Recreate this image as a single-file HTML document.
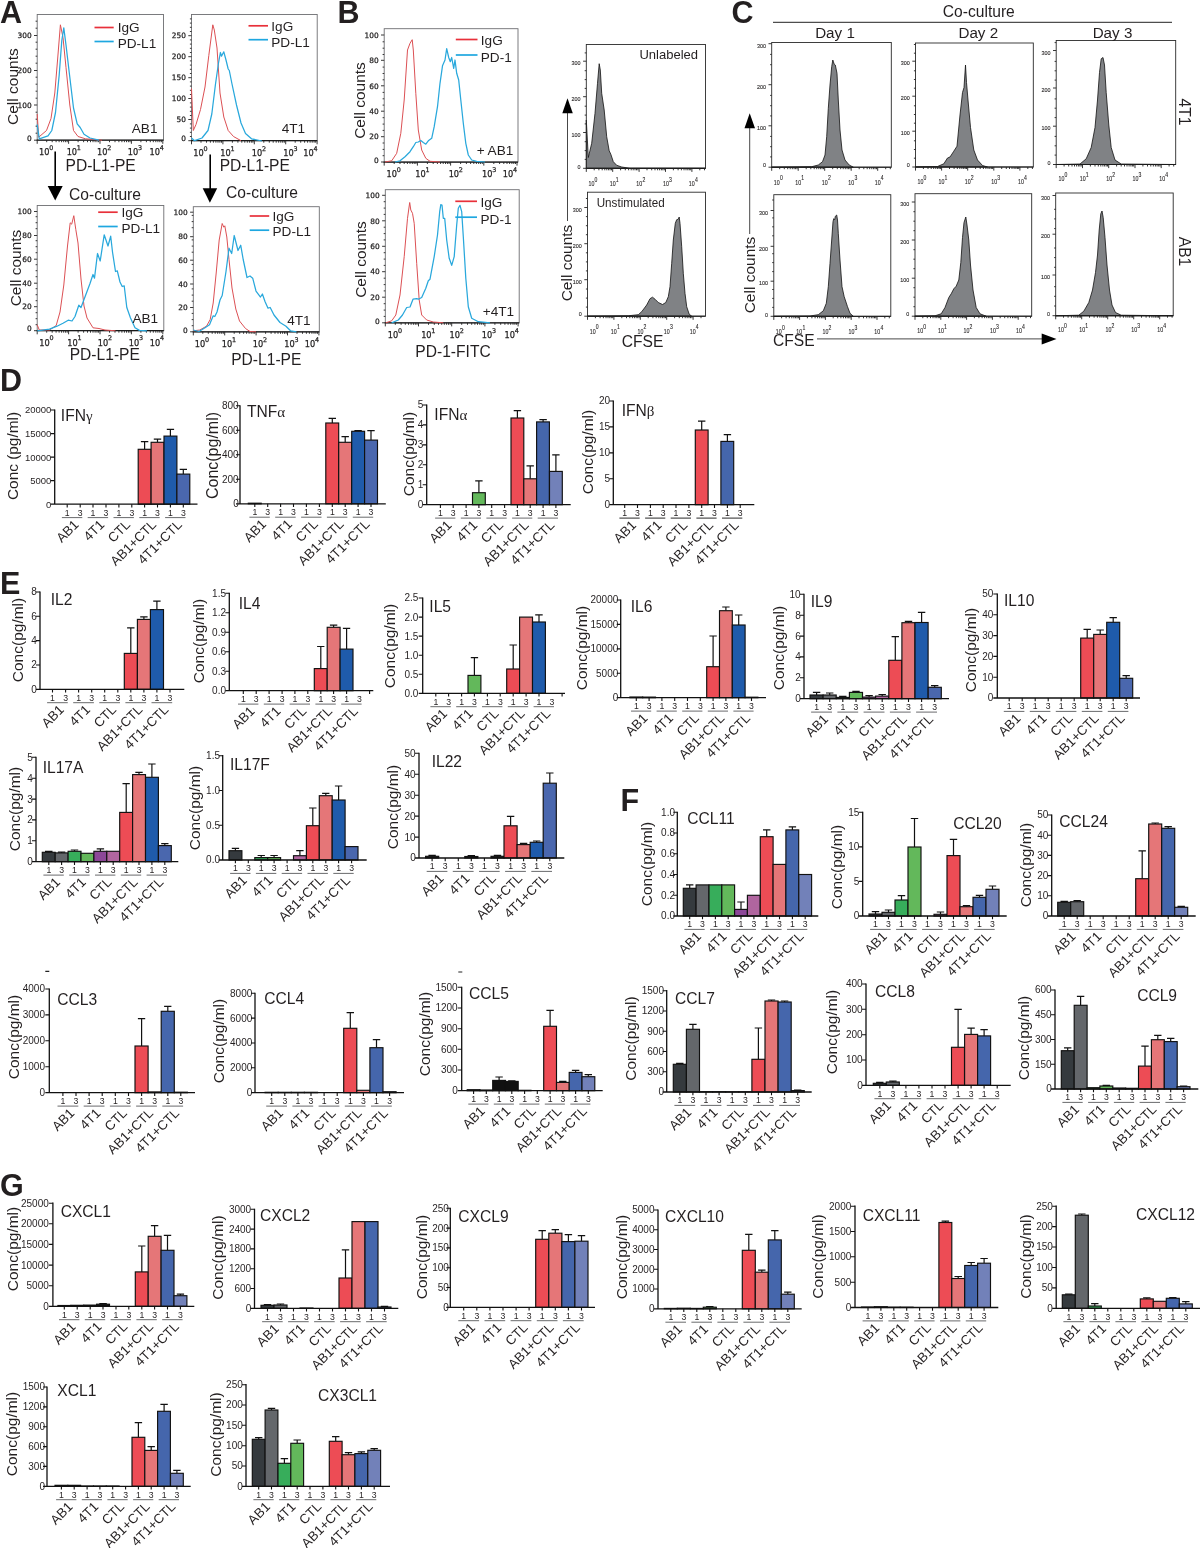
<!DOCTYPE html>
<html><head><meta charset="utf-8"><title>Figure</title>
<style>
html,body{margin:0;padding:0;background:#fff}
svg{display:block}
text{font-family:"Liberation Sans",sans-serif;fill:#231f20}
.pl{font-family:"Liberation Sans",sans-serif;font-weight:bold;font-size:30.5px}
.dj{font-family:"DejaVu Sans",sans-serif}
</style></head><body>
<svg width="1200" height="1548" viewBox="0 0 1200 1548">
<rect width="1200" height="1548" fill="#fff"/>
<g id="A1"><rect x="37.2" y="14.5" width="126.3" height="125.7" fill="none" stroke="#6d6e71" stroke-width="0.9"/><path d="M36.7 140.2H163.5" fill="none" stroke="#1a1a1a" stroke-width="1.25"/><path d="M34.0 35.5H37.2M34.0 70.5H37.2M34.0 105.0H37.2M34.0 140.2H37.2M35.6 133.2H37.2M35.6 126.2H37.2M35.6 119.2H37.2M35.6 112.2H37.2M35.6 98.2H37.2M35.6 91.2H37.2M35.6 84.2H37.2M35.6 77.2H37.2M35.6 63.2H37.2M35.6 56.2H37.2M35.6 49.2H37.2M35.6 42.2H37.2M35.6 28.2H37.2M35.6 21.2H37.2M37.2 140.2v3.6M46.7 140.2v2M52.2 140.2v2M56.1 140.2v2M59.1 140.2v2M61.6 140.2v2M63.7 140.2v2M65.6 140.2v2M67.2 140.2v2M68.6 140.2v3.6M78.1 140.2v2M83.6 140.2v2M87.5 140.2v2M90.5 140.2v2M93.0 140.2v2M95.1 140.2v2M97.0 140.2v2M98.6 140.2v2M100.0 140.2v3.6M109.5 140.2v2M115.0 140.2v2M118.9 140.2v2M121.9 140.2v2M124.4 140.2v2M126.5 140.2v2M128.4 140.2v2M130.0 140.2v2M131.4 140.2v3.6M140.9 140.2v2M146.4 140.2v2M150.3 140.2v2M153.3 140.2v2M155.8 140.2v2M157.9 140.2v2M159.8 140.2v2M161.4 140.2v2M162.8 140.2v3.6" stroke="#222" stroke-width="0.9" fill="none"/><text class="dj" x="31.6" y="38.2" font-size="7.4" text-anchor="end" fill="#222" stroke="#222" stroke-width="0.25">300</text><text class="dj" x="31.6" y="73.2" font-size="7.4" text-anchor="end" fill="#222" stroke="#222" stroke-width="0.25">200</text><text class="dj" x="31.6" y="107.7" font-size="7.4" text-anchor="end" fill="#222" stroke="#222" stroke-width="0.25">100</text><text class="dj" x="31.6" y="140.9" font-size="7.4" text-anchor="end" fill="#222" stroke="#222" stroke-width="0.25">0</text><text class="dj" x="46.1" y="155.3" font-size="8.2" text-anchor="middle" fill="#222" stroke="#222" stroke-width="0.25">10<tspan dy="-5.3" dx="-0.2" font-size="6.4">0</tspan></text><text class="dj" x="73.8" y="155.3" font-size="8.2" text-anchor="middle" fill="#222" stroke="#222" stroke-width="0.25">10<tspan dy="-5.3" dx="-0.2" font-size="6.4">1</tspan></text><text class="dj" x="104.2" y="155.3" font-size="8.2" text-anchor="middle" fill="#222" stroke="#222" stroke-width="0.25">10<tspan dy="-5.3" dx="-0.2" font-size="6.4">2</tspan></text><text class="dj" x="135.0" y="155.3" font-size="8.2" text-anchor="middle" fill="#222" stroke="#222" stroke-width="0.25">10<tspan dy="-5.3" dx="-0.2" font-size="6.4">3</tspan></text><text class="dj" x="156.7" y="155.3" font-size="8.2" text-anchor="middle" fill="#222" stroke="#222" stroke-width="0.25">10<tspan dy="-5.3" dx="-0.2" font-size="6.4">4</tspan></text><path d="M37.2 114.0 L38.7 137.2 L46.5 130.5 L51.0 118.5 L54.8 93.0 L57.8 57.0 L60.4 24.8 L63.0 37.5 L66.0 67.5 L69.8 105.0 L73.5 130.5 L78.0 136.5 L85.5 138.8 L102.0 140.2" fill="none" stroke="#dc5054" stroke-width="1.0" stroke-linejoin="round"/><path d="M37.2 124.5 L39.3 138.8 L48.0 135.8 L51.8 130.5 L55.5 112.5 L59.2 75.0 L61.8 40.5 L63.8 27.8 L66.0 45.0 L69.0 70.5 L73.5 108.0 L77.2 123.8 L80.2 127.5 L84.0 134.2 L90.0 138.0 L99.0 140.2" fill="none" stroke="#29a8dc" stroke-width="1.25" stroke-linejoin="round"/><path d="M94.5 27.5H113.7" stroke="#e8303a" stroke-width="1.7"/><path d="M94.5 41.5H113.7" stroke="#1ea7e0" stroke-width="1.7"/><text x="117.7" y="32.2" font-size="13.6">IgG</text><text x="117.7" y="48.0" font-size="13.6">PD-L1</text><text x="157.5" y="132.7" font-size="13.6" text-anchor="end">AB1</text><text transform="translate(18.2 86.6) rotate(-90)" font-size="15.5" text-anchor="middle">Cell counts</text><text x="65.5" y="170.7" font-size="15.6">PD-L1-PE</text></g>
<g id="A2"><rect x="191.5" y="14.5" width="125.7" height="126.2" fill="none" stroke="#6d6e71" stroke-width="0.9"/><path d="M191.0 140.7H317.2" fill="none" stroke="#1a1a1a" stroke-width="1.25"/><path d="M188.3 35.7H191.5M188.3 56.7H191.5M188.3 77.7H191.5M188.3 98.5H191.5M188.3 119.5H191.5M188.3 140.7H191.5M189.9 136.5H191.5M189.9 132.3H191.5M189.9 128.1H191.5M189.9 123.9H191.5M189.9 115.5H191.5M189.9 111.3H191.5M189.9 107.1H191.5M189.9 102.9H191.5M189.9 94.5H191.5M189.9 90.3H191.5M189.9 86.1H191.5M189.9 81.9H191.5M189.9 73.5H191.5M189.9 69.3H191.5M189.9 65.1H191.5M189.9 60.9H191.5M189.9 52.5H191.5M189.9 48.3H191.5M189.9 44.1H191.5M189.9 39.9H191.5M189.9 31.5H191.5M189.9 27.3H191.5M189.9 23.1H191.5M189.9 18.9H191.5M191.5 140.7v3.6M201.0 140.7v2M206.5 140.7v2M210.4 140.7v2M213.4 140.7v2M215.9 140.7v2M218.0 140.7v2M219.9 140.7v2M221.5 140.7v2M222.9 140.7v3.6M232.4 140.7v2M237.9 140.7v2M241.8 140.7v2M244.8 140.7v2M247.3 140.7v2M249.4 140.7v2M251.3 140.7v2M252.9 140.7v2M254.3 140.7v3.6M263.8 140.7v2M269.3 140.7v2M273.2 140.7v2M276.2 140.7v2M278.7 140.7v2M280.8 140.7v2M282.7 140.7v2M284.3 140.7v2M285.7 140.7v3.6M295.2 140.7v2M300.7 140.7v2M304.6 140.7v2M307.6 140.7v2M310.1 140.7v2M312.2 140.7v2M314.1 140.7v2M315.7 140.7v2M317.1 140.7v3.6" stroke="#222" stroke-width="0.9" fill="none"/><text class="dj" x="185.9" y="38.4" font-size="7.4" text-anchor="end" fill="#222" stroke="#222" stroke-width="0.25">250</text><text class="dj" x="185.9" y="59.4" font-size="7.4" text-anchor="end" fill="#222" stroke="#222" stroke-width="0.25">200</text><text class="dj" x="185.9" y="80.4" font-size="7.4" text-anchor="end" fill="#222" stroke="#222" stroke-width="0.25">150</text><text class="dj" x="185.9" y="101.2" font-size="7.4" text-anchor="end" fill="#222" stroke="#222" stroke-width="0.25">100</text><text class="dj" x="185.9" y="122.2" font-size="7.4" text-anchor="end" fill="#222" stroke="#222" stroke-width="0.25">50</text><text class="dj" x="185.9" y="141.4" font-size="7.4" text-anchor="end" fill="#222" stroke="#222" stroke-width="0.25">0</text><text class="dj" x="200.5" y="156.0" font-size="8.2" text-anchor="middle" fill="#222" stroke="#222" stroke-width="0.25">10<tspan dy="-5.3" dx="-0.2" font-size="6.4">0</tspan></text><text class="dj" x="227.5" y="156.0" font-size="8.2" text-anchor="middle" fill="#222" stroke="#222" stroke-width="0.25">10<tspan dy="-5.3" dx="-0.2" font-size="6.4">1</tspan></text><text class="dj" x="259.0" y="156.0" font-size="8.2" text-anchor="middle" fill="#222" stroke="#222" stroke-width="0.25">10<tspan dy="-5.3" dx="-0.2" font-size="6.4">2</tspan></text><text class="dj" x="290.5" y="156.0" font-size="8.2" text-anchor="middle" fill="#222" stroke="#222" stroke-width="0.25">10<tspan dy="-5.3" dx="-0.2" font-size="6.4">3</tspan></text><text class="dj" x="310.5" y="156.0" font-size="8.2" text-anchor="middle" fill="#222" stroke="#222" stroke-width="0.25">10<tspan dy="-5.3" dx="-0.2" font-size="6.4">4</tspan></text><path d="M191.5 88.5 L193.3 130.5 L196.0 124.5 L200.5 109.5 L205.0 87.0 L208.8 55.5 L212.8 24.8 L214.3 30.0 L217.0 48.0 L220.0 93.0 L223.8 117.0 L228.2 130.5 L233.5 136.5 L241.0 140.7" fill="none" stroke="#dc5054" stroke-width="1.0" stroke-linejoin="round"/><path d="M191.5 138.0 L194.5 140.7 L202.0 138.0 L208.0 130.5 L211.8 114.0 L215.5 84.0 L218.5 63.0 L220.4 52.5 L221.5 56.2 L223.8 51.8 L226.0 60.0 L228.2 69.0 L229.3 70.5 L232.0 84.0 L236.5 105.0 L241.0 123.0 L245.5 133.5 L251.5 138.8 L262.0 141.0" fill="none" stroke="#29a8dc" stroke-width="1.25" stroke-linejoin="round"/><path d="M248.5 25.8H268.0" stroke="#e8303a" stroke-width="1.7"/><path d="M248.5 39.7H268.0" stroke="#1ea7e0" stroke-width="1.7"/><text x="271.3" y="30.7" font-size="13.6">IgG</text><text x="271.3" y="46.5" font-size="13.6">PD-L1</text><text x="305.2" y="133.2" font-size="13.6" text-anchor="end">4T1</text><text x="219.7" y="171" font-size="15.6">PD-L1-PE</text></g>
<g id="A3"><rect x="37.2" y="205.5" width="126.6" height="125.2" fill="none" stroke="#6d6e71" stroke-width="0.9"/><path d="M36.7 330.7H163.8" fill="none" stroke="#1a1a1a" stroke-width="1.25"/><path d="M34.0 211.5H37.2M34.0 235.5H37.2M34.0 259.2H37.2M34.0 283.2H37.2M34.0 306.7H37.2M34.0 330.7H37.2M35.6 324.7H37.2M35.6 318.7H37.2M35.6 312.7H37.2M35.6 300.7H37.2M35.6 294.7H37.2M35.6 288.7H37.2M35.6 276.7H37.2M35.6 270.7H37.2M35.6 264.7H37.2M35.6 252.7H37.2M35.6 246.7H37.2M35.6 240.7H37.2M35.6 228.7H37.2M35.6 222.7H37.2M35.6 216.7H37.2M37.2 330.7v3.6M46.7 330.7v2M52.2 330.7v2M56.1 330.7v2M59.1 330.7v2M61.6 330.7v2M63.7 330.7v2M65.6 330.7v2M67.2 330.7v2M68.6 330.7v3.6M78.1 330.7v2M83.6 330.7v2M87.5 330.7v2M90.5 330.7v2M93.0 330.7v2M95.1 330.7v2M97.0 330.7v2M98.6 330.7v2M100.0 330.7v3.6M109.5 330.7v2M115.0 330.7v2M118.9 330.7v2M121.9 330.7v2M124.4 330.7v2M126.5 330.7v2M128.4 330.7v2M130.0 330.7v2M131.4 330.7v3.6M140.9 330.7v2M146.4 330.7v2M150.3 330.7v2M153.3 330.7v2M155.8 330.7v2M157.9 330.7v2M159.8 330.7v2M161.4 330.7v2M162.8 330.7v3.6" stroke="#222" stroke-width="0.9" fill="none"/><text class="dj" x="31.6" y="214.2" font-size="7.4" text-anchor="end" fill="#222" stroke="#222" stroke-width="0.25">100</text><text class="dj" x="31.6" y="238.2" font-size="7.4" text-anchor="end" fill="#222" stroke="#222" stroke-width="0.25">80</text><text class="dj" x="31.6" y="261.9" font-size="7.4" text-anchor="end" fill="#222" stroke="#222" stroke-width="0.25">60</text><text class="dj" x="31.6" y="285.9" font-size="7.4" text-anchor="end" fill="#222" stroke="#222" stroke-width="0.25">40</text><text class="dj" x="31.6" y="309.4" font-size="7.4" text-anchor="end" fill="#222" stroke="#222" stroke-width="0.25">20</text><text class="dj" x="31.6" y="331.4" font-size="7.4" text-anchor="end" fill="#222" stroke="#222" stroke-width="0.25">0</text><text class="dj" x="46.5" y="345.5" font-size="8.2" text-anchor="middle" fill="#222" stroke="#222" stroke-width="0.25">10<tspan dy="-5.3" dx="-0.2" font-size="6.4">0</tspan></text><text class="dj" x="74.5" y="345.5" font-size="8.2" text-anchor="middle" fill="#222" stroke="#222" stroke-width="0.25">10<tspan dy="-5.3" dx="-0.2" font-size="6.4">1</tspan></text><text class="dj" x="105.0" y="345.5" font-size="8.2" text-anchor="middle" fill="#222" stroke="#222" stroke-width="0.25">10<tspan dy="-5.3" dx="-0.2" font-size="6.4">2</tspan></text><text class="dj" x="136.0" y="345.5" font-size="8.2" text-anchor="middle" fill="#222" stroke="#222" stroke-width="0.25">10<tspan dy="-5.3" dx="-0.2" font-size="6.4">3</tspan></text><text class="dj" x="157.0" y="345.5" font-size="8.2" text-anchor="middle" fill="#222" stroke="#222" stroke-width="0.25">10<tspan dy="-5.3" dx="-0.2" font-size="6.4">4</tspan></text><path d="M37.2 324.8 L39.3 330.0 L49.5 330.0 L56.2 325.5 L60.0 312.0 L63.8 285.0 L67.5 246.0 L70.2 222.8 L71.7 224.2 L73.8 215.7 L75.8 229.5 L78.0 243.0 L81.0 279.0 L84.0 306.0 L87.0 318.0 L93.0 327.8 L99.0 328.5 L105.0 330.0 L115.5 330.8" fill="none" stroke="#dc5054" stroke-width="1.0" stroke-linejoin="round"/><path d="M37.2 330.8 L49.5 329.2 L57.0 326.2 L63.0 323.2 L68.2 320.2 L72.0 321.0 L75.0 316.5 L78.8 305.2 L81.0 307.5 L85.5 295.5 L90.0 283.5 L93.0 274.5 L94.5 278.2 L97.5 253.5 L100.2 261.0 L104.2 234.8 L108.0 246.0 L110.7 236.2 L112.5 252.0 L115.5 271.5 L117.3 270.8 L120.0 282.0 L122.2 286.5 L124.2 285.8 L126.8 307.5 L130.5 318.0 L135.0 327.8 L139.5 330.4 L147.0 330.8" fill="none" stroke="#29a8dc" stroke-width="1.25" stroke-linejoin="round"/><path d="M98.2 212.2H117.7" stroke="#e8303a" stroke-width="1.7"/><path d="M98.2 226.5H117.7" stroke="#1ea7e0" stroke-width="1.7"/><text x="121.5" y="216.7" font-size="13.6">IgG</text><text x="121.5" y="232.5" font-size="13.6">PD-L1</text><text x="158.2" y="323.2" font-size="13.6" text-anchor="end">AB1</text><text transform="translate(21.2 268.0) rotate(-90)" font-size="15.5" text-anchor="middle">Cell counts</text><text x="69.7" y="360" font-size="15.6">PD-L1-PE</text><text x="69" y="199.5" font-size="15.6">Co-culture</text><path d="M55.2 151.5V188" stroke="#000" stroke-width="1.6"/><path d="M47.7 186H62.7L55.2 200.5Z" fill="#000"/></g>
<g id="A4"><rect x="193.3" y="206.7" width="126.0" height="125.1" fill="none" stroke="#6d6e71" stroke-width="0.9"/><path d="M192.8 331.8H319.3" fill="none" stroke="#1a1a1a" stroke-width="1.25"/><path d="M190.1 212.2H193.3M190.1 236.7H193.3M190.1 260.2H193.3M190.1 284.0H193.3M190.1 307.5H193.3M190.1 331.8H193.3M191.7 325.7H193.3M191.7 319.6H193.3M191.7 313.4H193.3M191.7 301.2H193.3M191.7 295.1H193.3M191.7 288.9H193.3M191.7 276.7H193.3M191.7 270.6H193.3M191.7 264.4H193.3M191.7 252.2H193.3M191.7 246.1H193.3M191.7 239.9H193.3M191.7 227.7H193.3M191.7 221.6H193.3M191.7 215.4H193.3M193.3 331.8v3.6M202.8 331.8v2M208.3 331.8v2M212.2 331.8v2M215.2 331.8v2M217.7 331.8v2M219.8 331.8v2M221.7 331.8v2M223.3 331.8v2M224.7 331.8v3.6M234.2 331.8v2M239.7 331.8v2M243.6 331.8v2M246.6 331.8v2M249.1 331.8v2M251.2 331.8v2M253.1 331.8v2M254.7 331.8v2M256.1 331.8v3.6M265.6 331.8v2M271.1 331.8v2M275.0 331.8v2M278.0 331.8v2M280.5 331.8v2M282.6 331.8v2M284.5 331.8v2M286.1 331.8v2M287.5 331.8v3.6M297.0 331.8v2M302.5 331.8v2M306.4 331.8v2M309.4 331.8v2M311.9 331.8v2M314.0 331.8v2M315.9 331.8v2M317.5 331.8v2M318.9 331.8v3.6" stroke="#222" stroke-width="0.9" fill="none"/><text class="dj" x="187.7" y="214.9" font-size="7.4" text-anchor="end" fill="#222" stroke="#222" stroke-width="0.25">100</text><text class="dj" x="187.7" y="239.4" font-size="7.4" text-anchor="end" fill="#222" stroke="#222" stroke-width="0.25">80</text><text class="dj" x="187.7" y="262.9" font-size="7.4" text-anchor="end" fill="#222" stroke="#222" stroke-width="0.25">60</text><text class="dj" x="187.7" y="286.7" font-size="7.4" text-anchor="end" fill="#222" stroke="#222" stroke-width="0.25">40</text><text class="dj" x="187.7" y="310.2" font-size="7.4" text-anchor="end" fill="#222" stroke="#222" stroke-width="0.25">20</text><text class="dj" x="187.7" y="332.5" font-size="7.4" text-anchor="end" fill="#222" stroke="#222" stroke-width="0.25">0</text><text class="dj" x="202.0" y="347.0" font-size="8.2" text-anchor="middle" fill="#222" stroke="#222" stroke-width="0.25">10<tspan dy="-5.3" dx="-0.2" font-size="6.4">0</tspan></text><text class="dj" x="229.0" y="347.0" font-size="8.2" text-anchor="middle" fill="#222" stroke="#222" stroke-width="0.25">10<tspan dy="-5.3" dx="-0.2" font-size="6.4">1</tspan></text><text class="dj" x="260.0" y="347.0" font-size="8.2" text-anchor="middle" fill="#222" stroke="#222" stroke-width="0.25">10<tspan dy="-5.3" dx="-0.2" font-size="6.4">2</tspan></text><text class="dj" x="291.5" y="347.0" font-size="8.2" text-anchor="middle" fill="#222" stroke="#222" stroke-width="0.25">10<tspan dy="-5.3" dx="-0.2" font-size="6.4">3</tspan></text><text class="dj" x="312.0" y="347.0" font-size="8.2" text-anchor="middle" fill="#222" stroke="#222" stroke-width="0.25">10<tspan dy="-5.3" dx="-0.2" font-size="6.4">4</tspan></text><path d="M193.3 330.8 L199.8 330.0 L206.5 326.2 L210.2 319.5 L213.2 303.0 L216.2 273.0 L219.2 240.0 L222.2 223.5 L223.8 227.2 L224.8 225.8 L226.8 237.0 L229.0 259.5 L232.0 288.0 L235.8 309.0 L239.5 321.0 L245.5 328.5 L250.0 331.5 L256.0 331.8" fill="none" stroke="#dc5054" stroke-width="1.0" stroke-linejoin="round"/><path d="M193.3 330.0 L199.0 331.5 L205.0 327.8 L209.5 324.8 L213.2 315.8 L214.8 316.5 L217.0 312.0 L220.0 300.0 L222.2 295.5 L226.0 271.5 L229.0 248.2 L231.7 253.5 L234.2 235.5 L238.0 250.5 L240.7 245.2 L243.2 259.5 L247.0 277.5 L250.0 276.0 L252.7 278.2 L256.0 291.0 L260.5 297.0 L262.4 294.0 L265.0 301.5 L268.0 308.2 L270.2 307.5 L274.0 315.0 L280.0 322.5 L286.0 326.2 L290.5 330.8 L296.5 331.8" fill="none" stroke="#29a8dc" stroke-width="1.25" stroke-linejoin="round"/><path d="M249.7 216.0H269.2" stroke="#e8303a" stroke-width="1.7"/><path d="M249.7 230.2H269.2" stroke="#1ea7e0" stroke-width="1.7"/><text x="272.5" y="220.5" font-size="13.6">IgG</text><text x="272.5" y="236.2" font-size="13.6">PD-L1</text><text x="310.7" y="324.7" font-size="13.6" text-anchor="end">4T1</text><text x="231.2" y="365" font-size="15.6">PD-L1-PE</text><text x="226" y="198" font-size="15.6">Co-culture</text><path d="M210.2 154.5V190" stroke="#000" stroke-width="1.6"/><path d="M202.7 188.2H217.2L209.9 202.7Z" fill="#000"/></g>
<g id="B1"><rect x="384.2" y="28.7" width="133.8" height="133.3" fill="none" stroke="#6d6e71" stroke-width="0.9"/><path d="M383.7 162.0H518.0" fill="none" stroke="#1a1a1a" stroke-width="1.25"/><path d="M381.0 35.0H384.2M381.0 60.3H384.2M381.0 85.8H384.2M381.0 111.2H384.2M381.0 136.7H384.2M381.0 162.0H384.2M382.6 155.7H384.2M382.6 149.4H384.2M382.6 143.0H384.2M382.6 130.4H384.2M382.6 124.1H384.2M382.6 117.7H384.2M382.6 105.1H384.2M382.6 98.8H384.2M382.6 92.4H384.2M382.6 79.8H384.2M382.6 73.5H384.2M382.6 67.1H384.2M382.6 54.5H384.2M382.6 48.2H384.2M382.6 41.8H384.2M384.2 162.0v3.6M394.2 162.0v2M400.0 162.0v2M404.2 162.0v2M407.4 162.0v2M410.0 162.0v2M412.3 162.0v2M414.2 162.0v2M415.9 162.0v2M417.4 162.0v3.6M427.4 162.0v2M433.2 162.0v2M437.4 162.0v2M440.6 162.0v2M443.2 162.0v2M445.5 162.0v2M447.4 162.0v2M449.1 162.0v2M450.6 162.0v3.6M460.6 162.0v2M466.4 162.0v2M470.6 162.0v2M473.8 162.0v2M476.4 162.0v2M478.7 162.0v2M480.6 162.0v2M482.3 162.0v2M483.8 162.0v3.6M493.8 162.0v2M499.6 162.0v2M503.8 162.0v2M507.0 162.0v2M509.6 162.0v2M511.9 162.0v2M513.8 162.0v2M515.5 162.0v2M517.0 162.0v3.6" stroke="#222" stroke-width="0.9" fill="none"/><text class="dj" x="378.6" y="37.7" font-size="7.4" text-anchor="end" fill="#222" stroke="#222" stroke-width="0.25">100</text><text class="dj" x="378.6" y="63.0" font-size="7.4" text-anchor="end" fill="#222" stroke="#222" stroke-width="0.25">80</text><text class="dj" x="378.6" y="88.5" font-size="7.4" text-anchor="end" fill="#222" stroke="#222" stroke-width="0.25">60</text><text class="dj" x="378.6" y="113.9" font-size="7.4" text-anchor="end" fill="#222" stroke="#222" stroke-width="0.25">40</text><text class="dj" x="378.6" y="139.4" font-size="7.4" text-anchor="end" fill="#222" stroke="#222" stroke-width="0.25">20</text><text class="dj" x="378.6" y="162.7" font-size="7.4" text-anchor="end" fill="#222" stroke="#222" stroke-width="0.25">0</text><text class="dj" x="393.6" y="177.3" font-size="8.2" text-anchor="middle" fill="#222" stroke="#222" stroke-width="0.25">10<tspan dy="-5.3" dx="-0.2" font-size="6.4">0</tspan></text><text class="dj" x="422.5" y="177.3" font-size="8.2" text-anchor="middle" fill="#222" stroke="#222" stroke-width="0.25">10<tspan dy="-5.3" dx="-0.2" font-size="6.4">1</tspan></text><text class="dj" x="455.8" y="177.3" font-size="8.2" text-anchor="middle" fill="#222" stroke="#222" stroke-width="0.25">10<tspan dy="-5.3" dx="-0.2" font-size="6.4">2</tspan></text><text class="dj" x="489.2" y="177.3" font-size="8.2" text-anchor="middle" fill="#222" stroke="#222" stroke-width="0.25">10<tspan dy="-5.3" dx="-0.2" font-size="6.4">3</tspan></text><text class="dj" x="510.0" y="177.3" font-size="8.2" text-anchor="middle" fill="#222" stroke="#222" stroke-width="0.25">10<tspan dy="-5.3" dx="-0.2" font-size="6.4">4</tspan></text><path d="M385.0 162.0 L391.7 160.8 L396.7 153.3 L400.8 133.3 L404.2 100.0 L407.5 50.0 L410.0 43.3 L412.2 39.7 L413.3 50.0 L415.8 93.3 L418.3 130.0 L421.7 150.0 L425.8 158.3 L430.0 161.3 L440.0 162.0" fill="none" stroke="#dc5054" stroke-width="1.0" stroke-linejoin="round"/><path d="M395.0 162.0 L400.0 160.8 L405.0 156.7 L410.0 151.7 L413.3 146.7 L415.8 142.5 L418.3 142.0 L420.8 140.5 L423.3 142.5 L425.8 144.2 L428.3 140.8 L431.7 138.3 L434.2 126.7 L437.5 106.7 L440.0 83.3 L442.5 65.8 L445.0 60.0 L446.7 48.7 L448.7 57.5 L450.3 61.7 L451.7 57.5 L453.7 68.3 L455.0 60.0 L456.7 73.3 L458.7 80.0 L460.8 100.0 L463.3 123.3 L465.8 143.3 L468.3 155.0 L471.7 160.0 L476.7 161.3 L485.0 162.0" fill="none" stroke="#29a8dc" stroke-width="1.25" stroke-linejoin="round"/><path d="M455.8 39.5H477.5" stroke="#e8303a" stroke-width="1.7"/><path d="M455.8 55.0H477.5" stroke="#1ea7e0" stroke-width="1.7"/><text x="480.8" y="45.0" font-size="13.6">IgG</text><text x="480.8" y="61.7" font-size="13.6">PD-1</text><text x="513.3" y="155" font-size="13.6" text-anchor="end">+ AB1</text><text transform="translate(364.7 100.5) rotate(-90)" font-size="15.5" text-anchor="middle">Cell counts</text></g>
<g id="B2"><rect x="385.3" y="189.7" width="133.9" height="133.1" fill="none" stroke="#6d6e71" stroke-width="0.9"/><path d="M384.8 322.8H519.2" fill="none" stroke="#1a1a1a" stroke-width="1.25"/><path d="M382.1 195.3H385.3M382.1 220.8H385.3M382.1 246.3H385.3M382.1 271.7H385.3M382.1 297.2H385.3M382.1 322.8H385.3M383.7 316.4H385.3M383.7 310.1H385.3M383.7 303.7H385.3M383.7 290.9H385.3M383.7 284.6H385.3M383.7 278.2H385.3M383.7 265.4H385.3M383.7 259.1H385.3M383.7 252.7H385.3M383.7 239.9H385.3M383.7 233.6H385.3M383.7 227.2H385.3M383.7 214.4H385.3M383.7 208.1H385.3M383.7 201.7H385.3M385.3 322.8v3.6M395.3 322.8v2M401.1 322.8v2M405.3 322.8v2M408.5 322.8v2M411.1 322.8v2M413.4 322.8v2M415.3 322.8v2M417.0 322.8v2M418.5 322.8v3.6M428.5 322.8v2M434.3 322.8v2M438.5 322.8v2M441.7 322.8v2M444.3 322.8v2M446.6 322.8v2M448.5 322.8v2M450.2 322.8v2M451.7 322.8v3.6M461.7 322.8v2M467.5 322.8v2M471.7 322.8v2M474.9 322.8v2M477.5 322.8v2M479.8 322.8v2M481.7 322.8v2M483.4 322.8v2M484.9 322.8v3.6M494.9 322.8v2M500.7 322.8v2M504.9 322.8v2M508.1 322.8v2M510.7 322.8v2M513.0 322.8v2M514.9 322.8v2M516.6 322.8v2M518.1 322.8v3.6" stroke="#222" stroke-width="0.9" fill="none"/><text class="dj" x="379.7" y="198.0" font-size="7.4" text-anchor="end" fill="#222" stroke="#222" stroke-width="0.25">100</text><text class="dj" x="379.7" y="223.5" font-size="7.4" text-anchor="end" fill="#222" stroke="#222" stroke-width="0.25">80</text><text class="dj" x="379.7" y="249.0" font-size="7.4" text-anchor="end" fill="#222" stroke="#222" stroke-width="0.25">60</text><text class="dj" x="379.7" y="274.4" font-size="7.4" text-anchor="end" fill="#222" stroke="#222" stroke-width="0.25">40</text><text class="dj" x="379.7" y="299.9" font-size="7.4" text-anchor="end" fill="#222" stroke="#222" stroke-width="0.25">20</text><text class="dj" x="379.7" y="323.5" font-size="7.4" text-anchor="end" fill="#222" stroke="#222" stroke-width="0.25">0</text><text class="dj" x="395.0" y="338.3" font-size="8.2" text-anchor="middle" fill="#222" stroke="#222" stroke-width="0.25">10<tspan dy="-5.3" dx="-0.2" font-size="6.4">0</tspan></text><text class="dj" x="428.3" y="338.3" font-size="8.2" text-anchor="middle" fill="#222" stroke="#222" stroke-width="0.25">10<tspan dy="-5.3" dx="-0.2" font-size="6.4">1</tspan></text><text class="dj" x="456.7" y="338.3" font-size="8.2" text-anchor="middle" fill="#222" stroke="#222" stroke-width="0.25">10<tspan dy="-5.3" dx="-0.2" font-size="6.4">2</tspan></text><text class="dj" x="489.0" y="338.3" font-size="8.2" text-anchor="middle" fill="#222" stroke="#222" stroke-width="0.25">10<tspan dy="-5.3" dx="-0.2" font-size="6.4">3</tspan></text><text class="dj" x="511.7" y="338.3" font-size="8.2" text-anchor="middle" fill="#222" stroke="#222" stroke-width="0.25">10<tspan dy="-5.3" dx="-0.2" font-size="6.4">4</tspan></text><path d="M385.8 322.8 L391.7 320.8 L395.8 315.0 L400.0 295.0 L404.2 256.7 L407.5 218.3 L409.7 202.5 L410.8 210.0 L412.5 213.3 L414.2 223.3 L416.7 263.3 L419.2 300.0 L421.7 315.0 L426.7 320.0 L433.3 322.0 L443.3 322.8" fill="none" stroke="#dc5054" stroke-width="1.0" stroke-linejoin="round"/><path d="M391.7 322.8 L398.3 320.0 L402.5 315.0 L406.7 307.5 L410.0 307.0 L413.0 299.2 L416.7 298.7 L418.3 299.2 L421.7 297.5 L425.8 288.3 L428.3 280.8 L430.0 279.2 L434.2 256.7 L437.5 235.0 L439.7 211.7 L440.8 204.7 L442.0 205.0 L443.3 218.3 L444.7 218.3 L446.7 240.0 L449.2 258.3 L451.7 265.3 L454.2 256.7 L456.7 225.0 L458.3 208.3 L460.0 205.3 L461.7 211.7 L463.3 236.7 L465.8 278.3 L468.3 306.7 L471.7 318.3 L478.3 321.7 L490.0 322.8" fill="none" stroke="#29a8dc" stroke-width="1.25" stroke-linejoin="round"/><path d="M455.3 201.3H477.0" stroke="#e8303a" stroke-width="1.7"/><path d="M455.3 217.2H477.0" stroke="#1ea7e0" stroke-width="1.7"/><text x="480.5" y="206.7" font-size="13.6">IgG</text><text x="480.5" y="224.2" font-size="13.6">PD-1</text><text x="514.2" y="315.8" font-size="13.6" text-anchor="end">+4T1</text><text transform="translate(365.5 259.5) rotate(-90)" font-size="15.5" text-anchor="middle">Cell counts</text><text x="415.3" y="356.7" font-size="15.6">PD-1-FITC</text></g>
<g id="B3"><path d="M586.3 168.3 L586.3 120.0 L588.3 157.5 L591.7 143.3 L595.0 113.3 L597.5 83.3 L599.2 63.7 L600.3 70.0 L601.7 93.3 L604.2 110.0 L606.7 136.7 L609.2 150.8 L610.8 154.2 L613.3 161.7 L616.7 165.3 L621.7 167.0 L630.0 168.3 L705.5 168.3Z" fill="#808285" stroke="#111" stroke-width="0.8" stroke-linejoin="round"/><rect x="586.3" y="44.5" width="119.2" height="123.8" fill="none" stroke="#2a2a2a" stroke-width="0.9"/><path d="M585.8 168.3H705.5" fill="none" stroke="#1a1a1a" stroke-width="1.0"/><path d="M583.1 61.2H586.3M583.1 96.7H586.3M583.1 132.5H586.3M583.1 168.3H586.3M584.7 159.4H586.3M584.7 150.6H586.3M584.7 141.7H586.3M584.7 123.9H586.3M584.7 115.1H586.3M584.7 106.2H586.3M584.7 88.4H586.3M584.7 79.6H586.3M584.7 70.7H586.3M584.7 52.9H586.3M586.3 168.3v3.6M594.2 168.3v2M598.9 168.3v2M602.2 168.3v2M604.8 168.3v2M606.8 168.3v2M608.6 168.3v2M610.1 168.3v2M611.5 168.3v2M612.7 168.3v3.6M620.6 168.3v2M625.3 168.3v2M628.6 168.3v2M631.2 168.3v2M633.2 168.3v2M635.0 168.3v2M636.5 168.3v2M637.9 168.3v2M639.1 168.3v3.6M647.0 168.3v2M651.7 168.3v2M655.0 168.3v2M657.6 168.3v2M659.6 168.3v2M661.4 168.3v2M662.9 168.3v2M664.3 168.3v2M665.5 168.3v3.6M673.4 168.3v2M678.1 168.3v2M681.4 168.3v2M684.0 168.3v2M686.0 168.3v2M687.8 168.3v2M689.3 168.3v2M690.7 168.3v2M691.9 168.3v3.6M699.8 168.3v2M704.5 168.3v2" stroke="#222" stroke-width="0.9" fill="none"/><text class="" x="580.5" y="65.4" font-size="5.4" text-anchor="end" fill="#222" stroke="#222" stroke-width="0.1">300</text><text class="" x="580.5" y="100.9" font-size="5.4" text-anchor="end" fill="#222" stroke="#222" stroke-width="0.1">200</text><text class="" x="580.5" y="136.7" font-size="5.4" text-anchor="end" fill="#222" stroke="#222" stroke-width="0.1">100</text><text class="" x="580.5" y="168.5" font-size="5.4" text-anchor="end" fill="#222" stroke="#222" stroke-width="0.1">0</text><text transform="translate(593.0 186.0) scale(0.8 1)" font-size="6.6" text-anchor="middle" fill="#222" stroke="#222" stroke-width="0.1">10<tspan dy="-4.1" dx="0.2" font-size="6.4">0</tspan></text><text transform="translate(614.2 186.0) scale(0.8 1)" font-size="6.6" text-anchor="middle" fill="#222" stroke="#222" stroke-width="0.1">10<tspan dy="-4.1" dx="0.2" font-size="6.4">1</tspan></text><text transform="translate(640.8 186.0) scale(0.8 1)" font-size="6.6" text-anchor="middle" fill="#222" stroke="#222" stroke-width="0.1">10<tspan dy="-4.1" dx="0.2" font-size="6.4">2</tspan></text><text transform="translate(667.5 186.0) scale(0.8 1)" font-size="6.6" text-anchor="middle" fill="#222" stroke="#222" stroke-width="0.1">10<tspan dy="-4.1" dx="0.2" font-size="6.4">3</tspan></text><text transform="translate(693.3 186.0) scale(0.8 1)" font-size="6.6" text-anchor="middle" fill="#222" stroke="#222" stroke-width="0.1">10<tspan dy="-4.1" dx="0.2" font-size="6.4">4</tspan></text><text x="698" y="58.8" font-size="13" text-anchor="end">Unlabeled</text><path d="M567.5 112V221" stroke="#333" stroke-width="0.9"/><path d="M562.3 113.3H572.8L567.5 98.3Z" fill="#000"/></g>
<g id="B4"><path d="M587.5 316.2 L628.3 315.8 L638.3 314.7 L641.7 311.7 L646.7 305.0 L650.0 298.7 L652.5 297.2 L655.0 299.2 L658.3 302.5 L662.5 304.5 L665.8 302.5 L668.3 296.7 L670.0 286.7 L671.7 263.3 L673.3 240.0 L675.3 223.3 L676.7 219.7 L678.3 219.2 L679.2 217.0 L680.0 223.3 L681.7 246.7 L683.3 273.3 L685.0 293.3 L686.7 306.7 L689.2 314.2 L691.7 316.2Z" fill="#808285" stroke="#111" stroke-width="0.8" stroke-linejoin="round"/><rect x="587.5" y="192.2" width="118.0" height="124.0" fill="none" stroke="#2a2a2a" stroke-width="0.9"/><path d="M587.0 316.2H705.5" fill="none" stroke="#1a1a1a" stroke-width="1.0"/><path d="M584.3 207.5H587.5M584.3 243.7H587.5M584.3 279.7H587.5M584.3 316.2H587.5M585.9 307.1H587.5M585.9 298.1H587.5M585.9 289.0H587.5M585.9 270.9H587.5M585.9 261.9H587.5M585.9 252.8H587.5M585.9 234.7H587.5M585.9 225.7H587.5M585.9 216.6H587.5M585.9 198.5H587.5M587.5 316.2v3.6M595.4 316.2v2M600.1 316.2v2M603.4 316.2v2M606.0 316.2v2M608.0 316.2v2M609.8 316.2v2M611.3 316.2v2M612.7 316.2v2M613.9 316.2v3.6M621.8 316.2v2M626.5 316.2v2M629.8 316.2v2M632.4 316.2v2M634.4 316.2v2M636.2 316.2v2M637.7 316.2v2M639.1 316.2v2M640.3 316.2v3.6M648.2 316.2v2M652.9 316.2v2M656.2 316.2v2M658.8 316.2v2M660.8 316.2v2M662.6 316.2v2M664.1 316.2v2M665.5 316.2v2M666.7 316.2v3.6M674.6 316.2v2M679.3 316.2v2M682.6 316.2v2M685.2 316.2v2M687.2 316.2v2M689.0 316.2v2M690.5 316.2v2M691.9 316.2v2M693.1 316.2v3.6M701.0 316.2v2" stroke="#222" stroke-width="0.9" fill="none"/><text class="" x="581.7" y="211.7" font-size="5.4" text-anchor="end" fill="#222" stroke="#222" stroke-width="0.1">300</text><text class="" x="581.7" y="247.9" font-size="5.4" text-anchor="end" fill="#222" stroke="#222" stroke-width="0.1">200</text><text class="" x="581.7" y="283.9" font-size="5.4" text-anchor="end" fill="#222" stroke="#222" stroke-width="0.1">100</text><text class="" x="581.7" y="316.4" font-size="5.4" text-anchor="end" fill="#222" stroke="#222" stroke-width="0.1">0</text><text transform="translate(594.2 333.5) scale(0.8 1)" font-size="6.6" text-anchor="middle" fill="#222" stroke="#222" stroke-width="0.1">10<tspan dy="-4.1" dx="0.2" font-size="6.4">0</tspan></text><text transform="translate(615.3 333.5) scale(0.8 1)" font-size="6.6" text-anchor="middle" fill="#222" stroke="#222" stroke-width="0.1">10<tspan dy="-4.1" dx="0.2" font-size="6.4">1</tspan></text><text transform="translate(642.0 333.5) scale(0.8 1)" font-size="6.6" text-anchor="middle" fill="#222" stroke="#222" stroke-width="0.1">10<tspan dy="-4.1" dx="0.2" font-size="6.4">2</tspan></text><text transform="translate(668.3 333.5) scale(0.8 1)" font-size="6.6" text-anchor="middle" fill="#222" stroke="#222" stroke-width="0.1">10<tspan dy="-4.1" dx="0.2" font-size="6.4">3</tspan></text><text transform="translate(694.2 333.5) scale(0.8 1)" font-size="6.6" text-anchor="middle" fill="#222" stroke="#222" stroke-width="0.1">10<tspan dy="-4.1" dx="0.2" font-size="6.4">4</tspan></text><text x="596.7" y="206.7" font-size="13" textLength="68" lengthAdjust="spacingAndGlyphs">Unstimulated</text><text transform="translate(572.2 263.0) rotate(-90)" font-size="15.5" text-anchor="middle">Cell counts</text><text x="621.7" y="346.6" font-size="15.6">CFSE</text></g>
<g id="Chead"><path d="M773 22.3H1172" stroke="#222" stroke-width="1"/><text x="978.8" y="17.2" font-size="15.6" text-anchor="middle">Co-culture</text><text x="835" y="37.5" font-size="15.2" text-anchor="middle">Day 1</text><text x="978.3" y="38" font-size="15.2" text-anchor="middle">Day 2</text><text x="1112.5" y="38" font-size="15.2" text-anchor="middle">Day 3</text><text transform="translate(1178.5 112.0) rotate(90)" font-size="15.6" text-anchor="middle">4T1</text><text transform="translate(1178.5 251.5) rotate(90)" font-size="15.6" text-anchor="middle">AB1</text><path d="M749.7 127V234" stroke="#333" stroke-width="0.9"/><path d="M744.5 128.3H755L749.7 113.3Z" fill="#000"/><text transform="translate(754.7 275.0) rotate(-90)" font-size="15.5" text-anchor="middle">Cell counts</text><text x="773" y="345.5" font-size="15.6">CFSE</text><path d="M817 338.9H1043" stroke="#333" stroke-width="0.9"/><path d="M1041.7 333.5V344.5L1056.5 339Z" fill="#000"/></g>
<g id="C1"><path d="M771.7 167.2 L811.7 166.7 L818.3 165.0 L822.5 161.7 L825.0 155.0 L826.7 136.7 L828.3 108.3 L830.0 85.0 L831.7 66.7 L832.8 60.0 L834.2 64.2 L835.3 65.0 L837.0 73.3 L838.3 100.0 L840.0 130.0 L842.0 150.0 L845.0 160.0 L849.2 165.0 L853.3 167.2Z" fill="#808285" stroke="#111" stroke-width="0.8" stroke-linejoin="round"/><rect x="771.7" y="42.5" width="119.6" height="124.7" fill="none" stroke="#2a2a2a" stroke-width="0.9"/><path d="M771.2 167.2H891.3" fill="none" stroke="#1a1a1a" stroke-width="1.0"/><path d="M768.5 43.7H771.7M768.5 84.7H771.7M768.5 125.8H771.7M768.5 167.2H771.7M770.1 156.9H771.7M770.1 146.7H771.7M770.1 136.4H771.7M770.1 115.9H771.7M770.1 105.7H771.7M770.1 95.4H771.7M770.1 74.9H771.7M770.1 64.7H771.7M770.1 54.4H771.7M771.7 167.2v3.6M779.7 167.2v2M784.3 167.2v2M787.7 167.2v2M790.2 167.2v2M792.3 167.2v2M794.1 167.2v2M795.6 167.2v2M797.0 167.2v2M798.2 167.2v3.6M806.2 167.2v2M810.8 167.2v2M814.2 167.2v2M816.7 167.2v2M818.8 167.2v2M820.6 167.2v2M822.1 167.2v2M823.5 167.2v2M824.7 167.2v3.6M832.7 167.2v2M837.3 167.2v2M840.7 167.2v2M843.2 167.2v2M845.3 167.2v2M847.1 167.2v2M848.6 167.2v2M850.0 167.2v2M851.2 167.2v3.6M859.2 167.2v2M863.8 167.2v2M867.2 167.2v2M869.7 167.2v2M871.8 167.2v2M873.6 167.2v2M875.1 167.2v2M876.5 167.2v2M877.7 167.2v3.6M885.7 167.2v2M890.3 167.2v2" stroke="#222" stroke-width="0.9" fill="none"/><text class="" x="765.9" y="47.9" font-size="5.4" text-anchor="end" fill="#222" stroke="#222" stroke-width="0.1">300</text><text class="" x="765.9" y="88.9" font-size="5.4" text-anchor="end" fill="#222" stroke="#222" stroke-width="0.1">200</text><text class="" x="765.9" y="130.0" font-size="5.4" text-anchor="end" fill="#222" stroke="#222" stroke-width="0.1">100</text><text class="" x="765.9" y="167.4" font-size="5.4" text-anchor="end" fill="#222" stroke="#222" stroke-width="0.1">0</text><text transform="translate(778.3 184.5) scale(0.8 1)" font-size="6.6" text-anchor="middle" fill="#222" stroke="#222" stroke-width="0.1">10<tspan dy="-4.1" dx="0.2" font-size="6.4">0</tspan></text><text transform="translate(799.7 184.5) scale(0.8 1)" font-size="6.6" text-anchor="middle" fill="#222" stroke="#222" stroke-width="0.1">10<tspan dy="-4.1" dx="0.2" font-size="6.4">1</tspan></text><text transform="translate(826.3 184.5) scale(0.8 1)" font-size="6.6" text-anchor="middle" fill="#222" stroke="#222" stroke-width="0.1">10<tspan dy="-4.1" dx="0.2" font-size="6.4">2</tspan></text><text transform="translate(852.8 184.5) scale(0.8 1)" font-size="6.6" text-anchor="middle" fill="#222" stroke="#222" stroke-width="0.1">10<tspan dy="-4.1" dx="0.2" font-size="6.4">3</tspan></text><text transform="translate(879.2 184.5) scale(0.8 1)" font-size="6.6" text-anchor="middle" fill="#222" stroke="#222" stroke-width="0.1">10<tspan dy="-4.1" dx="0.2" font-size="6.4">4</tspan></text></g>
<g id="C2"><path d="M915.5 167.0 L937.5 166.5 L943.8 163.8 L947.5 158.0 L950.0 157.0 L953.8 151.2 L957.0 146.2 L960.0 115.0 L962.5 92.5 L964.0 87.5 L965.5 65.0 L966.5 82.5 L968.0 100.0 L970.5 127.5 L973.8 150.0 L977.5 160.0 L982.5 165.5 L987.5 167.0Z" fill="#808285" stroke="#111" stroke-width="0.8" stroke-linejoin="round"/><rect x="915.5" y="43.0" width="117.8" height="124.0" fill="none" stroke="#2a2a2a" stroke-width="0.9"/><path d="M915.0 167.0H1033.3" fill="none" stroke="#1a1a1a" stroke-width="1.0"/><path d="M912.3 61.2H915.5M912.3 96.2H915.5M912.3 131.2H915.5M912.3 167.0H915.5M913.9 158.2H915.5M913.9 149.5H915.5M913.9 140.8H915.5M913.9 123.2H915.5M913.9 114.5H915.5M913.9 105.8H915.5M913.9 88.2H915.5M913.9 79.5H915.5M913.9 70.8H915.5M913.9 53.2H915.5M913.9 44.5H915.5M915.5 167.0v3.6M923.4 167.0v2M928.0 167.0v2M931.2 167.0v2M933.7 167.0v2M935.8 167.0v2M937.6 167.0v2M939.1 167.0v2M940.4 167.0v2M941.6 167.0v3.6M949.5 167.0v2M954.1 167.0v2M957.3 167.0v2M959.8 167.0v2M961.9 167.0v2M963.7 167.0v2M965.2 167.0v2M966.5 167.0v2M967.7 167.0v3.6M975.6 167.0v2M980.2 167.0v2M983.4 167.0v2M985.9 167.0v2M988.0 167.0v2M989.8 167.0v2M991.3 167.0v2M992.6 167.0v2M993.8 167.0v3.6M1001.7 167.0v2M1006.3 167.0v2M1009.5 167.0v2M1012.0 167.0v2M1014.1 167.0v2M1015.9 167.0v2M1017.4 167.0v2M1018.7 167.0v2M1019.9 167.0v3.6M1027.8 167.0v2M1032.4 167.0v2" stroke="#222" stroke-width="0.9" fill="none"/><text class="" x="909.7" y="65.4" font-size="5.4" text-anchor="end" fill="#222" stroke="#222" stroke-width="0.1">300</text><text class="" x="909.7" y="100.4" font-size="5.4" text-anchor="end" fill="#222" stroke="#222" stroke-width="0.1">200</text><text class="" x="909.7" y="135.4" font-size="5.4" text-anchor="end" fill="#222" stroke="#222" stroke-width="0.1">100</text><text class="" x="909.7" y="167.2" font-size="5.4" text-anchor="end" fill="#222" stroke="#222" stroke-width="0.1">0</text><text transform="translate(922.0 184.0) scale(0.8 1)" font-size="6.6" text-anchor="middle" fill="#222" stroke="#222" stroke-width="0.1">10<tspan dy="-4.1" dx="0.2" font-size="6.4">0</tspan></text><text transform="translate(943.0 184.0) scale(0.8 1)" font-size="6.6" text-anchor="middle" fill="#222" stroke="#222" stroke-width="0.1">10<tspan dy="-4.1" dx="0.2" font-size="6.4">1</tspan></text><text transform="translate(969.2 184.0) scale(0.8 1)" font-size="6.6" text-anchor="middle" fill="#222" stroke="#222" stroke-width="0.1">10<tspan dy="-4.1" dx="0.2" font-size="6.4">2</tspan></text><text transform="translate(995.7 184.0) scale(0.8 1)" font-size="6.6" text-anchor="middle" fill="#222" stroke="#222" stroke-width="0.1">10<tspan dy="-4.1" dx="0.2" font-size="6.4">3</tspan></text><text transform="translate(1022.5 184.0) scale(0.8 1)" font-size="6.6" text-anchor="middle" fill="#222" stroke="#222" stroke-width="0.1">10<tspan dy="-4.1" dx="0.2" font-size="6.4">4</tspan></text></g>
<g id="C3"><path d="M1056.2 164.5 L1080.0 164.0 L1086.2 158.8 L1091.2 147.5 L1095.0 127.5 L1097.5 100.0 L1099.5 72.5 L1101.2 58.8 L1103.0 57.5 L1104.5 65.0 L1106.2 92.5 L1108.8 125.0 L1111.2 147.5 L1115.0 160.0 L1121.2 164.0 L1175.8 164.5Z" fill="#808285" stroke="#111" stroke-width="0.8" stroke-linejoin="round"/><rect x="1056.2" y="40.5" width="119.5" height="124.0" fill="none" stroke="#2a2a2a" stroke-width="0.9"/><path d="M1055.7 164.5H1175.7" fill="none" stroke="#1a1a1a" stroke-width="1.0"/><path d="M1053.0 50.5H1056.2M1053.0 88.0H1056.2M1053.0 126.2H1056.2M1053.0 164.5H1056.2M1054.6 155.1H1056.2M1054.6 145.8H1056.2M1054.6 136.4H1056.2M1054.6 117.6H1056.2M1054.6 108.2H1056.2M1054.6 98.9H1056.2M1054.6 80.1H1056.2M1054.6 70.8H1056.2M1054.6 61.4H1056.2M1054.6 42.6H1056.2M1056.2 164.5v3.6M1064.1 164.5v2M1068.7 164.5v2M1072.0 164.5v2M1074.5 164.5v2M1076.6 164.5v2M1078.4 164.5v2M1079.9 164.5v2M1081.2 164.5v2M1082.5 164.5v3.6M1090.4 164.5v2M1095.0 164.5v2M1098.3 164.5v2M1100.8 164.5v2M1102.9 164.5v2M1104.6 164.5v2M1106.2 164.5v2M1107.5 164.5v2M1108.7 164.5v3.6M1116.6 164.5v2M1121.2 164.5v2M1124.5 164.5v2M1127.0 164.5v2M1129.1 164.5v2M1130.9 164.5v2M1132.4 164.5v2M1133.7 164.5v2M1135.0 164.5v3.6M1142.9 164.5v2M1147.5 164.5v2M1150.8 164.5v2M1153.3 164.5v2M1155.4 164.5v2M1157.1 164.5v2M1158.7 164.5v2M1160.0 164.5v2M1161.2 164.5v3.6M1169.1 164.5v2M1173.7 164.5v2" stroke="#222" stroke-width="0.9" fill="none"/><text class="" x="1050.4" y="54.7" font-size="5.4" text-anchor="end" fill="#222" stroke="#222" stroke-width="0.1">300</text><text class="" x="1050.4" y="92.2" font-size="5.4" text-anchor="end" fill="#222" stroke="#222" stroke-width="0.1">200</text><text class="" x="1050.4" y="130.4" font-size="5.4" text-anchor="end" fill="#222" stroke="#222" stroke-width="0.1">100</text><text class="" x="1050.4" y="164.7" font-size="5.4" text-anchor="end" fill="#222" stroke="#222" stroke-width="0.1">0</text><text transform="translate(1063.0 180.8) scale(0.8 1)" font-size="6.6" text-anchor="middle" fill="#222" stroke="#222" stroke-width="0.1">10<tspan dy="-4.1" dx="0.2" font-size="6.4">0</tspan></text><text transform="translate(1084.2 180.8) scale(0.8 1)" font-size="6.6" text-anchor="middle" fill="#222" stroke="#222" stroke-width="0.1">10<tspan dy="-4.1" dx="0.2" font-size="6.4">1</tspan></text><text transform="translate(1110.7 180.8) scale(0.8 1)" font-size="6.6" text-anchor="middle" fill="#222" stroke="#222" stroke-width="0.1">10<tspan dy="-4.1" dx="0.2" font-size="6.4">2</tspan></text><text transform="translate(1137.0 180.8) scale(0.8 1)" font-size="6.6" text-anchor="middle" fill="#222" stroke="#222" stroke-width="0.1">10<tspan dy="-4.1" dx="0.2" font-size="6.4">3</tspan></text><text transform="translate(1163.7 180.8) scale(0.8 1)" font-size="6.6" text-anchor="middle" fill="#222" stroke="#222" stroke-width="0.1">10<tspan dy="-4.1" dx="0.2" font-size="6.4">4</tspan></text></g>
<g id="C4"><path d="M773.8 316.3 L810.0 316.0 L818.3 314.7 L823.3 310.8 L826.3 303.3 L828.3 286.7 L830.0 263.3 L831.7 240.0 L833.0 221.7 L833.7 218.7 L834.7 219.7 L835.3 216.3 L836.7 215.0 L837.5 220.0 L838.3 233.3 L840.0 260.0 L842.0 286.7 L844.2 296.7 L847.5 306.7 L850.0 313.3 L853.3 316.3Z" fill="#808285" stroke="#111" stroke-width="0.8" stroke-linejoin="round"/><rect x="773.8" y="194.7" width="117.0" height="121.6" fill="none" stroke="#2a2a2a" stroke-width="0.9"/><path d="M773.3 316.3H890.8" fill="none" stroke="#1a1a1a" stroke-width="1.0"/><path d="M770.6 210.5H773.8M770.6 246.3H773.8M770.6 281.2H773.8M770.6 316.3H773.8M772.2 307.4H773.8M772.2 298.4H773.8M772.2 289.5H773.8M772.2 271.6H773.8M772.2 262.6H773.8M772.2 253.7H773.8M772.2 235.8H773.8M772.2 226.8H773.8M772.2 217.9H773.8M772.2 200.0H773.8M773.8 316.3v3.6M781.6 316.3v2M786.1 316.3v2M789.3 316.3v2M791.8 316.3v2M793.9 316.3v2M795.6 316.3v2M797.1 316.3v2M798.4 316.3v2M799.6 316.3v3.6M807.4 316.3v2M811.9 316.3v2M815.1 316.3v2M817.6 316.3v2M819.7 316.3v2M821.4 316.3v2M822.9 316.3v2M824.2 316.3v2M825.4 316.3v3.6M833.2 316.3v2M837.7 316.3v2M840.9 316.3v2M843.4 316.3v2M845.5 316.3v2M847.2 316.3v2M848.7 316.3v2M850.0 316.3v2M851.2 316.3v3.6M859.0 316.3v2M863.5 316.3v2M866.7 316.3v2M869.2 316.3v2M871.3 316.3v2M873.0 316.3v2M874.5 316.3v2M875.8 316.3v2M877.0 316.3v3.6M884.8 316.3v2M889.3 316.3v2" stroke="#222" stroke-width="0.9" fill="none"/><text class="" x="768.0" y="214.7" font-size="5.4" text-anchor="end" fill="#222" stroke="#222" stroke-width="0.1">300</text><text class="" x="768.0" y="250.5" font-size="5.4" text-anchor="end" fill="#222" stroke="#222" stroke-width="0.1">200</text><text class="" x="768.0" y="285.4" font-size="5.4" text-anchor="end" fill="#222" stroke="#222" stroke-width="0.1">100</text><text class="" x="768.0" y="316.5" font-size="5.4" text-anchor="end" fill="#222" stroke="#222" stroke-width="0.1">0</text><text transform="translate(780.3 333.6) scale(0.8 1)" font-size="6.6" text-anchor="middle" fill="#222" stroke="#222" stroke-width="0.1">10<tspan dy="-4.1" dx="0.2" font-size="6.4">0</tspan></text><text transform="translate(800.8 333.6) scale(0.8 1)" font-size="6.6" text-anchor="middle" fill="#222" stroke="#222" stroke-width="0.1">10<tspan dy="-4.1" dx="0.2" font-size="6.4">1</tspan></text><text transform="translate(827.0 333.6) scale(0.8 1)" font-size="6.6" text-anchor="middle" fill="#222" stroke="#222" stroke-width="0.1">10<tspan dy="-4.1" dx="0.2" font-size="6.4">2</tspan></text><text transform="translate(853.0 333.6) scale(0.8 1)" font-size="6.6" text-anchor="middle" fill="#222" stroke="#222" stroke-width="0.1">10<tspan dy="-4.1" dx="0.2" font-size="6.4">3</tspan></text><text transform="translate(878.8 333.6) scale(0.8 1)" font-size="6.6" text-anchor="middle" fill="#222" stroke="#222" stroke-width="0.1">10<tspan dy="-4.1" dx="0.2" font-size="6.4">4</tspan></text></g>
<g id="C5"><path d="M915.0 316.2 L935.0 315.8 L941.2 313.8 L945.0 307.5 L948.8 297.5 L951.2 293.8 L953.8 288.8 L956.2 286.2 L958.8 280.0 L960.8 262.5 L962.5 237.5 L964.0 222.5 L965.8 217.0 L967.0 225.0 L968.8 240.0 L970.5 265.0 L973.0 290.0 L976.2 307.5 L980.0 313.8 L986.2 316.2Z" fill="#808285" stroke="#111" stroke-width="0.8" stroke-linejoin="round"/><rect x="915.0" y="193.7" width="116.7" height="122.5" fill="none" stroke="#2a2a2a" stroke-width="0.9"/><path d="M914.5 316.2H1031.7" fill="none" stroke="#1a1a1a" stroke-width="1.0"/><path d="M911.8 202.0H915.0M911.8 240.0H915.0M911.8 278.2H915.0M911.8 316.2H915.0M913.4 306.7H915.0M913.4 297.2H915.0M913.4 287.7H915.0M913.4 268.7H915.0M913.4 259.2H915.0M913.4 249.7H915.0M913.4 230.7H915.0M913.4 221.2H915.0M913.4 211.7H915.0M915.0 316.2v3.6M922.8 316.2v2M927.3 316.2v2M930.5 316.2v2M933.0 316.2v2M935.1 316.2v2M936.8 316.2v2M938.3 316.2v2M939.6 316.2v2M940.8 316.2v3.6M948.6 316.2v2M953.1 316.2v2M956.3 316.2v2M958.8 316.2v2M960.9 316.2v2M962.6 316.2v2M964.1 316.2v2M965.4 316.2v2M966.6 316.2v3.6M974.4 316.2v2M978.9 316.2v2M982.1 316.2v2M984.6 316.2v2M986.7 316.2v2M988.4 316.2v2M989.9 316.2v2M991.2 316.2v2M992.4 316.2v3.6M1000.2 316.2v2M1004.7 316.2v2M1007.9 316.2v2M1010.4 316.2v2M1012.5 316.2v2M1014.2 316.2v2M1015.7 316.2v2M1017.0 316.2v2M1018.2 316.2v3.6M1026.0 316.2v2M1030.5 316.2v2" stroke="#222" stroke-width="0.9" fill="none"/><text class="" x="909.2" y="206.2" font-size="5.4" text-anchor="end" fill="#222" stroke="#222" stroke-width="0.1">300</text><text class="" x="909.2" y="244.2" font-size="5.4" text-anchor="end" fill="#222" stroke="#222" stroke-width="0.1">200</text><text class="" x="909.2" y="282.4" font-size="5.4" text-anchor="end" fill="#222" stroke="#222" stroke-width="0.1">100</text><text class="" x="909.2" y="316.4" font-size="5.4" text-anchor="end" fill="#222" stroke="#222" stroke-width="0.1">0</text><text transform="translate(921.7 332.8) scale(0.8 1)" font-size="6.6" text-anchor="middle" fill="#222" stroke="#222" stroke-width="0.1">10<tspan dy="-4.1" dx="0.2" font-size="6.4">0</tspan></text><text transform="translate(942.5 332.8) scale(0.8 1)" font-size="6.6" text-anchor="middle" fill="#222" stroke="#222" stroke-width="0.1">10<tspan dy="-4.1" dx="0.2" font-size="6.4">1</tspan></text><text transform="translate(968.0 332.8) scale(0.8 1)" font-size="6.6" text-anchor="middle" fill="#222" stroke="#222" stroke-width="0.1">10<tspan dy="-4.1" dx="0.2" font-size="6.4">2</tspan></text><text transform="translate(994.5 332.8) scale(0.8 1)" font-size="6.6" text-anchor="middle" fill="#222" stroke="#222" stroke-width="0.1">10<tspan dy="-4.1" dx="0.2" font-size="6.4">3</tspan></text><text transform="translate(1020.5 332.8) scale(0.8 1)" font-size="6.6" text-anchor="middle" fill="#222" stroke="#222" stroke-width="0.1">10<tspan dy="-4.1" dx="0.2" font-size="6.4">4</tspan></text></g>
<g id="C6"><path d="M1055.8 315.8 L1078.8 315.2 L1083.8 311.2 L1088.8 302.5 L1092.5 290.0 L1095.5 272.5 L1097.5 255.0 L1099.2 230.0 L1100.8 213.8 L1102.0 211.0 L1103.2 217.5 L1105.0 237.5 L1107.0 265.0 L1109.5 290.0 L1112.0 305.0 L1115.5 312.5 L1121.2 315.2 L1173.2 315.8Z" fill="#808285" stroke="#111" stroke-width="0.8" stroke-linejoin="round"/><rect x="1055.7" y="193.0" width="117.5" height="122.7" fill="none" stroke="#2a2a2a" stroke-width="0.9"/><path d="M1055.2 315.7H1173.2" fill="none" stroke="#1a1a1a" stroke-width="1.0"/><path d="M1052.5 195.5H1055.7M1052.5 234.2H1055.7M1052.5 275.0H1055.7M1052.5 315.7H1055.7M1054.1 306.0H1055.7M1054.1 296.3H1055.7M1054.1 286.7H1055.7M1054.1 267.3H1055.7M1054.1 257.6H1055.7M1054.1 248.0H1055.7M1054.1 228.6H1055.7M1054.1 218.9H1055.7M1054.1 209.3H1055.7M1055.7 315.7v3.6M1063.5 315.7v2M1068.1 315.7v2M1071.4 315.7v2M1073.9 315.7v2M1075.9 315.7v2M1077.7 315.7v2M1079.2 315.7v2M1080.5 315.7v2M1081.7 315.7v3.6M1089.5 315.7v2M1094.1 315.7v2M1097.4 315.7v2M1099.9 315.7v2M1101.9 315.7v2M1103.7 315.7v2M1105.2 315.7v2M1106.5 315.7v2M1107.7 315.7v3.6M1115.5 315.7v2M1120.1 315.7v2M1123.4 315.7v2M1125.9 315.7v2M1127.9 315.7v2M1129.7 315.7v2M1131.2 315.7v2M1132.5 315.7v2M1133.7 315.7v3.6M1141.5 315.7v2M1146.1 315.7v2M1149.4 315.7v2M1151.9 315.7v2M1153.9 315.7v2M1155.7 315.7v2M1157.2 315.7v2M1158.5 315.7v2M1159.7 315.7v3.6M1167.5 315.7v2M1172.1 315.7v2" stroke="#222" stroke-width="0.9" fill="none"/><text class="" x="1049.9" y="199.7" font-size="5.4" text-anchor="end" fill="#222" stroke="#222" stroke-width="0.1">300</text><text class="" x="1049.9" y="238.4" font-size="5.4" text-anchor="end" fill="#222" stroke="#222" stroke-width="0.1">200</text><text class="" x="1049.9" y="279.2" font-size="5.4" text-anchor="end" fill="#222" stroke="#222" stroke-width="0.1">100</text><text class="" x="1049.9" y="315.9" font-size="5.4" text-anchor="end" fill="#222" stroke="#222" stroke-width="0.1">0</text><text transform="translate(1062.5 332.3) scale(0.8 1)" font-size="6.6" text-anchor="middle" fill="#222" stroke="#222" stroke-width="0.1">10<tspan dy="-4.1" dx="0.2" font-size="6.4">0</tspan></text><text transform="translate(1083.7 332.3) scale(0.8 1)" font-size="6.6" text-anchor="middle" fill="#222" stroke="#222" stroke-width="0.1">10<tspan dy="-4.1" dx="0.2" font-size="6.4">1</tspan></text><text transform="translate(1110.0 332.3) scale(0.8 1)" font-size="6.6" text-anchor="middle" fill="#222" stroke="#222" stroke-width="0.1">10<tspan dy="-4.1" dx="0.2" font-size="6.4">2</tspan></text><text transform="translate(1135.7 332.3) scale(0.8 1)" font-size="6.6" text-anchor="middle" fill="#222" stroke="#222" stroke-width="0.1">10<tspan dy="-4.1" dx="0.2" font-size="6.4">3</tspan></text><text transform="translate(1161.7 332.3) scale(0.8 1)" font-size="6.6" text-anchor="middle" fill="#222" stroke="#222" stroke-width="0.1">10<tspan dy="-4.1" dx="0.2" font-size="6.4">4</tspan></text></g>
<text class="pl" x="0" y="23.2">A</text>
<text class="pl" x="337.5" y="23.3">B</text>
<text class="pl" x="731.5" y="23.1">C</text>
<text class="pl" x="0" y="390.8">D</text>
<text class="pl" x="0" y="594">E</text>
<text class="pl" x="620.5" y="811">F</text>
<text class="pl" x="0" y="1195.7">G</text>
<g id="IFNg"><path d="M144.6 449.3V441.6M140.9 441.6H148.3" stroke="#111" stroke-width="1.2" fill="none"/><rect x="138.2" y="449.3" width="12.9" height="54.9" fill="#ed4c55" stroke="#111" stroke-width="1.15"/><path d="M157.5 442.3V439.2M153.8 439.2H161.2" stroke="#111" stroke-width="1.2" fill="none"/><rect x="151.1" y="442.3" width="12.9" height="61.9" fill="#e57678" stroke="#111" stroke-width="1.15"/><path d="M170.4 436.1V429.3M166.8 429.3H174.1" stroke="#111" stroke-width="1.2" fill="none"/><rect x="164.0" y="436.1" width="12.9" height="68.1" fill="#1f5bab" stroke="#111" stroke-width="1.15"/><path d="M183.3 474.1V469.3M179.7 469.3H187.0" stroke="#111" stroke-width="1.2" fill="none"/><rect x="176.9" y="474.1" width="12.9" height="30.1" fill="#4a67ae" stroke="#111" stroke-width="1.15"/><path d="M54.7 409.4V504.2M50.7 504.2H197.5" stroke="#111" stroke-width="1.3" fill="none"/><text x="51.4" y="413.4" font-size="9.5" text-anchor="end">20000</text><text x="51.4" y="436.9" font-size="9.5" text-anchor="end">15000</text><text x="51.4" y="460.5" font-size="9.5" text-anchor="end">10000</text><text x="51.4" y="484.0" font-size="9.5" text-anchor="end">5000</text><text x="51.4" y="507.6" font-size="9.5" text-anchor="end">0</text><path d="M50.7 410.0H54.7M50.7 433.6H54.7M50.7 457.1H54.7M50.7 480.6H54.7M67.2 504.2v3.2M80.2 504.2v3.2M93.0 504.2v3.2M106.0 504.2v3.2M118.9 504.2v3.2M131.8 504.2v3.2M144.6 504.2v3.2M157.5 504.2v3.2M170.4 504.2v3.2M183.3 504.2v3.2" stroke="#111" stroke-width="1.1" fill="none"/><text x="67.2" y="515.5" font-size="8.7" fill="#4d4d4f" text-anchor="middle">1</text><text x="80.2" y="515.5" font-size="8.7" fill="#4d4d4f" text-anchor="middle">3</text><path d="M61.9 517.6H82.3" stroke="#58595b" stroke-width="0.9"/><text transform="translate(79.5 525.5) rotate(-45)" font-size="13.3" text-anchor="end">AB1</text><text x="93.0" y="515.5" font-size="8.7" fill="#4d4d4f" text-anchor="middle">1</text><text x="105.9" y="515.5" font-size="8.7" fill="#4d4d4f" text-anchor="middle">3</text><path d="M87.7 517.6H108.1" stroke="#58595b" stroke-width="0.9"/><text transform="translate(105.3 525.5) rotate(-45)" font-size="13.3" text-anchor="end">4T1</text><text x="118.9" y="515.5" font-size="8.7" fill="#4d4d4f" text-anchor="middle">1</text><text x="131.8" y="515.5" font-size="8.7" fill="#4d4d4f" text-anchor="middle">3</text><path d="M113.5 517.6H133.9" stroke="#58595b" stroke-width="0.9"/><text transform="translate(131.1 525.5) rotate(-45)" font-size="13.3" text-anchor="end">CTL</text><text x="144.6" y="515.5" font-size="8.7" fill="#4d4d4f" text-anchor="middle">1</text><text x="157.5" y="515.5" font-size="8.7" fill="#4d4d4f" text-anchor="middle">3</text><path d="M139.3 517.6H159.7" stroke="#58595b" stroke-width="0.9"/><text transform="translate(156.9 525.5) rotate(-45)" font-size="13.3" text-anchor="end">AB1+CTL</text><text x="170.4" y="515.5" font-size="8.7" fill="#4d4d4f" text-anchor="middle">1</text><text x="183.3" y="515.5" font-size="8.7" fill="#4d4d4f" text-anchor="middle">3</text><path d="M165.1 517.6H185.5" stroke="#58595b" stroke-width="0.9"/><text transform="translate(182.7 525.5) rotate(-45)" font-size="13.3" text-anchor="end">4T1+CTL</text><text x="60.8" y="420.6" font-size="15.6" text-anchor="start">IFN<tspan font-family="Liberation Serif,serif" font-size="15">γ</tspan></text><text transform="translate(17.8 456.0) rotate(-90)" font-size="15.4" text-anchor="middle">Conc (pg/ml)</text></g>
<g id="TNFa"><rect x="248.3" y="503.2" width="12.9" height="0.6" fill="#353a3e" stroke="#111" stroke-width="1.15"/><path d="M332.3 423.0V418.4M328.6 418.4H336.0" stroke="#111" stroke-width="1.2" fill="none"/><rect x="325.8" y="423.0" width="12.9" height="80.8" fill="#ed4c55" stroke="#111" stroke-width="1.15"/><path d="M345.2 442.3V436.7M341.5 436.7H348.9" stroke="#111" stroke-width="1.2" fill="none"/><rect x="338.7" y="442.3" width="12.9" height="61.5" fill="#e57678" stroke="#111" stroke-width="1.15"/><path d="M358.1 431.3V430.5M354.4 430.5H361.8" stroke="#111" stroke-width="1.2" fill="none"/><rect x="351.7" y="431.3" width="12.9" height="72.5" fill="#1f5bab" stroke="#111" stroke-width="1.15"/><path d="M371.0 440.1V430.7M367.3 430.7H374.7" stroke="#111" stroke-width="1.2" fill="none"/><rect x="364.6" y="440.1" width="12.9" height="63.7" fill="#4a67ae" stroke="#111" stroke-width="1.15"/><path d="M240.0 405.2V503.8M236.0 503.8H385.8" stroke="#111" stroke-width="1.3" fill="none"/><text x="238.7" y="409.2" font-size="10" text-anchor="end">800</text><text x="238.7" y="433.7" font-size="10" text-anchor="end">600</text><text x="238.7" y="458.2" font-size="10" text-anchor="end">400</text><text x="238.7" y="482.7" font-size="10" text-anchor="end">200</text><text x="238.7" y="507.2" font-size="10" text-anchor="end">0</text><path d="M236.0 405.8H240.0M236.0 430.3H240.0M236.0 454.8H240.0M236.0 479.3H240.0M254.8 503.8v3.2M267.7 503.8v3.2M280.6 503.8v3.2M293.5 503.8v3.2M306.4 503.8v3.2M319.4 503.8v3.2M332.3 503.8v3.2M345.2 503.8v3.2M358.1 503.8v3.2M371.0 503.8v3.2" stroke="#111" stroke-width="1.1" fill="none"/><text x="254.8" y="515.1" font-size="8.7" fill="#4d4d4f" text-anchor="middle">1</text><text x="267.7" y="515.1" font-size="8.7" fill="#4d4d4f" text-anchor="middle">3</text><path d="M249.4 517.2H269.8" stroke="#58595b" stroke-width="0.9"/><text transform="translate(267.0 525.1) rotate(-45)" font-size="13.3" text-anchor="end">AB1</text><text x="280.6" y="515.1" font-size="8.7" fill="#4d4d4f" text-anchor="middle">1</text><text x="293.5" y="515.1" font-size="8.7" fill="#4d4d4f" text-anchor="middle">3</text><path d="M275.2 517.2H295.7" stroke="#58595b" stroke-width="0.9"/><text transform="translate(292.9 525.1) rotate(-45)" font-size="13.3" text-anchor="end">4T1</text><text x="306.4" y="515.1" font-size="8.7" fill="#4d4d4f" text-anchor="middle">1</text><text x="319.4" y="515.1" font-size="8.7" fill="#4d4d4f" text-anchor="middle">3</text><path d="M301.1 517.2H321.5" stroke="#58595b" stroke-width="0.9"/><text transform="translate(318.7 525.1) rotate(-45)" font-size="13.3" text-anchor="end">CTL</text><text x="332.3" y="515.1" font-size="8.7" fill="#4d4d4f" text-anchor="middle">1</text><text x="345.2" y="515.1" font-size="8.7" fill="#4d4d4f" text-anchor="middle">3</text><path d="M326.9 517.2H347.4" stroke="#58595b" stroke-width="0.9"/><text transform="translate(344.5 525.1) rotate(-45)" font-size="13.3" text-anchor="end">AB1+CTL</text><text x="358.1" y="515.1" font-size="8.7" fill="#4d4d4f" text-anchor="middle">1</text><text x="371.0" y="515.1" font-size="8.7" fill="#4d4d4f" text-anchor="middle">3</text><path d="M352.8 517.2H373.2" stroke="#58595b" stroke-width="0.9"/><text transform="translate(370.4 525.1) rotate(-45)" font-size="13.3" text-anchor="end">4T1+CTL</text><text x="247.0" y="417.3" font-size="15.6" text-anchor="start">TNF<tspan font-family="Liberation Serif,serif" font-size="15">α</tspan></text><text transform="translate(217.6 455.5) rotate(-90)" font-size="16" text-anchor="middle">Conc(pg/ml)</text></g>
<g id="IFNa"><path d="M478.9 492.7V480.8M475.2 480.8H482.6" stroke="#111" stroke-width="1.2" fill="none"/><rect x="472.5" y="492.7" width="12.8" height="12.0" fill="#63b85b" stroke="#111" stroke-width="1.15"/><path d="M517.4 418.0V410.6M513.7 410.6H521.1" stroke="#111" stroke-width="1.2" fill="none"/><rect x="511.0" y="418.0" width="12.8" height="86.7" fill="#ed4c55" stroke="#111" stroke-width="1.15"/><path d="M530.2 478.8V465.8M526.5 465.8H533.9" stroke="#111" stroke-width="1.2" fill="none"/><rect x="523.8" y="478.8" width="12.8" height="25.9" fill="#e57678" stroke="#111" stroke-width="1.15"/><path d="M543.1 421.9V419.6M539.4 419.6H546.8" stroke="#111" stroke-width="1.2" fill="none"/><rect x="536.6" y="421.9" width="12.8" height="82.8" fill="#4566ac" stroke="#111" stroke-width="1.15"/><path d="M555.9 471.4V454.9M552.2 454.9H559.6" stroke="#111" stroke-width="1.2" fill="none"/><rect x="549.5" y="471.4" width="12.8" height="33.3" fill="#7281b9" stroke="#111" stroke-width="1.15"/><path d="M426.7 404.4V504.7M422.7 504.7H570.7" stroke="#111" stroke-width="1.3" fill="none"/><text x="423.4" y="408.4" font-size="10" text-anchor="end">5</text><text x="423.4" y="428.3" font-size="10" text-anchor="end">4</text><text x="423.4" y="448.3" font-size="10" text-anchor="end">3</text><text x="423.4" y="468.2" font-size="10" text-anchor="end">2</text><text x="423.4" y="488.2" font-size="10" text-anchor="end">1</text><text x="423.4" y="508.1" font-size="10" text-anchor="end">0</text><path d="M422.7 405.0H426.7M422.7 424.9H426.7M422.7 444.9H426.7M422.7 464.8H426.7M422.7 484.8H426.7M440.4 504.7v3.2M453.2 504.7v3.2M466.1 504.7v3.2M478.9 504.7v3.2M491.7 504.7v3.2M504.6 504.7v3.2M517.4 504.7v3.2M530.2 504.7v3.2M543.1 504.7v3.2M555.9 504.7v3.2" stroke="#111" stroke-width="1.1" fill="none"/><text x="440.4" y="516.0" font-size="8.7" fill="#4d4d4f" text-anchor="middle">1</text><text x="453.2" y="516.0" font-size="8.7" fill="#4d4d4f" text-anchor="middle">3</text><path d="M435.1 518.1H455.4" stroke="#58595b" stroke-width="0.9"/><text transform="translate(452.6 526.0) rotate(-45)" font-size="13.3" text-anchor="end">AB1</text><text x="466.1" y="516.0" font-size="8.7" fill="#4d4d4f" text-anchor="middle">1</text><text x="478.9" y="516.0" font-size="8.7" fill="#4d4d4f" text-anchor="middle">3</text><path d="M460.8 518.1H481.0" stroke="#58595b" stroke-width="0.9"/><text transform="translate(478.3 526.0) rotate(-45)" font-size="13.3" text-anchor="end">4T1</text><text x="491.7" y="516.0" font-size="8.7" fill="#4d4d4f" text-anchor="middle">1</text><text x="504.6" y="516.0" font-size="8.7" fill="#4d4d4f" text-anchor="middle">3</text><path d="M486.4 518.1H506.7" stroke="#58595b" stroke-width="0.9"/><text transform="translate(503.9 526.0) rotate(-45)" font-size="13.3" text-anchor="end">CTL</text><text x="517.4" y="516.0" font-size="8.7" fill="#4d4d4f" text-anchor="middle">1</text><text x="530.2" y="516.0" font-size="8.7" fill="#4d4d4f" text-anchor="middle">3</text><path d="M512.1 518.1H532.3" stroke="#58595b" stroke-width="0.9"/><text transform="translate(529.6 526.0) rotate(-45)" font-size="13.3" text-anchor="end">AB1+CTL</text><text x="543.1" y="516.0" font-size="8.7" fill="#4d4d4f" text-anchor="middle">1</text><text x="555.9" y="516.0" font-size="8.7" fill="#4d4d4f" text-anchor="middle">3</text><path d="M537.7 518.1H558.0" stroke="#58595b" stroke-width="0.9"/><text transform="translate(555.3 526.0) rotate(-45)" font-size="13.3" text-anchor="end">4T1+CTL</text><text x="434.3" y="419.9" font-size="15.6" text-anchor="start">IFN<tspan font-family="Liberation Serif,serif" font-size="15">α</tspan></text><text transform="translate(413.5 454.0) rotate(-90)" font-size="15.5" text-anchor="middle">Conc(pg/ml)</text></g>
<g id="IFNb"><path d="M701.7 430.0V421.2M698.0 421.2H705.4" stroke="#111" stroke-width="1.2" fill="none"/><rect x="695.3" y="430.0" width="12.8" height="74.7" fill="#ed4c55" stroke="#111" stroke-width="1.15"/><path d="M727.4 441.4V434.7M723.7 434.7H731.1" stroke="#111" stroke-width="1.2" fill="none"/><rect x="720.9" y="441.4" width="12.8" height="63.3" fill="#4566ac" stroke="#111" stroke-width="1.15"/><path d="M613.3 400.4V504.7M609.3 504.7H754.3" stroke="#111" stroke-width="1.3" fill="none"/><text x="610.0" y="404.4" font-size="10" text-anchor="end">20</text><text x="610.0" y="430.3" font-size="10" text-anchor="end">15</text><text x="610.0" y="456.2" font-size="10" text-anchor="end">10</text><text x="610.0" y="482.2" font-size="10" text-anchor="end">5</text><text x="610.0" y="508.1" font-size="10" text-anchor="end">0</text><path d="M609.3 401.0H613.3M609.3 426.9H613.3M609.3 452.9H613.3M609.3 478.8H613.3M624.7 504.7v3.2M637.5 504.7v3.2M650.4 504.7v3.2M663.2 504.7v3.2M676.0 504.7v3.2M688.9 504.7v3.2M701.7 504.7v3.2M714.5 504.7v3.2M727.4 504.7v3.2M740.2 504.7v3.2" stroke="#111" stroke-width="1.1" fill="none"/><text x="624.7" y="516.0" font-size="8.7" fill="#4d4d4f" text-anchor="middle">1</text><text x="637.5" y="516.0" font-size="8.7" fill="#4d4d4f" text-anchor="middle">3</text><path d="M619.4 518.1H639.7" stroke="#111" stroke-width="0.9"/><text transform="translate(636.9 526.0) rotate(-45)" font-size="13.3" text-anchor="end">AB1</text><text x="650.4" y="516.0" font-size="8.7" fill="#4d4d4f" text-anchor="middle">1</text><text x="663.2" y="516.0" font-size="8.7" fill="#4d4d4f" text-anchor="middle">3</text><path d="M645.1 518.1H665.3" stroke="#111" stroke-width="0.9"/><text transform="translate(662.6 526.0) rotate(-45)" font-size="13.3" text-anchor="end">4T1</text><text x="676.0" y="516.0" font-size="8.7" fill="#4d4d4f" text-anchor="middle">1</text><text x="688.9" y="516.0" font-size="8.7" fill="#4d4d4f" text-anchor="middle">3</text><path d="M670.7 518.1H691.0" stroke="#111" stroke-width="0.9"/><text transform="translate(688.2 526.0) rotate(-45)" font-size="13.3" text-anchor="end">CTL</text><text x="701.7" y="516.0" font-size="8.7" fill="#4d4d4f" text-anchor="middle">1</text><text x="714.5" y="516.0" font-size="8.7" fill="#4d4d4f" text-anchor="middle">3</text><path d="M696.4 518.1H716.6" stroke="#111" stroke-width="0.9"/><text transform="translate(713.9 526.0) rotate(-45)" font-size="13.3" text-anchor="end">AB1+CTL</text><text x="727.4" y="516.0" font-size="8.7" fill="#4d4d4f" text-anchor="middle">1</text><text x="740.2" y="516.0" font-size="8.7" fill="#4d4d4f" text-anchor="middle">3</text><path d="M722.0 518.1H742.3" stroke="#111" stroke-width="0.9"/><text transform="translate(739.6 526.0) rotate(-45)" font-size="13.3" text-anchor="end">4T1+CTL</text><text x="621.7" y="415.6" font-size="15.6" text-anchor="start">IFN<tspan font-family="Liberation Serif,serif" font-size="15">β</tspan></text><text transform="translate(592.5 452.0) rotate(-90)" font-size="15.5" text-anchor="middle">Conc(pg/ml)</text></g>
<g id="IL2"><path d="M130.8 653.4V627.9M127.1 627.9H134.5" stroke="#111" stroke-width="1.2" fill="none"/><rect x="124.3" y="653.4" width="13.1" height="35.9" fill="#ed4c55" stroke="#111" stroke-width="1.15"/><path d="M143.9 619.4V616.9M140.2 616.9H147.6" stroke="#111" stroke-width="1.2" fill="none"/><rect x="137.4" y="619.4" width="13.1" height="69.9" fill="#e57678" stroke="#111" stroke-width="1.15"/><path d="M156.9 609.6V601.1M153.2 601.1H160.6" stroke="#111" stroke-width="1.2" fill="none"/><rect x="150.4" y="609.6" width="13.1" height="79.7" fill="#1f5bab" stroke="#111" stroke-width="1.15"/><path d="M40.0 591.4V689.3M36.0 689.3H184.3" stroke="#111" stroke-width="1.3" fill="none"/><text x="36.7" y="595.4" font-size="10" text-anchor="end">8</text><text x="36.7" y="619.7" font-size="10" text-anchor="end">6</text><text x="36.7" y="644.0" font-size="10" text-anchor="end">4</text><text x="36.7" y="668.4" font-size="10" text-anchor="end">2</text><text x="36.7" y="692.7" font-size="10" text-anchor="end">0</text><path d="M36.0 592.0H40.0M36.0 616.3H40.0M36.0 640.6H40.0M36.0 665.0H40.0M52.5 689.3v3.2M65.6 689.3v3.2M78.6 689.3v3.2M91.7 689.3v3.2M104.7 689.3v3.2M117.8 689.3v3.2M130.8 689.3v3.2M143.9 689.3v3.2M156.9 689.3v3.2M170.0 689.3v3.2" stroke="#111" stroke-width="1.1" fill="none"/><text x="52.5" y="700.6" font-size="8.7" fill="#4d4d4f" text-anchor="middle">1</text><text x="65.6" y="700.6" font-size="8.7" fill="#4d4d4f" text-anchor="middle">3</text><path d="M47.1 702.7H67.8" stroke="#58595b" stroke-width="0.9"/><text transform="translate(64.8 710.6) rotate(-45)" font-size="13.3" text-anchor="end">AB1</text><text x="78.6" y="700.6" font-size="8.7" fill="#4d4d4f" text-anchor="middle">1</text><text x="91.7" y="700.6" font-size="8.7" fill="#4d4d4f" text-anchor="middle">3</text><path d="M73.2 702.7H93.9" stroke="#58595b" stroke-width="0.9"/><text transform="translate(90.9 710.6) rotate(-45)" font-size="13.3" text-anchor="end">4T1</text><text x="104.7" y="700.6" font-size="8.7" fill="#4d4d4f" text-anchor="middle">1</text><text x="117.8" y="700.6" font-size="8.7" fill="#4d4d4f" text-anchor="middle">3</text><path d="M99.3 702.7H120.0" stroke="#58595b" stroke-width="0.9"/><text transform="translate(117.0 710.6) rotate(-45)" font-size="13.3" text-anchor="end">CTL</text><text x="130.8" y="700.6" font-size="8.7" fill="#4d4d4f" text-anchor="middle">1</text><text x="143.9" y="700.6" font-size="8.7" fill="#4d4d4f" text-anchor="middle">3</text><path d="M125.4 702.7H146.1" stroke="#58595b" stroke-width="0.9"/><text transform="translate(143.2 710.6) rotate(-45)" font-size="13.3" text-anchor="end">AB1+CTL</text><text x="156.9" y="700.6" font-size="8.7" fill="#4d4d4f" text-anchor="middle">1</text><text x="170.0" y="700.6" font-size="8.7" fill="#4d4d4f" text-anchor="middle">3</text><path d="M151.5 702.7H172.2" stroke="#58595b" stroke-width="0.9"/><text transform="translate(169.3 710.6) rotate(-45)" font-size="13.3" text-anchor="end">4T1+CTL</text><text x="50.7" y="604.9" font-size="15.6" text-anchor="start">IL2</text><text transform="translate(22.8 640.0) rotate(-90)" font-size="15.5" text-anchor="middle">Conc(pg/ml)</text></g>
<g id="IL4"><path d="M320.8 668.6V646.5M317.1 646.5H324.4" stroke="#111" stroke-width="1.2" fill="none"/><rect x="314.3" y="668.6" width="12.9" height="22.1" fill="#ed4c55" stroke="#111" stroke-width="1.15"/><path d="M333.6 627.3V625.1M329.9 625.1H337.3" stroke="#111" stroke-width="1.2" fill="none"/><rect x="327.2" y="627.3" width="12.9" height="63.4" fill="#e57678" stroke="#111" stroke-width="1.15"/><path d="M346.6 649.1V628.4M342.9 628.4H350.2" stroke="#111" stroke-width="1.2" fill="none"/><rect x="340.1" y="649.1" width="12.9" height="41.6" fill="#1f5bab" stroke="#111" stroke-width="1.15"/><path d="M229.3 592.7V690.7M225.3 690.7H373.3" stroke="#111" stroke-width="1.3" fill="none"/><text x="226.0" y="596.7" font-size="10" text-anchor="end">1.5</text><text x="226.0" y="616.2" font-size="10" text-anchor="end">1.2</text><text x="226.0" y="635.7" font-size="10" text-anchor="end">0.9</text><text x="226.0" y="655.1" font-size="10" text-anchor="end">0.6</text><text x="226.0" y="674.6" font-size="10" text-anchor="end">0.3</text><text x="226.0" y="694.1" font-size="10" text-anchor="end">0.0</text><path d="M225.3 593.3H229.3M225.3 612.8H229.3M225.3 632.3H229.3M225.3 651.7H229.3M225.3 671.2H229.3M243.3 690.7v3.2M256.2 690.7v3.2M269.1 690.7v3.2M282.1 690.7v3.2M294.9 690.7v3.2M307.8 690.7v3.2M320.8 690.7v3.2M333.6 690.7v3.2M346.6 690.7v3.2M369.6 690.7v3.2" stroke="#111" stroke-width="1.1" fill="none"/><text x="243.3" y="702.0" font-size="8.7" fill="#4d4d4f" text-anchor="middle">1</text><text x="256.2" y="702.0" font-size="8.7" fill="#4d4d4f" text-anchor="middle">3</text><path d="M238.0 704.1H258.4" stroke="#58595b" stroke-width="0.9"/><text transform="translate(255.6 712.0) rotate(-45)" font-size="13.3" text-anchor="end">AB1</text><text x="269.1" y="702.0" font-size="8.7" fill="#4d4d4f" text-anchor="middle">1</text><text x="282.1" y="702.0" font-size="8.7" fill="#4d4d4f" text-anchor="middle">3</text><path d="M263.8 704.1H284.2" stroke="#58595b" stroke-width="0.9"/><text transform="translate(281.4 712.0) rotate(-45)" font-size="13.3" text-anchor="end">4T1</text><text x="294.9" y="702.0" font-size="8.7" fill="#4d4d4f" text-anchor="middle">1</text><text x="307.9" y="702.0" font-size="8.7" fill="#4d4d4f" text-anchor="middle">3</text><path d="M289.6 704.1H310.0" stroke="#58595b" stroke-width="0.9"/><text transform="translate(307.2 712.0) rotate(-45)" font-size="13.3" text-anchor="end">CTL</text><text x="320.8" y="702.0" font-size="8.7" fill="#4d4d4f" text-anchor="middle">1</text><text x="333.7" y="702.0" font-size="8.7" fill="#4d4d4f" text-anchor="middle">3</text><path d="M315.4 704.1H335.8" stroke="#58595b" stroke-width="0.9"/><text transform="translate(333.0 712.0) rotate(-45)" font-size="13.3" text-anchor="end">AB1+CTL</text><text x="346.6" y="702.0" font-size="8.7" fill="#4d4d4f" text-anchor="middle">1</text><text x="359.5" y="702.0" font-size="8.7" fill="#4d4d4f" text-anchor="middle">3</text><path d="M341.2 704.1H361.6" stroke="#58595b" stroke-width="0.9"/><text transform="translate(358.8 712.0) rotate(-45)" font-size="13.3" text-anchor="end">4T1+CTL</text><text x="238.7" y="608.9" font-size="15.6" text-anchor="start">IL4</text><text transform="translate(203.8 641.0) rotate(-90)" font-size="15.5" text-anchor="middle">Conc(pg/ml)</text></g>
<g id="IL5"><path d="M474.4 675.4V657.7M470.8 657.7H478.1" stroke="#111" stroke-width="1.2" fill="none"/><rect x="468.0" y="675.4" width="12.9" height="17.9" fill="#63b85b" stroke="#111" stroke-width="1.15"/><path d="M513.2 669.0V645.0M509.5 645.0H516.9" stroke="#111" stroke-width="1.2" fill="none"/><rect x="506.7" y="669.0" width="12.9" height="24.3" fill="#ed4c55" stroke="#111" stroke-width="1.15"/><rect x="519.6" y="617.1" width="12.9" height="76.2" fill="#e57678" stroke="#111" stroke-width="1.15"/><path d="M539.0 622.0V614.8M535.2 614.8H542.7" stroke="#111" stroke-width="1.2" fill="none"/><rect x="532.5" y="622.0" width="12.9" height="71.3" fill="#1f5bab" stroke="#111" stroke-width="1.15"/><path d="M422.7 597.4V693.3M418.7 693.3H565.0" stroke="#111" stroke-width="1.3" fill="none"/><text x="418.3" y="601.4" font-size="10" text-anchor="end">2.5</text><text x="418.3" y="620.5" font-size="10" text-anchor="end">2.0</text><text x="418.3" y="639.5" font-size="10" text-anchor="end">1.5</text><text x="418.3" y="658.6" font-size="10" text-anchor="end">1.0</text><text x="418.3" y="677.6" font-size="10" text-anchor="end">0.5</text><text x="418.3" y="696.7" font-size="10" text-anchor="end">0.0</text><path d="M418.7 598.0H422.7M418.7 617.1H422.7M418.7 636.1H422.7M418.7 655.2H422.7M418.7 674.2H422.7M435.8 693.3v3.2M448.6 693.3v3.2M461.6 693.3v3.2M474.4 693.3v3.2M487.4 693.3v3.2M500.2 693.3v3.2M513.2 693.3v3.2M526.1 693.3v3.2M539.0 693.3v3.2M562.1 693.3v3.2" stroke="#111" stroke-width="1.1" fill="none"/><text x="435.8" y="704.6" font-size="8.7" fill="#4d4d4f" text-anchor="middle">1</text><text x="448.7" y="704.6" font-size="8.7" fill="#4d4d4f" text-anchor="middle">3</text><path d="M430.4 706.7H450.8" stroke="#58595b" stroke-width="0.9"/><text transform="translate(448.0 714.6) rotate(-45)" font-size="13.3" text-anchor="end">AB1</text><text x="461.6" y="704.6" font-size="8.7" fill="#4d4d4f" text-anchor="middle">1</text><text x="474.5" y="704.6" font-size="8.7" fill="#4d4d4f" text-anchor="middle">3</text><path d="M456.2 706.7H476.6" stroke="#58595b" stroke-width="0.9"/><text transform="translate(473.8 714.6) rotate(-45)" font-size="13.3" text-anchor="end">4T1</text><text x="487.4" y="704.6" font-size="8.7" fill="#4d4d4f" text-anchor="middle">1</text><text x="500.3" y="704.6" font-size="8.7" fill="#4d4d4f" text-anchor="middle">3</text><path d="M482.0 706.7H502.4" stroke="#58595b" stroke-width="0.9"/><text transform="translate(499.6 714.6) rotate(-45)" font-size="13.3" text-anchor="end">CTL</text><text x="513.2" y="704.6" font-size="8.7" fill="#4d4d4f" text-anchor="middle">1</text><text x="526.1" y="704.6" font-size="8.7" fill="#4d4d4f" text-anchor="middle">3</text><path d="M507.8 706.7H528.2" stroke="#58595b" stroke-width="0.9"/><text transform="translate(525.4 714.6) rotate(-45)" font-size="13.3" text-anchor="end">AB1+CTL</text><text x="539.0" y="704.6" font-size="8.7" fill="#4d4d4f" text-anchor="middle">1</text><text x="551.9" y="704.6" font-size="8.7" fill="#4d4d4f" text-anchor="middle">3</text><path d="M533.6 706.7H554.0" stroke="#58595b" stroke-width="0.9"/><text transform="translate(551.2 714.6) rotate(-45)" font-size="13.3" text-anchor="end">4T1+CTL</text><text x="429.3" y="612.3" font-size="15.6" text-anchor="start">IL5</text><text transform="translate(395.3 646.0) rotate(-90)" font-size="15.5" text-anchor="middle">Conc(pg/ml)</text></g>
<g id="IL6"><rect x="629.9" y="697.0" width="12.8" height="0.7" fill="#353a3e" stroke="#111" stroke-width="1.15"/><rect x="642.7" y="697.1" width="12.8" height="0.6" fill="#64676b" stroke="#111" stroke-width="1.15"/><path d="M713.1 666.7V636.0M709.4 636.0H716.8" stroke="#111" stroke-width="1.2" fill="none"/><rect x="706.7" y="666.7" width="12.8" height="31.0" fill="#ed4c55" stroke="#111" stroke-width="1.15"/><path d="M725.9 610.7V607.0M722.2 607.0H729.6" stroke="#111" stroke-width="1.2" fill="none"/><rect x="719.5" y="610.7" width="12.8" height="87.0" fill="#e57678" stroke="#111" stroke-width="1.15"/><path d="M738.7 625.0V615.0M735.0 615.0H742.4" stroke="#111" stroke-width="1.2" fill="none"/><rect x="732.3" y="625.0" width="12.8" height="72.7" fill="#1f5bab" stroke="#111" stroke-width="1.15"/><rect x="745.1" y="697.2" width="12.8" height="0.5" fill="#4a67ae" stroke="#111" stroke-width="1.15"/><path d="M620.7 599.4V697.7M616.7 697.7H766.0" stroke="#111" stroke-width="1.3" fill="none"/><text x="618.3" y="603.4" font-size="10" text-anchor="end">20000</text><text x="618.3" y="627.8" font-size="10" text-anchor="end">15000</text><text x="618.3" y="652.2" font-size="10" text-anchor="end">10000</text><text x="618.3" y="676.7" font-size="10" text-anchor="end">5000</text><text x="618.3" y="701.1" font-size="10" text-anchor="end">0</text><path d="M616.7 600.0H620.7M616.7 624.4H620.7M616.7 648.9H620.7M616.7 673.3H620.7M636.3 697.7v3.2M649.1 697.7v3.2M661.9 697.7v3.2M674.7 697.7v3.2M687.5 697.7v3.2M700.3 697.7v3.2M713.1 697.7v3.2M725.9 697.7v3.2M738.7 697.7v3.2M751.5 697.7v3.2" stroke="#111" stroke-width="1.1" fill="none"/><text x="636.3" y="709.0" font-size="8.7" fill="#4d4d4f" text-anchor="middle">1</text><text x="649.1" y="709.0" font-size="8.7" fill="#4d4d4f" text-anchor="middle">3</text><path d="M631.0 711.1H651.2" stroke="#58595b" stroke-width="0.9"/><text transform="translate(648.5 719.0) rotate(-45)" font-size="13.3" text-anchor="end">AB1</text><text x="661.9" y="709.0" font-size="8.7" fill="#4d4d4f" text-anchor="middle">1</text><text x="674.7" y="709.0" font-size="8.7" fill="#4d4d4f" text-anchor="middle">3</text><path d="M656.6 711.1H676.8" stroke="#58595b" stroke-width="0.9"/><text transform="translate(674.1 719.0) rotate(-45)" font-size="13.3" text-anchor="end">4T1</text><text x="687.5" y="709.0" font-size="8.7" fill="#4d4d4f" text-anchor="middle">1</text><text x="700.3" y="709.0" font-size="8.7" fill="#4d4d4f" text-anchor="middle">3</text><path d="M682.2 711.1H702.4" stroke="#58595b" stroke-width="0.9"/><text transform="translate(699.7 719.0) rotate(-45)" font-size="13.3" text-anchor="end">CTL</text><text x="713.1" y="709.0" font-size="8.7" fill="#4d4d4f" text-anchor="middle">1</text><text x="725.9" y="709.0" font-size="8.7" fill="#4d4d4f" text-anchor="middle">3</text><path d="M707.8 711.1H728.0" stroke="#58595b" stroke-width="0.9"/><text transform="translate(725.3 719.0) rotate(-45)" font-size="13.3" text-anchor="end">AB1+CTL</text><text x="738.7" y="709.0" font-size="8.7" fill="#4d4d4f" text-anchor="middle">1</text><text x="751.5" y="709.0" font-size="8.7" fill="#4d4d4f" text-anchor="middle">3</text><path d="M733.4 711.1H753.6" stroke="#58595b" stroke-width="0.9"/><text transform="translate(750.9 719.0) rotate(-45)" font-size="13.3" text-anchor="end">4T1+CTL</text><text x="630.7" y="612.3" font-size="15.6" text-anchor="start">IL6</text><text transform="translate(587.3 648.0) rotate(-90)" font-size="15.5" text-anchor="middle">Conc(pg/ml)</text></g>
<g id="IL9"><path d="M816.6 695.0V692.4M812.9 692.4H820.3" stroke="#111" stroke-width="1.2" fill="none"/><rect x="810.0" y="695.0" width="13.1" height="3.7" fill="#353a3e" stroke="#111" stroke-width="1.15"/><path d="M829.7 695.0V693.0M826.0 693.0H833.4" stroke="#111" stroke-width="1.2" fill="none"/><rect x="823.1" y="695.0" width="13.1" height="3.7" fill="#64676b" stroke="#111" stroke-width="1.15"/><path d="M842.8 697.4V696.4M839.1 696.4H846.5" stroke="#111" stroke-width="1.2" fill="none"/><rect x="836.3" y="697.4" width="13.1" height="1.3" fill="#37ad5b" stroke="#111" stroke-width="1.15"/><path d="M856.0 692.4V691.4M852.3 691.4H859.7" stroke="#111" stroke-width="1.2" fill="none"/><rect x="849.4" y="692.4" width="13.1" height="6.3" fill="#63b85b" stroke="#111" stroke-width="1.15"/><path d="M869.1 697.1V695.6M865.4 695.6H872.8" stroke="#111" stroke-width="1.2" fill="none"/><rect x="862.5" y="697.1" width="13.1" height="1.6" fill="#8c4798" stroke="#111" stroke-width="1.15"/><path d="M882.2 696.1V694.5M878.5 694.5H885.9" stroke="#111" stroke-width="1.2" fill="none"/><rect x="875.6" y="696.1" width="13.1" height="2.6" fill="#b0659f" stroke="#111" stroke-width="1.15"/><path d="M895.3 660.3V636.7M891.6 636.7H899.0" stroke="#111" stroke-width="1.2" fill="none"/><rect x="888.8" y="660.3" width="13.1" height="38.4" fill="#ed4c55" stroke="#111" stroke-width="1.15"/><path d="M908.5 622.7V621.4M904.8 621.4H912.2" stroke="#111" stroke-width="1.2" fill="none"/><rect x="901.9" y="622.7" width="13.1" height="76.0" fill="#e57678" stroke="#111" stroke-width="1.15"/><path d="M921.6 622.5V612.4M917.9 612.4H925.3" stroke="#111" stroke-width="1.2" fill="none"/><rect x="915.0" y="622.5" width="13.1" height="76.2" fill="#1f5bab" stroke="#111" stroke-width="1.15"/><path d="M934.7 687.3V685.7M931.0 685.7H938.4" stroke="#111" stroke-width="1.2" fill="none"/><rect x="928.2" y="687.3" width="13.1" height="11.4" fill="#4a67ae" stroke="#111" stroke-width="1.15"/><path d="M804.0 593.7V698.7M800.0 698.7H949.0" stroke="#111" stroke-width="1.3" fill="none"/><text x="800.7" y="597.7" font-size="10" text-anchor="end">10</text><text x="800.7" y="618.6" font-size="10" text-anchor="end">8</text><text x="800.7" y="639.5" font-size="10" text-anchor="end">6</text><text x="800.7" y="660.3" font-size="10" text-anchor="end">4</text><text x="800.7" y="681.2" font-size="10" text-anchor="end">2</text><text x="800.7" y="702.1" font-size="10" text-anchor="end">0</text><path d="M800.0 594.3H804.0M800.0 615.2H804.0M800.0 636.1H804.0M800.0 656.9H804.0M800.0 677.8H804.0M816.6 698.7v3.2M829.7 698.7v3.2M842.8 698.7v3.2M856.0 698.7v3.2M869.1 698.7v3.2M882.2 698.7v3.2M895.3 698.7v3.2M908.5 698.7v3.2M921.6 698.7v3.2M934.7 698.7v3.2" stroke="#111" stroke-width="1.1" fill="none"/><text x="816.6" y="710.0" font-size="8.7" fill="#4d4d4f" text-anchor="middle">1</text><text x="829.7" y="710.0" font-size="8.7" fill="#4d4d4f" text-anchor="middle">3</text><path d="M811.1 712.1H832.0" stroke="#58595b" stroke-width="0.9"/><text transform="translate(828.9 720.0) rotate(-45)" font-size="13.3" text-anchor="end">AB1</text><text x="842.8" y="710.0" font-size="8.7" fill="#4d4d4f" text-anchor="middle">1</text><text x="856.0" y="710.0" font-size="8.7" fill="#4d4d4f" text-anchor="middle">3</text><path d="M837.4 712.1H858.2" stroke="#58595b" stroke-width="0.9"/><text transform="translate(855.2 720.0) rotate(-45)" font-size="13.3" text-anchor="end">4T1</text><text x="869.1" y="710.0" font-size="8.7" fill="#4d4d4f" text-anchor="middle">1</text><text x="882.2" y="710.0" font-size="8.7" fill="#4d4d4f" text-anchor="middle">3</text><path d="M863.6 712.1H884.5" stroke="#58595b" stroke-width="0.9"/><text transform="translate(881.4 720.0) rotate(-45)" font-size="13.3" text-anchor="end">CTL</text><text x="895.3" y="710.0" font-size="8.7" fill="#4d4d4f" text-anchor="middle">1</text><text x="908.5" y="710.0" font-size="8.7" fill="#4d4d4f" text-anchor="middle">3</text><path d="M889.9 712.1H910.7" stroke="#58595b" stroke-width="0.9"/><text transform="translate(907.7 720.0) rotate(-45)" font-size="13.3" text-anchor="end">AB1+CTL</text><text x="921.6" y="710.0" font-size="8.7" fill="#4d4d4f" text-anchor="middle">1</text><text x="934.7" y="710.0" font-size="8.7" fill="#4d4d4f" text-anchor="middle">3</text><path d="M916.1 712.1H937.0" stroke="#58595b" stroke-width="0.9"/><text transform="translate(934.0 720.0) rotate(-45)" font-size="13.3" text-anchor="end">4T1+CTL</text><text x="810.7" y="607.3" font-size="15.6" text-anchor="start">IL9</text><text transform="translate(783.5 648.0) rotate(-90)" font-size="15.5" text-anchor="middle">Conc(pg/ml)</text></g>
<g id="IL10"><path d="M1087.2 638.1V629.4M1083.5 629.4H1090.9" stroke="#111" stroke-width="1.2" fill="none"/><rect x="1080.7" y="638.1" width="13.0" height="59.9" fill="#ed4c55" stroke="#111" stroke-width="1.15"/><path d="M1100.2 634.4V630.0M1096.5 630.0H1103.9" stroke="#111" stroke-width="1.2" fill="none"/><rect x="1093.7" y="634.4" width="13.0" height="63.6" fill="#e57678" stroke="#111" stroke-width="1.15"/><path d="M1113.2 622.3V617.7M1109.5 617.7H1116.9" stroke="#111" stroke-width="1.2" fill="none"/><rect x="1106.7" y="622.3" width="13.0" height="75.7" fill="#1f5bab" stroke="#111" stroke-width="1.15"/><path d="M1126.2 678.3V675.7M1122.5 675.7H1129.9" stroke="#111" stroke-width="1.2" fill="none"/><rect x="1119.7" y="678.3" width="13.0" height="19.7" fill="#4a67ae" stroke="#111" stroke-width="1.15"/><path d="M997.3 593.4V698.0M993.3 698.0H1140.0" stroke="#111" stroke-width="1.3" fill="none"/><text x="993.3" y="597.4" font-size="10" text-anchor="end">50</text><text x="993.3" y="618.2" font-size="10" text-anchor="end">40</text><text x="993.3" y="639.0" font-size="10" text-anchor="end">30</text><text x="993.3" y="659.8" font-size="10" text-anchor="end">20</text><text x="993.3" y="680.6" font-size="10" text-anchor="end">10</text><text x="993.3" y="701.4" font-size="10" text-anchor="end">0</text><path d="M993.3 594.0H997.3M993.3 614.8H997.3M993.3 635.6H997.3M993.3 656.4H997.3M993.3 677.2H997.3M1009.2 698.0v3.2M1022.2 698.0v3.2M1035.2 698.0v3.2M1048.2 698.0v3.2M1061.2 698.0v3.2M1074.2 698.0v3.2M1087.2 698.0v3.2M1100.2 698.0v3.2M1113.2 698.0v3.2M1126.2 698.0v3.2" stroke="#111" stroke-width="1.1" fill="none"/><text x="1009.2" y="709.3" font-size="8.7" fill="#4d4d4f" text-anchor="middle">1</text><text x="1022.2" y="709.3" font-size="8.7" fill="#4d4d4f" text-anchor="middle">3</text><path d="M1003.8 711.4H1024.4" stroke="#58595b" stroke-width="0.9"/><text transform="translate(1021.5 719.3) rotate(-45)" font-size="13.3" text-anchor="end">AB1</text><text x="1035.2" y="709.3" font-size="8.7" fill="#4d4d4f" text-anchor="middle">1</text><text x="1048.2" y="709.3" font-size="8.7" fill="#4d4d4f" text-anchor="middle">3</text><path d="M1029.8 711.4H1050.4" stroke="#58595b" stroke-width="0.9"/><text transform="translate(1047.5 719.3) rotate(-45)" font-size="13.3" text-anchor="end">4T1</text><text x="1061.2" y="709.3" font-size="8.7" fill="#4d4d4f" text-anchor="middle">1</text><text x="1074.2" y="709.3" font-size="8.7" fill="#4d4d4f" text-anchor="middle">3</text><path d="M1055.8 711.4H1076.4" stroke="#58595b" stroke-width="0.9"/><text transform="translate(1073.5 719.3) rotate(-45)" font-size="13.3" text-anchor="end">CTL</text><text x="1087.2" y="709.3" font-size="8.7" fill="#4d4d4f" text-anchor="middle">1</text><text x="1100.2" y="709.3" font-size="8.7" fill="#4d4d4f" text-anchor="middle">3</text><path d="M1081.8 711.4H1102.4" stroke="#58595b" stroke-width="0.9"/><text transform="translate(1099.5 719.3) rotate(-45)" font-size="13.3" text-anchor="end">AB1+CTL</text><text x="1113.2" y="709.3" font-size="8.7" fill="#4d4d4f" text-anchor="middle">1</text><text x="1126.2" y="709.3" font-size="8.7" fill="#4d4d4f" text-anchor="middle">3</text><path d="M1107.8 711.4H1128.4" stroke="#58595b" stroke-width="0.9"/><text transform="translate(1125.5 719.3) rotate(-45)" font-size="13.3" text-anchor="end">4T1+CTL</text><text x="1004.0" y="606.3" font-size="15.6" text-anchor="start">IL10</text><text transform="translate(976.1 650.0) rotate(-90)" font-size="15.5" text-anchor="middle">Conc(pg/ml)</text></g>
<g id="IL17A"><path d="M48.8 852.3V851.3M45.0 851.3H52.5" stroke="#111" stroke-width="1.2" fill="none"/><rect x="42.3" y="852.3" width="12.9" height="9.4" fill="#353a3e" stroke="#111" stroke-width="1.15"/><path d="M61.6 852.9V852.1M57.9 852.1H65.3" stroke="#111" stroke-width="1.2" fill="none"/><rect x="55.2" y="852.9" width="12.9" height="8.8" fill="#64676b" stroke="#111" stroke-width="1.15"/><path d="M74.5 851.3V850.0M70.8 850.0H78.2" stroke="#111" stroke-width="1.2" fill="none"/><rect x="68.1" y="851.3" width="12.9" height="10.4" fill="#37ad5b" stroke="#111" stroke-width="1.15"/><rect x="81.0" y="853.3" width="12.9" height="8.4" fill="#63b85b" stroke="#111" stroke-width="1.15"/><path d="M100.4 851.3V848.8M96.7 848.8H104.1" stroke="#111" stroke-width="1.2" fill="none"/><rect x="93.9" y="851.3" width="12.9" height="10.4" fill="#8c4798" stroke="#111" stroke-width="1.15"/><rect x="106.8" y="851.3" width="12.9" height="10.4" fill="#b0659f" stroke="#111" stroke-width="1.15"/><path d="M126.2 812.4V783.6M122.5 783.6H129.8" stroke="#111" stroke-width="1.2" fill="none"/><rect x="119.7" y="812.4" width="12.9" height="49.3" fill="#ed4c55" stroke="#111" stroke-width="1.15"/><path d="M139.0 774.6V772.3M135.3 772.3H142.7" stroke="#111" stroke-width="1.2" fill="none"/><rect x="132.6" y="774.6" width="12.9" height="87.1" fill="#e57678" stroke="#111" stroke-width="1.15"/><path d="M151.9 777.3V764.0M148.2 764.0H155.6" stroke="#111" stroke-width="1.2" fill="none"/><rect x="145.5" y="777.3" width="12.9" height="84.4" fill="#1f5bab" stroke="#111" stroke-width="1.15"/><path d="M164.8 845.6V843.7M161.2 843.7H168.5" stroke="#111" stroke-width="1.2" fill="none"/><rect x="158.4" y="845.6" width="12.9" height="16.1" fill="#4a67ae" stroke="#111" stroke-width="1.15"/><path d="M36.0 756.7V861.7M32.0 861.7H178.3" stroke="#111" stroke-width="1.3" fill="none"/><text x="32.7" y="760.7" font-size="10" text-anchor="end">5</text><text x="32.7" y="781.6" font-size="10" text-anchor="end">4</text><text x="32.7" y="802.5" font-size="10" text-anchor="end">3</text><text x="32.7" y="823.3" font-size="10" text-anchor="end">2</text><text x="32.7" y="844.2" font-size="10" text-anchor="end">1</text><text x="32.7" y="865.1" font-size="10" text-anchor="end">0</text><path d="M32.0 757.3H36.0M32.0 778.2H36.0M32.0 799.1H36.0M32.0 819.9H36.0M32.0 840.8H36.0M48.8 861.7v3.2M61.6 861.7v3.2M74.5 861.7v3.2M87.5 861.7v3.2M100.4 861.7v3.2M113.2 861.7v3.2M126.2 861.7v3.2M139.0 861.7v3.2M151.9 861.7v3.2M164.8 861.7v3.2" stroke="#111" stroke-width="1.1" fill="none"/><text x="48.8" y="873.0" font-size="8.7" fill="#4d4d4f" text-anchor="middle">1</text><text x="61.6" y="873.0" font-size="8.7" fill="#4d4d4f" text-anchor="middle">3</text><path d="M43.4 875.1H63.8" stroke="#58595b" stroke-width="0.9"/><text transform="translate(61.0 883.0) rotate(-45)" font-size="13.3" text-anchor="end">AB1</text><text x="74.5" y="873.0" font-size="8.7" fill="#4d4d4f" text-anchor="middle">1</text><text x="87.4" y="873.0" font-size="8.7" fill="#4d4d4f" text-anchor="middle">3</text><path d="M69.2 875.1H89.6" stroke="#58595b" stroke-width="0.9"/><text transform="translate(86.8 883.0) rotate(-45)" font-size="13.3" text-anchor="end">4T1</text><text x="100.4" y="873.0" font-size="8.7" fill="#4d4d4f" text-anchor="middle">1</text><text x="113.2" y="873.0" font-size="8.7" fill="#4d4d4f" text-anchor="middle">3</text><path d="M95.0 875.1H115.4" stroke="#58595b" stroke-width="0.9"/><text transform="translate(112.6 883.0) rotate(-45)" font-size="13.3" text-anchor="end">CTL</text><text x="126.2" y="873.0" font-size="8.7" fill="#4d4d4f" text-anchor="middle">1</text><text x="139.1" y="873.0" font-size="8.7" fill="#4d4d4f" text-anchor="middle">3</text><path d="M120.8 875.1H141.2" stroke="#58595b" stroke-width="0.9"/><text transform="translate(138.4 883.0) rotate(-45)" font-size="13.3" text-anchor="end">AB1+CTL</text><text x="151.9" y="873.0" font-size="8.7" fill="#4d4d4f" text-anchor="middle">1</text><text x="164.8" y="873.0" font-size="8.7" fill="#4d4d4f" text-anchor="middle">3</text><path d="M146.6 875.1H167.0" stroke="#58595b" stroke-width="0.9"/><text transform="translate(164.2 883.0) rotate(-45)" font-size="13.3" text-anchor="end">4T1+CTL</text><text x="42.7" y="773.3" font-size="15.6" text-anchor="start">IL17A</text><text transform="translate(19.5 809.0) rotate(-90)" font-size="15.5" text-anchor="middle">Conc(pg/ml)</text></g>
<g id="IL17F"><path d="M235.4 850.7V848.3M231.8 848.3H239.1" stroke="#111" stroke-width="1.2" fill="none"/><rect x="229.0" y="850.7" width="12.9" height="9.3" fill="#353a3e" stroke="#111" stroke-width="1.15"/><path d="M261.2 857.6V855.5M257.6 855.5H264.9" stroke="#111" stroke-width="1.2" fill="none"/><rect x="254.8" y="857.6" width="12.9" height="2.4" fill="#37ad5b" stroke="#111" stroke-width="1.15"/><path d="M274.1 857.6V855.5M270.4 855.5H277.8" stroke="#111" stroke-width="1.2" fill="none"/><rect x="267.7" y="857.6" width="12.9" height="2.4" fill="#63b85b" stroke="#111" stroke-width="1.15"/><path d="M299.9 855.7V850.7M296.2 850.7H303.6" stroke="#111" stroke-width="1.2" fill="none"/><rect x="293.5" y="855.7" width="12.9" height="4.3" fill="#b0659f" stroke="#111" stroke-width="1.15"/><path d="M312.8 825.7V808.0M309.1 808.0H316.5" stroke="#111" stroke-width="1.2" fill="none"/><rect x="306.4" y="825.7" width="12.9" height="34.3" fill="#ed4c55" stroke="#111" stroke-width="1.15"/><path d="M325.8 795.7V793.4M322.1 793.4H329.4" stroke="#111" stroke-width="1.2" fill="none"/><rect x="319.3" y="795.7" width="12.9" height="64.3" fill="#e57678" stroke="#111" stroke-width="1.15"/><path d="M338.6 800.0V786.0M334.9 786.0H342.3" stroke="#111" stroke-width="1.2" fill="none"/><rect x="332.2" y="800.0" width="12.9" height="60.0" fill="#1f5bab" stroke="#111" stroke-width="1.15"/><rect x="345.1" y="846.6" width="12.9" height="13.4" fill="#4a67ae" stroke="#111" stroke-width="1.15"/><path d="M222.7 755.1V860.0M218.7 860.0H366.7" stroke="#111" stroke-width="1.3" fill="none"/><text x="220.0" y="759.1" font-size="10" text-anchor="end">1.5</text><text x="220.0" y="793.9" font-size="10" text-anchor="end">1.0</text><text x="220.0" y="828.6" font-size="10" text-anchor="end">0.5</text><text x="220.0" y="863.4" font-size="10" text-anchor="end">0.0</text><path d="M218.7 755.7H222.7M218.7 790.5H222.7M218.7 825.2H222.7M235.4 860.0v3.2M248.3 860.0v3.2M261.2 860.0v3.2M274.1 860.0v3.2M287.1 860.0v3.2M299.9 860.0v3.2M312.8 860.0v3.2M325.8 860.0v3.2M338.6 860.0v3.2M351.6 860.0v3.2" stroke="#111" stroke-width="1.1" fill="none"/><text x="235.4" y="871.3" font-size="8.7" fill="#4d4d4f" text-anchor="middle">1</text><text x="248.3" y="871.3" font-size="8.7" fill="#4d4d4f" text-anchor="middle">3</text><path d="M230.1 873.4H250.5" stroke="#58595b" stroke-width="0.9"/><text transform="translate(247.7 881.3) rotate(-45)" font-size="13.3" text-anchor="end">AB1</text><text x="261.2" y="871.3" font-size="8.7" fill="#4d4d4f" text-anchor="middle">1</text><text x="274.2" y="871.3" font-size="8.7" fill="#4d4d4f" text-anchor="middle">3</text><path d="M255.9 873.4H276.3" stroke="#58595b" stroke-width="0.9"/><text transform="translate(273.5 881.3) rotate(-45)" font-size="13.3" text-anchor="end">4T1</text><text x="287.1" y="871.3" font-size="8.7" fill="#4d4d4f" text-anchor="middle">1</text><text x="300.0" y="871.3" font-size="8.7" fill="#4d4d4f" text-anchor="middle">3</text><path d="M281.7 873.4H302.1" stroke="#58595b" stroke-width="0.9"/><text transform="translate(299.3 881.3) rotate(-45)" font-size="13.3" text-anchor="end">CTL</text><text x="312.8" y="871.3" font-size="8.7" fill="#4d4d4f" text-anchor="middle">1</text><text x="325.8" y="871.3" font-size="8.7" fill="#4d4d4f" text-anchor="middle">3</text><path d="M307.5 873.4H327.9" stroke="#58595b" stroke-width="0.9"/><text transform="translate(325.1 881.3) rotate(-45)" font-size="13.3" text-anchor="end">AB1+CTL</text><text x="338.6" y="871.3" font-size="8.7" fill="#4d4d4f" text-anchor="middle">1</text><text x="351.6" y="871.3" font-size="8.7" fill="#4d4d4f" text-anchor="middle">3</text><path d="M333.3 873.4H353.7" stroke="#58595b" stroke-width="0.9"/><text transform="translate(350.9 881.3) rotate(-45)" font-size="13.3" text-anchor="end">4T1+CTL</text><text x="230.0" y="769.9" font-size="15.6" text-anchor="start">IL17F</text><text transform="translate(199.5 808.0) rotate(-90)" font-size="15.5" text-anchor="middle">Conc(pg/ml)</text></g>
<g id="IL22"><path d="M432.1 856.3V855.3M428.4 855.3H435.8" stroke="#111" stroke-width="1.2" fill="none"/><rect x="425.6" y="856.3" width="13.1" height="1.7" fill="#111" stroke="#111" stroke-width="1.15"/><path d="M471.3 856.5V855.5M467.6 855.5H475.0" stroke="#111" stroke-width="1.2" fill="none"/><rect x="464.8" y="856.5" width="13.1" height="1.5" fill="#111" stroke="#111" stroke-width="1.15"/><path d="M497.5 856.3V855.3M493.8 855.3H501.2" stroke="#111" stroke-width="1.2" fill="none"/><rect x="491.0" y="856.3" width="13.1" height="1.7" fill="#111" stroke="#111" stroke-width="1.15"/><path d="M510.6 825.8V816.3M506.9 816.3H514.3" stroke="#111" stroke-width="1.2" fill="none"/><rect x="504.0" y="825.8" width="13.1" height="32.2" fill="#ed4c55" stroke="#111" stroke-width="1.15"/><path d="M523.6 844.6V843.3M519.9 843.3H527.3" stroke="#111" stroke-width="1.2" fill="none"/><rect x="517.1" y="844.6" width="13.1" height="13.4" fill="#e57678" stroke="#111" stroke-width="1.15"/><path d="M536.7 842.3V841.0M533.0 841.0H540.4" stroke="#111" stroke-width="1.2" fill="none"/><rect x="530.2" y="842.3" width="13.1" height="15.7" fill="#1f5bab" stroke="#111" stroke-width="1.15"/><path d="M549.8 783.2V773.0M546.1 773.0H553.5" stroke="#111" stroke-width="1.2" fill="none"/><rect x="543.2" y="783.2" width="13.1" height="74.8" fill="#4a67ae" stroke="#111" stroke-width="1.15"/><path d="M419.0 752.7V858.0M415.0 858.0H564.3" stroke="#111" stroke-width="1.3" fill="none"/><text x="415.7" y="756.7" font-size="10" text-anchor="end">50</text><text x="415.7" y="777.6" font-size="10" text-anchor="end">40</text><text x="415.7" y="798.6" font-size="10" text-anchor="end">30</text><text x="415.7" y="819.5" font-size="10" text-anchor="end">20</text><text x="415.7" y="840.5" font-size="10" text-anchor="end">10</text><text x="415.7" y="861.4" font-size="10" text-anchor="end">0</text><path d="M415.0 753.3H419.0M415.0 774.2H419.0M415.0 795.2H419.0M415.0 816.1H419.0M415.0 837.1H419.0M432.1 858.0v3.2M445.2 858.0v3.2M458.3 858.0v3.2M471.3 858.0v3.2M484.4 858.0v3.2M497.5 858.0v3.2M510.6 858.0v3.2M523.6 858.0v3.2M536.7 858.0v3.2M549.8 858.0v3.2" stroke="#111" stroke-width="1.1" fill="none"/><text x="432.1" y="869.3" font-size="8.7" fill="#4d4d4f" text-anchor="middle">1</text><text x="445.2" y="869.3" font-size="8.7" fill="#4d4d4f" text-anchor="middle">3</text><path d="M426.7 871.4H447.4" stroke="#58595b" stroke-width="0.9"/><text transform="translate(444.5 879.3) rotate(-45)" font-size="13.3" text-anchor="end">AB1</text><text x="458.3" y="869.3" font-size="8.7" fill="#4d4d4f" text-anchor="middle">1</text><text x="471.3" y="869.3" font-size="8.7" fill="#4d4d4f" text-anchor="middle">3</text><path d="M452.8 871.4H473.6" stroke="#58595b" stroke-width="0.9"/><text transform="translate(470.6 879.3) rotate(-45)" font-size="13.3" text-anchor="end">4T1</text><text x="484.4" y="869.3" font-size="8.7" fill="#4d4d4f" text-anchor="middle">1</text><text x="497.5" y="869.3" font-size="8.7" fill="#4d4d4f" text-anchor="middle">3</text><path d="M479.0 871.4H499.7" stroke="#58595b" stroke-width="0.9"/><text transform="translate(496.8 879.3) rotate(-45)" font-size="13.3" text-anchor="end">CTL</text><text x="510.6" y="869.3" font-size="8.7" fill="#4d4d4f" text-anchor="middle">1</text><text x="523.6" y="869.3" font-size="8.7" fill="#4d4d4f" text-anchor="middle">3</text><path d="M505.1 871.4H525.9" stroke="#58595b" stroke-width="0.9"/><text transform="translate(522.9 879.3) rotate(-45)" font-size="13.3" text-anchor="end">AB1+CTL</text><text x="536.7" y="869.3" font-size="8.7" fill="#4d4d4f" text-anchor="middle">1</text><text x="549.8" y="869.3" font-size="8.7" fill="#4d4d4f" text-anchor="middle">3</text><path d="M531.3 871.4H552.0" stroke="#58595b" stroke-width="0.9"/><text transform="translate(549.0 879.3) rotate(-45)" font-size="13.3" text-anchor="end">4T1+CTL</text><text x="431.7" y="766.6" font-size="15.6" text-anchor="start">IL22</text><text transform="translate(397.5 807.0) rotate(-90)" font-size="15.5" text-anchor="middle">Conc(pg/ml)</text></g>
<g id="CCL11"><path d="M689.7 888.3V884.9M686.0 884.9H693.4" stroke="#111" stroke-width="1.2" fill="none"/><rect x="683.3" y="888.3" width="12.8" height="27.7" fill="#353a3e" stroke="#111" stroke-width="1.15"/><rect x="696.1" y="884.9" width="12.8" height="31.1" fill="#64676b" stroke="#111" stroke-width="1.15"/><rect x="709.0" y="884.9" width="12.8" height="31.1" fill="#37ad5b" stroke="#111" stroke-width="1.15"/><rect x="721.8" y="884.9" width="12.8" height="31.1" fill="#63b85b" stroke="#111" stroke-width="1.15"/><path d="M741.0 909.4V902.0M737.3 902.0H744.7" stroke="#111" stroke-width="1.2" fill="none"/><rect x="734.6" y="909.4" width="12.8" height="6.6" fill="#8c4798" stroke="#111" stroke-width="1.15"/><rect x="747.4" y="895.3" width="12.8" height="20.7" fill="#b0659f" stroke="#111" stroke-width="1.15"/><path d="M766.7 836.7V829.9M763.0 829.9H770.4" stroke="#111" stroke-width="1.2" fill="none"/><rect x="760.3" y="836.7" width="12.8" height="79.3" fill="#ed4c55" stroke="#111" stroke-width="1.15"/><rect x="773.1" y="864.4" width="12.8" height="51.6" fill="#e57678" stroke="#111" stroke-width="1.15"/><path d="M792.4 829.9V826.8M788.7 826.8H796.1" stroke="#111" stroke-width="1.2" fill="none"/><rect x="785.9" y="829.9" width="12.8" height="86.1" fill="#4566ac" stroke="#111" stroke-width="1.15"/><rect x="798.8" y="874.5" width="12.8" height="41.5" fill="#7281b9" stroke="#111" stroke-width="1.15"/><path d="M677.3 811.7V916.0M673.3 916.0H818.3" stroke="#111" stroke-width="1.3" fill="none"/><text x="675.0" y="815.7" font-size="10" text-anchor="end">1.0</text><text x="675.0" y="836.4" font-size="10" text-anchor="end">0.8</text><text x="675.0" y="857.2" font-size="10" text-anchor="end">0.6</text><text x="675.0" y="877.9" font-size="10" text-anchor="end">0.4</text><text x="675.0" y="898.7" font-size="10" text-anchor="end">0.2</text><text x="675.0" y="919.4" font-size="10" text-anchor="end">0.0</text><path d="M673.3 812.3H677.3M673.3 833.0H677.3M673.3 853.8H677.3M673.3 874.5H677.3M673.3 895.3H677.3M689.7 916.0v3.2M702.5 916.0v3.2M715.4 916.0v3.2M728.2 916.0v3.2M741.0 916.0v3.2M753.9 916.0v3.2M766.7 916.0v3.2M779.5 916.0v3.2M792.4 916.0v3.2M805.2 916.0v3.2" stroke="#111" stroke-width="1.1" fill="none"/><text x="689.7" y="927.3" font-size="8.7" fill="#4d4d4f" text-anchor="middle">1</text><text x="702.5" y="927.3" font-size="8.7" fill="#4d4d4f" text-anchor="middle">3</text><path d="M684.4 929.4H704.7" stroke="#58595b" stroke-width="0.9"/><text transform="translate(701.9 937.3) rotate(-45)" font-size="13.3" text-anchor="end">AB1</text><text x="715.4" y="927.3" font-size="8.7" fill="#4d4d4f" text-anchor="middle">1</text><text x="728.2" y="927.3" font-size="8.7" fill="#4d4d4f" text-anchor="middle">3</text><path d="M710.1 929.4H730.3" stroke="#58595b" stroke-width="0.9"/><text transform="translate(727.6 937.3) rotate(-45)" font-size="13.3" text-anchor="end">4T1</text><text x="741.0" y="927.3" font-size="8.7" fill="#4d4d4f" text-anchor="middle">1</text><text x="753.9" y="927.3" font-size="8.7" fill="#4d4d4f" text-anchor="middle">3</text><path d="M735.7 929.4H756.0" stroke="#58595b" stroke-width="0.9"/><text transform="translate(753.2 937.3) rotate(-45)" font-size="13.3" text-anchor="end">CTL</text><text x="766.7" y="927.3" font-size="8.7" fill="#4d4d4f" text-anchor="middle">1</text><text x="779.5" y="927.3" font-size="8.7" fill="#4d4d4f" text-anchor="middle">3</text><path d="M761.4 929.4H781.6" stroke="#58595b" stroke-width="0.9"/><text transform="translate(778.9 937.3) rotate(-45)" font-size="13.3" text-anchor="end">AB1+CTL</text><text x="792.4" y="927.3" font-size="8.7" fill="#4d4d4f" text-anchor="middle">1</text><text x="805.2" y="927.3" font-size="8.7" fill="#4d4d4f" text-anchor="middle">3</text><path d="M787.0 929.4H807.3" stroke="#58595b" stroke-width="0.9"/><text transform="translate(804.6 937.3) rotate(-45)" font-size="13.3" text-anchor="end">4T1+CTL</text><text x="687.3" y="823.9" font-size="15.6" text-anchor="start">CCL11</text><text transform="translate(651.5 864.0) rotate(-90)" font-size="15.5" text-anchor="middle">Conc(pg/ml)</text></g>
<g id="CCL20"><path d="M875.5 914.0V911.6M871.8 911.6H879.2" stroke="#111" stroke-width="1.2" fill="none"/><rect x="869.0" y="914.0" width="13.0" height="2.0" fill="#353a3e" stroke="#111" stroke-width="1.15"/><path d="M888.5 912.3V910.0M884.8 910.0H892.2" stroke="#111" stroke-width="1.2" fill="none"/><rect x="882.0" y="912.3" width="13.0" height="3.7" fill="#64676b" stroke="#111" stroke-width="1.15"/><path d="M901.5 900.0V895.7M897.8 895.7H905.2" stroke="#111" stroke-width="1.2" fill="none"/><rect x="895.0" y="900.0" width="13.0" height="16.0" fill="#37ad5b" stroke="#111" stroke-width="1.15"/><path d="M914.5 847.0V818.5M910.8 818.5H918.2" stroke="#111" stroke-width="1.2" fill="none"/><rect x="908.0" y="847.0" width="13.0" height="69.0" fill="#63b85b" stroke="#111" stroke-width="1.15"/><path d="M940.5 914.3V912.0M936.8 912.0H944.2" stroke="#111" stroke-width="1.2" fill="none"/><rect x="934.0" y="914.3" width="13.0" height="1.7" fill="#b0659f" stroke="#111" stroke-width="1.15"/><path d="M953.5 855.6V839.3M949.8 839.3H957.2" stroke="#111" stroke-width="1.2" fill="none"/><rect x="947.0" y="855.6" width="13.0" height="60.4" fill="#ed4c55" stroke="#111" stroke-width="1.15"/><path d="M966.5 906.7V905.6M962.8 905.6H970.2" stroke="#111" stroke-width="1.2" fill="none"/><rect x="960.0" y="906.7" width="13.0" height="9.3" fill="#e57678" stroke="#111" stroke-width="1.15"/><path d="M979.5 897.3V895.3M975.8 895.3H983.2" stroke="#111" stroke-width="1.2" fill="none"/><rect x="973.0" y="897.3" width="13.0" height="18.7" fill="#4566ac" stroke="#111" stroke-width="1.15"/><path d="M992.5 889.3V886.0M988.8 886.0H996.2" stroke="#111" stroke-width="1.2" fill="none"/><rect x="986.0" y="889.3" width="13.0" height="26.7" fill="#7281b9" stroke="#111" stroke-width="1.15"/><path d="M862.7 811.7V916.0M858.7 916.0H1006.7" stroke="#111" stroke-width="1.3" fill="none"/><text x="859.3" y="815.7" font-size="10" text-anchor="end">15</text><text x="859.3" y="850.3" font-size="10" text-anchor="end">10</text><text x="859.3" y="884.8" font-size="10" text-anchor="end">5</text><text x="859.3" y="919.4" font-size="10" text-anchor="end">0</text><path d="M858.7 812.3H862.7M858.7 846.9H862.7M858.7 881.4H862.7M875.5 916.0v3.2M888.5 916.0v3.2M901.5 916.0v3.2M914.5 916.0v3.2M927.5 916.0v3.2M940.5 916.0v3.2M953.5 916.0v3.2M966.5 916.0v3.2M979.5 916.0v3.2M992.5 916.0v3.2" stroke="#111" stroke-width="1.1" fill="none"/><text x="875.5" y="927.3" font-size="8.7" fill="#4d4d4f" text-anchor="middle">1</text><text x="888.5" y="927.3" font-size="8.7" fill="#4d4d4f" text-anchor="middle">3</text><path d="M870.1 929.4H890.7" stroke="#58595b" stroke-width="0.9"/><text transform="translate(887.8 937.3) rotate(-45)" font-size="13.3" text-anchor="end">AB1</text><text x="901.5" y="927.3" font-size="8.7" fill="#4d4d4f" text-anchor="middle">1</text><text x="914.5" y="927.3" font-size="8.7" fill="#4d4d4f" text-anchor="middle">3</text><path d="M896.1 929.4H916.7" stroke="#58595b" stroke-width="0.9"/><text transform="translate(913.8 937.3) rotate(-45)" font-size="13.3" text-anchor="end">4T1</text><text x="927.5" y="927.3" font-size="8.7" fill="#4d4d4f" text-anchor="middle">1</text><text x="940.5" y="927.3" font-size="8.7" fill="#4d4d4f" text-anchor="middle">3</text><path d="M922.1 929.4H942.7" stroke="#58595b" stroke-width="0.9"/><text transform="translate(939.8 937.3) rotate(-45)" font-size="13.3" text-anchor="end">CTL</text><text x="953.5" y="927.3" font-size="8.7" fill="#4d4d4f" text-anchor="middle">1</text><text x="966.5" y="927.3" font-size="8.7" fill="#4d4d4f" text-anchor="middle">3</text><path d="M948.1 929.4H968.7" stroke="#58595b" stroke-width="0.9"/><text transform="translate(965.8 937.3) rotate(-45)" font-size="13.3" text-anchor="end">AB1+CTL</text><text x="979.5" y="927.3" font-size="8.7" fill="#4d4d4f" text-anchor="middle">1</text><text x="992.5" y="927.3" font-size="8.7" fill="#4d4d4f" text-anchor="middle">3</text><path d="M974.1 929.4H994.7" stroke="#58595b" stroke-width="0.9"/><text transform="translate(991.8 937.3) rotate(-45)" font-size="13.3" text-anchor="end">4T1+CTL</text><text x="1001.7" y="828.9" font-size="15.6" text-anchor="end">CCL20</text><text transform="translate(842.1 867.0) rotate(-90)" font-size="15.5" text-anchor="middle">Conc(pg/ml)</text></g>
<g id="CCL24"><path d="M1064.2 902.3V901.3M1060.5 901.3H1067.9" stroke="#111" stroke-width="1.2" fill="none"/><rect x="1057.7" y="902.3" width="13.0" height="13.7" fill="#353a3e" stroke="#111" stroke-width="1.15"/><path d="M1077.2 901.7V900.7M1073.5 900.7H1080.9" stroke="#111" stroke-width="1.2" fill="none"/><rect x="1070.7" y="901.7" width="13.0" height="14.3" fill="#64676b" stroke="#111" stroke-width="1.15"/><path d="M1142.2 878.7V850.9M1138.5 850.9H1145.9" stroke="#111" stroke-width="1.2" fill="none"/><rect x="1135.7" y="878.7" width="13.0" height="37.3" fill="#ed4c55" stroke="#111" stroke-width="1.15"/><path d="M1155.2 824.0V823.0M1151.5 823.0H1158.9" stroke="#111" stroke-width="1.2" fill="none"/><rect x="1148.7" y="824.0" width="13.0" height="92.0" fill="#e57678" stroke="#111" stroke-width="1.15"/><path d="M1168.2 828.3V826.6M1164.5 826.6H1171.9" stroke="#111" stroke-width="1.2" fill="none"/><rect x="1161.7" y="828.3" width="13.0" height="87.7" fill="#4566ac" stroke="#111" stroke-width="1.15"/><path d="M1181.2 907.3V906.4M1177.5 906.4H1184.9" stroke="#111" stroke-width="1.2" fill="none"/><rect x="1174.7" y="907.3" width="13.0" height="8.7" fill="#7281b9" stroke="#111" stroke-width="1.15"/><path d="M1051.7 814.4V916.0M1047.7 916.0H1195.7" stroke="#111" stroke-width="1.3" fill="none"/><text x="1048.3" y="818.4" font-size="10" text-anchor="end">50</text><text x="1048.3" y="838.6" font-size="10" text-anchor="end">40</text><text x="1048.3" y="858.8" font-size="10" text-anchor="end">30</text><text x="1048.3" y="879.0" font-size="10" text-anchor="end">20</text><text x="1048.3" y="899.2" font-size="10" text-anchor="end">10</text><text x="1048.3" y="919.4" font-size="10" text-anchor="end">0</text><path d="M1047.7 815.0H1051.7M1047.7 835.2H1051.7M1047.7 855.4H1051.7M1047.7 875.6H1051.7M1047.7 895.8H1051.7M1064.2 916.0v3.2M1077.2 916.0v3.2M1090.2 916.0v3.2M1103.2 916.0v3.2M1116.2 916.0v3.2M1129.2 916.0v3.2M1142.2 916.0v3.2M1155.2 916.0v3.2M1168.2 916.0v3.2M1181.2 916.0v3.2" stroke="#111" stroke-width="1.1" fill="none"/><text x="1064.2" y="927.3" font-size="8.7" fill="#4d4d4f" text-anchor="middle">1</text><text x="1077.2" y="927.3" font-size="8.7" fill="#4d4d4f" text-anchor="middle">3</text><path d="M1058.8 929.4H1079.4" stroke="#58595b" stroke-width="0.9"/><text transform="translate(1076.5 937.3) rotate(-45)" font-size="13.3" text-anchor="end">AB1</text><text x="1090.2" y="927.3" font-size="8.7" fill="#4d4d4f" text-anchor="middle">1</text><text x="1103.2" y="927.3" font-size="8.7" fill="#4d4d4f" text-anchor="middle">3</text><path d="M1084.8 929.4H1105.4" stroke="#58595b" stroke-width="0.9"/><text transform="translate(1102.5 937.3) rotate(-45)" font-size="13.3" text-anchor="end">4T1</text><text x="1116.2" y="927.3" font-size="8.7" fill="#4d4d4f" text-anchor="middle">1</text><text x="1129.2" y="927.3" font-size="8.7" fill="#4d4d4f" text-anchor="middle">3</text><path d="M1110.8 929.4H1131.4" stroke="#58595b" stroke-width="0.9"/><text transform="translate(1128.5 937.3) rotate(-45)" font-size="13.3" text-anchor="end">CTL</text><text x="1142.2" y="927.3" font-size="8.7" fill="#4d4d4f" text-anchor="middle">1</text><text x="1155.2" y="927.3" font-size="8.7" fill="#4d4d4f" text-anchor="middle">3</text><path d="M1136.8 929.4H1157.4" stroke="#58595b" stroke-width="0.9"/><text transform="translate(1154.5 937.3) rotate(-45)" font-size="13.3" text-anchor="end">AB1+CTL</text><text x="1168.2" y="927.3" font-size="8.7" fill="#4d4d4f" text-anchor="middle">1</text><text x="1181.2" y="927.3" font-size="8.7" fill="#4d4d4f" text-anchor="middle">3</text><path d="M1162.8 929.4H1183.4" stroke="#58595b" stroke-width="0.9"/><text transform="translate(1180.5 937.3) rotate(-45)" font-size="13.3" text-anchor="end">4T1+CTL</text><text x="1059.3" y="826.6" font-size="15.6" text-anchor="start">CCL24</text><text transform="translate(1030.5 865.0) rotate(-90)" font-size="15.5" text-anchor="middle">Conc(pg/ml)</text></g>
<g id="CCL3"><path d="M141.6 1046.0V1018.7M137.9 1018.7H145.2" stroke="#111" stroke-width="1.2" fill="none"/><rect x="135.0" y="1046.0" width="13.1" height="46.7" fill="#ed4c55" stroke="#111" stroke-width="1.15"/><rect x="148.1" y="1091.9" width="13.1" height="0.8" fill="#e57678" stroke="#111" stroke-width="1.15"/><path d="M167.8 1011.3V1006.4M164.1 1006.4H171.4" stroke="#111" stroke-width="1.2" fill="none"/><rect x="161.2" y="1011.3" width="13.1" height="81.4" fill="#4566ac" stroke="#111" stroke-width="1.15"/><rect x="174.3" y="1092.2" width="13.1" height="0.5" fill="#7281b9" stroke="#111" stroke-width="1.15"/><path d="M49.3 988.4V1092.7M45.3 1092.7H195.0" stroke="#111" stroke-width="1.3" fill="none"/><text x="45.0" y="992.4" font-size="10" text-anchor="end">4000</text><text x="45.0" y="1018.3" font-size="10" text-anchor="end">3000</text><text x="45.0" y="1044.2" font-size="10" text-anchor="end">2000</text><text x="45.0" y="1070.2" font-size="10" text-anchor="end">1000</text><text x="45.0" y="1096.1" font-size="10" text-anchor="end">0</text><path d="M45.3 989.0H49.3M45.3 1014.9H49.3M45.3 1040.8H49.3M45.3 1066.8H49.3M62.9 1092.7v3.2M76.0 1092.7v3.2M89.1 1092.7v3.2M102.2 1092.7v3.2M115.3 1092.7v3.2M128.5 1092.7v3.2M141.6 1092.7v3.2M154.7 1092.7v3.2M167.8 1092.7v3.2M180.8 1092.7v3.2" stroke="#111" stroke-width="1.1" fill="none"/><text x="62.9" y="1104.0" font-size="8.7" fill="#4d4d4f" text-anchor="middle">1</text><text x="76.0" y="1104.0" font-size="8.7" fill="#4d4d4f" text-anchor="middle">3</text><path d="M57.5 1106.1H78.3" stroke="#58595b" stroke-width="0.9"/><text transform="translate(75.3 1114.0) rotate(-45)" font-size="13.3" text-anchor="end">AB1</text><text x="89.1" y="1104.0" font-size="8.7" fill="#4d4d4f" text-anchor="middle">1</text><text x="102.2" y="1104.0" font-size="8.7" fill="#4d4d4f" text-anchor="middle">3</text><path d="M83.7 1106.1H104.5" stroke="#58595b" stroke-width="0.9"/><text transform="translate(101.5 1114.0) rotate(-45)" font-size="13.3" text-anchor="end">4T1</text><text x="115.3" y="1104.0" font-size="8.7" fill="#4d4d4f" text-anchor="middle">1</text><text x="128.4" y="1104.0" font-size="8.7" fill="#4d4d4f" text-anchor="middle">3</text><path d="M109.9 1106.1H130.7" stroke="#58595b" stroke-width="0.9"/><text transform="translate(127.7 1114.0) rotate(-45)" font-size="13.3" text-anchor="end">CTL</text><text x="141.6" y="1104.0" font-size="8.7" fill="#4d4d4f" text-anchor="middle">1</text><text x="154.7" y="1104.0" font-size="8.7" fill="#4d4d4f" text-anchor="middle">3</text><path d="M136.1 1106.1H156.9" stroke="#58595b" stroke-width="0.9"/><text transform="translate(153.9 1114.0) rotate(-45)" font-size="13.3" text-anchor="end">AB1+CTL</text><text x="167.8" y="1104.0" font-size="8.7" fill="#4d4d4f" text-anchor="middle">1</text><text x="180.8" y="1104.0" font-size="8.7" fill="#4d4d4f" text-anchor="middle">3</text><path d="M162.3 1106.1H183.1" stroke="#58595b" stroke-width="0.9"/><text transform="translate(180.1 1114.0) rotate(-45)" font-size="13.3" text-anchor="end">4T1+CTL</text><text x="57.3" y="1004.6" font-size="15.6" text-anchor="start">CCL3</text><text transform="translate(18.8 1037.0) rotate(-90)" font-size="15.5" text-anchor="middle">Conc(pg/ml)</text></g>
<g id="CCL4"><rect x="265.1" y="1092.3" width="13.1" height="0.4" fill="#353a3e" stroke="#111" stroke-width="1.15"/><rect x="278.2" y="1092.3" width="13.1" height="0.4" fill="#64676b" stroke="#111" stroke-width="1.15"/><rect x="291.3" y="1092.3" width="13.1" height="0.4" fill="#37ad5b" stroke="#111" stroke-width="1.15"/><rect x="304.4" y="1092.3" width="13.1" height="0.4" fill="#63b85b" stroke="#111" stroke-width="1.15"/><path d="M350.3 1028.3V1012.7M346.6 1012.7H354.0" stroke="#111" stroke-width="1.2" fill="none"/><rect x="343.7" y="1028.3" width="13.1" height="64.4" fill="#ed4c55" stroke="#111" stroke-width="1.15"/><rect x="356.8" y="1090.3" width="13.1" height="2.4" fill="#e57678" stroke="#111" stroke-width="1.15"/><path d="M376.5 1047.7V1039.6M372.8 1039.6H380.2" stroke="#111" stroke-width="1.2" fill="none"/><rect x="369.9" y="1047.7" width="13.1" height="45.0" fill="#4566ac" stroke="#111" stroke-width="1.15"/><rect x="383.0" y="1091.7" width="13.1" height="1.0" fill="#7281b9" stroke="#111" stroke-width="1.15"/><path d="M255.0 992.7V1092.7M251.0 1092.7H404.0" stroke="#111" stroke-width="1.3" fill="none"/><text x="252.3" y="996.7" font-size="10" text-anchor="end">8000</text><text x="252.3" y="1021.5" font-size="10" text-anchor="end">6000</text><text x="252.3" y="1046.4" font-size="10" text-anchor="end">4000</text><text x="252.3" y="1071.2" font-size="10" text-anchor="end">2000</text><text x="252.3" y="1096.1" font-size="10" text-anchor="end">0</text><path d="M251.0 993.3H255.0M251.0 1018.1H255.0M251.0 1043.0H255.0M251.0 1067.8H255.0M271.7 1092.7v3.2M284.8 1092.7v3.2M297.9 1092.7v3.2M311.0 1092.7v3.2M324.1 1092.7v3.2M337.2 1092.7v3.2M350.3 1092.7v3.2M363.4 1092.7v3.2M376.5 1092.7v3.2M389.6 1092.7v3.2" stroke="#111" stroke-width="1.1" fill="none"/><text x="271.7" y="1104.0" font-size="8.7" fill="#4d4d4f" text-anchor="middle">1</text><text x="284.8" y="1104.0" font-size="8.7" fill="#4d4d4f" text-anchor="middle">3</text><path d="M266.2 1106.1H287.0" stroke="#58595b" stroke-width="0.9"/><text transform="translate(284.0 1114.0) rotate(-45)" font-size="13.3" text-anchor="end">AB1</text><text x="297.9" y="1104.0" font-size="8.7" fill="#4d4d4f" text-anchor="middle">1</text><text x="310.9" y="1104.0" font-size="8.7" fill="#4d4d4f" text-anchor="middle">3</text><path d="M292.4 1106.1H313.2" stroke="#58595b" stroke-width="0.9"/><text transform="translate(310.2 1114.0) rotate(-45)" font-size="13.3" text-anchor="end">4T1</text><text x="324.1" y="1104.0" font-size="8.7" fill="#4d4d4f" text-anchor="middle">1</text><text x="337.1" y="1104.0" font-size="8.7" fill="#4d4d4f" text-anchor="middle">3</text><path d="M318.6 1106.1H339.4" stroke="#58595b" stroke-width="0.9"/><text transform="translate(336.4 1114.0) rotate(-45)" font-size="13.3" text-anchor="end">CTL</text><text x="350.3" y="1104.0" font-size="8.7" fill="#4d4d4f" text-anchor="middle">1</text><text x="363.4" y="1104.0" font-size="8.7" fill="#4d4d4f" text-anchor="middle">3</text><path d="M344.8 1106.1H365.6" stroke="#58595b" stroke-width="0.9"/><text transform="translate(362.6 1114.0) rotate(-45)" font-size="13.3" text-anchor="end">AB1+CTL</text><text x="376.5" y="1104.0" font-size="8.7" fill="#4d4d4f" text-anchor="middle">1</text><text x="389.6" y="1104.0" font-size="8.7" fill="#4d4d4f" text-anchor="middle">3</text><path d="M371.0 1106.1H391.8" stroke="#58595b" stroke-width="0.9"/><text transform="translate(388.8 1114.0) rotate(-45)" font-size="13.3" text-anchor="end">4T1+CTL</text><text x="264.3" y="1003.9" font-size="15.6" text-anchor="start">CCL4</text><text transform="translate(223.8 1041.0) rotate(-90)" font-size="15.5" text-anchor="middle">Conc(pg/ml)</text></g>
<g id="CCL5"><rect x="467.2" y="1089.7" width="12.8" height="1.0" fill="#111" stroke="#111" stroke-width="1.15"/><rect x="479.9" y="1090.0" width="12.8" height="0.7" fill="#111" stroke="#111" stroke-width="1.15"/><path d="M499.1 1080.4V1077.0M495.4 1077.0H502.8" stroke="#111" stroke-width="1.2" fill="none"/><rect x="492.7" y="1080.4" width="12.8" height="10.3" fill="#111" stroke="#111" stroke-width="1.15"/><path d="M511.8 1081.4V1080.9M508.1 1080.9H515.5" stroke="#111" stroke-width="1.2" fill="none"/><rect x="505.4" y="1081.4" width="12.8" height="9.3" fill="#111" stroke="#111" stroke-width="1.15"/><rect x="518.2" y="1090.3" width="12.8" height="0.4" fill="#8c4798" stroke="#111" stroke-width="1.15"/><path d="M550.1 1026.3V1010.3M546.4 1010.3H553.8" stroke="#111" stroke-width="1.2" fill="none"/><rect x="543.7" y="1026.3" width="12.8" height="64.4" fill="#ed4c55" stroke="#111" stroke-width="1.15"/><path d="M562.8 1082.4V1081.4M559.1 1081.4H566.5" stroke="#111" stroke-width="1.2" fill="none"/><rect x="556.5" y="1082.4" width="12.8" height="8.3" fill="#e57678" stroke="#111" stroke-width="1.15"/><path d="M575.6 1072.4V1070.4M571.9 1070.4H579.3" stroke="#111" stroke-width="1.2" fill="none"/><rect x="569.2" y="1072.4" width="12.8" height="18.3" fill="#4566ac" stroke="#111" stroke-width="1.15"/><path d="M588.3 1076.7V1074.7M584.6 1074.7H592.0" stroke="#111" stroke-width="1.2" fill="none"/><rect x="582.0" y="1076.7" width="12.8" height="14.0" fill="#7281b9" stroke="#111" stroke-width="1.15"/><path d="M461.7 986.7V1090.7M457.7 1090.7H602.7" stroke="#111" stroke-width="1.3" fill="none"/><text x="457.7" y="990.7" font-size="10" text-anchor="end">1500</text><text x="457.7" y="1011.4" font-size="10" text-anchor="end">1200</text><text x="457.7" y="1032.1" font-size="10" text-anchor="end">900</text><text x="457.7" y="1052.7" font-size="10" text-anchor="end">600</text><text x="457.7" y="1073.4" font-size="10" text-anchor="end">300</text><text x="457.7" y="1094.1" font-size="10" text-anchor="end">0</text><path d="M457.7 987.3H461.7M457.7 1008.0H461.7M457.7 1028.7H461.7M457.7 1049.3H461.7M457.7 1070.0H461.7M473.6 1090.7v3.2M486.3 1090.7v3.2M499.1 1090.7v3.2M511.8 1090.7v3.2M524.6 1090.7v3.2M537.3 1090.7v3.2M550.1 1090.7v3.2M562.8 1090.7v3.2M575.6 1090.7v3.2M588.3 1090.7v3.2" stroke="#111" stroke-width="1.1" fill="none"/><text x="473.6" y="1102.0" font-size="8.7" fill="#4d4d4f" text-anchor="middle">1</text><text x="486.3" y="1102.0" font-size="8.7" fill="#4d4d4f" text-anchor="middle">3</text><path d="M468.3 1104.1H488.4" stroke="#58595b" stroke-width="0.9"/><text transform="translate(485.8 1112.0) rotate(-45)" font-size="13.3" text-anchor="end">AB1</text><text x="499.1" y="1102.0" font-size="8.7" fill="#4d4d4f" text-anchor="middle">1</text><text x="511.8" y="1102.0" font-size="8.7" fill="#4d4d4f" text-anchor="middle">3</text><path d="M493.8 1104.1H513.9" stroke="#58595b" stroke-width="0.9"/><text transform="translate(511.2 1112.0) rotate(-45)" font-size="13.3" text-anchor="end">4T1</text><text x="524.6" y="1102.0" font-size="8.7" fill="#4d4d4f" text-anchor="middle">1</text><text x="537.3" y="1102.0" font-size="8.7" fill="#4d4d4f" text-anchor="middle">3</text><path d="M519.3 1104.1H539.4" stroke="#58595b" stroke-width="0.9"/><text transform="translate(536.8 1112.0) rotate(-45)" font-size="13.3" text-anchor="end">CTL</text><text x="550.1" y="1102.0" font-size="8.7" fill="#4d4d4f" text-anchor="middle">1</text><text x="562.8" y="1102.0" font-size="8.7" fill="#4d4d4f" text-anchor="middle">3</text><path d="M544.8 1104.1H564.9" stroke="#58595b" stroke-width="0.9"/><text transform="translate(562.2 1112.0) rotate(-45)" font-size="13.3" text-anchor="end">AB1+CTL</text><text x="575.6" y="1102.0" font-size="8.7" fill="#4d4d4f" text-anchor="middle">1</text><text x="588.3" y="1102.0" font-size="8.7" fill="#4d4d4f" text-anchor="middle">3</text><path d="M570.3 1104.1H590.4" stroke="#58595b" stroke-width="0.9"/><text transform="translate(587.8 1112.0) rotate(-45)" font-size="13.3" text-anchor="end">4T1+CTL</text><text x="469.0" y="998.9" font-size="15.6" text-anchor="start">CCL5</text><text transform="translate(429.8 1034.0) rotate(-90)" font-size="15.5" text-anchor="middle">Conc(pg/ml)</text></g>
<g id="CCL7"><path d="M679.8 1064.3V1063.3M676.1 1063.3H683.5" stroke="#111" stroke-width="1.2" fill="none"/><rect x="673.3" y="1064.3" width="13.1" height="27.7" fill="#353a3e" stroke="#111" stroke-width="1.15"/><path d="M692.9 1029.3V1024.3M689.2 1024.3H696.6" stroke="#111" stroke-width="1.2" fill="none"/><rect x="686.4" y="1029.3" width="13.1" height="62.7" fill="#64676b" stroke="#111" stroke-width="1.15"/><rect x="699.5" y="1091.7" width="13.1" height="0.3" fill="#37ad5b" stroke="#111" stroke-width="1.15"/><rect x="712.6" y="1091.7" width="13.1" height="0.3" fill="#63b85b" stroke="#111" stroke-width="1.15"/><rect x="725.7" y="1091.8" width="13.1" height="0.2" fill="#8c4798" stroke="#111" stroke-width="1.15"/><rect x="738.8" y="1091.8" width="13.1" height="0.2" fill="#b0659f" stroke="#111" stroke-width="1.15"/><path d="M758.4 1059.3V1028.0M754.7 1028.0H762.1" stroke="#111" stroke-width="1.2" fill="none"/><rect x="751.9" y="1059.3" width="13.1" height="32.7" fill="#ed4c55" stroke="#111" stroke-width="1.15"/><path d="M771.5 1001.0V1000.0M767.8 1000.0H775.2" stroke="#111" stroke-width="1.2" fill="none"/><rect x="765.0" y="1001.0" width="13.1" height="91.0" fill="#e57678" stroke="#111" stroke-width="1.15"/><path d="M784.6 1002.0V1001.0M780.9 1001.0H788.3" stroke="#111" stroke-width="1.2" fill="none"/><rect x="778.1" y="1002.0" width="13.1" height="90.0" fill="#4566ac" stroke="#111" stroke-width="1.15"/><path d="M797.7 1090.6V1090.2M794.0 1090.2H801.4" stroke="#111" stroke-width="1.2" fill="none"/><rect x="791.2" y="1090.6" width="13.1" height="1.4" fill="#7281b9" stroke="#111" stroke-width="1.15"/><path d="M666.7 990.1V1092.0M662.7 1092.0H811.7" stroke="#111" stroke-width="1.3" fill="none"/><text x="664.0" y="994.1" font-size="10" text-anchor="end">1500</text><text x="664.0" y="1014.4" font-size="10" text-anchor="end">1200</text><text x="664.0" y="1034.6" font-size="10" text-anchor="end">900</text><text x="664.0" y="1054.9" font-size="10" text-anchor="end">600</text><text x="664.0" y="1075.1" font-size="10" text-anchor="end">300</text><text x="664.0" y="1095.4" font-size="10" text-anchor="end">0</text><path d="M662.7 990.7H666.7M662.7 1011.0H666.7M662.7 1031.2H666.7M662.7 1051.5H666.7M662.7 1071.7H666.7M679.8 1092.0v3.2M692.9 1092.0v3.2M706.0 1092.0v3.2M719.1 1092.0v3.2M732.2 1092.0v3.2M745.3 1092.0v3.2M758.4 1092.0v3.2M771.5 1092.0v3.2M784.6 1092.0v3.2M797.7 1092.0v3.2" stroke="#111" stroke-width="1.1" fill="none"/><text x="679.8" y="1103.3" font-size="8.7" fill="#4d4d4f" text-anchor="middle">1</text><text x="692.9" y="1103.3" font-size="8.7" fill="#4d4d4f" text-anchor="middle">3</text><path d="M674.4 1105.4H695.2" stroke="#58595b" stroke-width="0.9"/><text transform="translate(692.2 1113.3) rotate(-45)" font-size="13.3" text-anchor="end">AB1</text><text x="706.0" y="1103.3" font-size="8.7" fill="#4d4d4f" text-anchor="middle">1</text><text x="719.1" y="1103.3" font-size="8.7" fill="#4d4d4f" text-anchor="middle">3</text><path d="M700.6 1105.4H721.4" stroke="#58595b" stroke-width="0.9"/><text transform="translate(718.4 1113.3) rotate(-45)" font-size="13.3" text-anchor="end">4T1</text><text x="732.2" y="1103.3" font-size="8.7" fill="#4d4d4f" text-anchor="middle">1</text><text x="745.3" y="1103.3" font-size="8.7" fill="#4d4d4f" text-anchor="middle">3</text><path d="M726.8 1105.4H747.6" stroke="#58595b" stroke-width="0.9"/><text transform="translate(744.6 1113.3) rotate(-45)" font-size="13.3" text-anchor="end">CTL</text><text x="758.4" y="1103.3" font-size="8.7" fill="#4d4d4f" text-anchor="middle">1</text><text x="771.5" y="1103.3" font-size="8.7" fill="#4d4d4f" text-anchor="middle">3</text><path d="M753.0 1105.4H773.8" stroke="#58595b" stroke-width="0.9"/><text transform="translate(770.8 1113.3) rotate(-45)" font-size="13.3" text-anchor="end">AB1+CTL</text><text x="784.6" y="1103.3" font-size="8.7" fill="#4d4d4f" text-anchor="middle">1</text><text x="797.7" y="1103.3" font-size="8.7" fill="#4d4d4f" text-anchor="middle">3</text><path d="M779.2 1105.4H800.0" stroke="#58595b" stroke-width="0.9"/><text transform="translate(797.0 1113.3) rotate(-45)" font-size="13.3" text-anchor="end">4T1+CTL</text><text x="675.0" y="1003.9" font-size="15.6" text-anchor="start">CCL7</text><text transform="translate(635.5 1038.5) rotate(-90)" font-size="15.5" text-anchor="middle">Conc(pg/ml)</text></g>
<g id="CCL8"><path d="M879.8 1083.3V1082.3M876.1 1082.3H883.5" stroke="#111" stroke-width="1.2" fill="none"/><rect x="873.3" y="1083.3" width="13.0" height="2.0" fill="#353a3e" stroke="#111" stroke-width="1.15"/><path d="M892.9 1082.0V1081.2M889.2 1081.2H896.6" stroke="#111" stroke-width="1.2" fill="none"/><rect x="886.3" y="1082.0" width="13.0" height="3.3" fill="#64676b" stroke="#111" stroke-width="1.15"/><path d="M958.1 1047.3V1009.3M954.4 1009.3H961.8" stroke="#111" stroke-width="1.2" fill="none"/><rect x="951.5" y="1047.3" width="13.0" height="38.0" fill="#ed4c55" stroke="#111" stroke-width="1.15"/><path d="M971.1 1034.4V1028.1M967.4 1028.1H974.8" stroke="#111" stroke-width="1.2" fill="none"/><rect x="964.6" y="1034.4" width="13.0" height="50.9" fill="#e57678" stroke="#111" stroke-width="1.15"/><path d="M984.1 1035.9V1029.6M980.4 1029.6H987.8" stroke="#111" stroke-width="1.2" fill="none"/><rect x="977.6" y="1035.9" width="13.0" height="49.4" fill="#4566ac" stroke="#111" stroke-width="1.15"/><path d="M866.0 983.4V1085.3M862.0 1085.3H1010.7" stroke="#111" stroke-width="1.3" fill="none"/><text x="862.7" y="987.4" font-size="10" text-anchor="end">400</text><text x="862.7" y="1012.7" font-size="10" text-anchor="end">300</text><text x="862.7" y="1038.1" font-size="10" text-anchor="end">200</text><text x="862.7" y="1063.4" font-size="10" text-anchor="end">100</text><text x="862.7" y="1088.7" font-size="10" text-anchor="end">0</text><path d="M862.0 984.0H866.0M862.0 1009.3H866.0M862.0 1034.7H866.0M862.0 1060.0H866.0M879.8 1085.3v3.2M892.9 1085.3v3.2M905.9 1085.3v3.2M918.9 1085.3v3.2M932.0 1085.3v3.2M945.0 1085.3v3.2M958.1 1085.3v3.2M971.1 1085.3v3.2M984.1 1085.3v3.2M997.2 1085.3v3.2" stroke="#111" stroke-width="1.1" fill="none"/><text x="879.8" y="1096.6" font-size="8.7" fill="#4d4d4f" text-anchor="middle">1</text><text x="892.9" y="1096.6" font-size="8.7" fill="#4d4d4f" text-anchor="middle">3</text><path d="M874.4 1098.7H895.1" stroke="#58595b" stroke-width="0.9"/><text transform="translate(892.1 1106.6) rotate(-45)" font-size="13.3" text-anchor="end">AB1</text><text x="905.9" y="1096.6" font-size="8.7" fill="#4d4d4f" text-anchor="middle">1</text><text x="918.9" y="1096.6" font-size="8.7" fill="#4d4d4f" text-anchor="middle">3</text><path d="M900.5 1098.7H921.2" stroke="#58595b" stroke-width="0.9"/><text transform="translate(918.2 1106.6) rotate(-45)" font-size="13.3" text-anchor="end">4T1</text><text x="932.0" y="1096.6" font-size="8.7" fill="#4d4d4f" text-anchor="middle">1</text><text x="945.0" y="1096.6" font-size="8.7" fill="#4d4d4f" text-anchor="middle">3</text><path d="M926.6 1098.7H947.2" stroke="#58595b" stroke-width="0.9"/><text transform="translate(944.3 1106.6) rotate(-45)" font-size="13.3" text-anchor="end">CTL</text><text x="958.1" y="1096.6" font-size="8.7" fill="#4d4d4f" text-anchor="middle">1</text><text x="971.1" y="1096.6" font-size="8.7" fill="#4d4d4f" text-anchor="middle">3</text><path d="M952.6 1098.7H973.3" stroke="#58595b" stroke-width="0.9"/><text transform="translate(970.4 1106.6) rotate(-45)" font-size="13.3" text-anchor="end">AB1+CTL</text><text x="984.1" y="1096.6" font-size="8.7" fill="#4d4d4f" text-anchor="middle">1</text><text x="997.2" y="1096.6" font-size="8.7" fill="#4d4d4f" text-anchor="middle">3</text><path d="M978.7 1098.7H999.4" stroke="#58595b" stroke-width="0.9"/><text transform="translate(996.5 1106.6) rotate(-45)" font-size="13.3" text-anchor="end">4T1+CTL</text><text x="875.0" y="996.6" font-size="15.6" text-anchor="start">CCL8</text><text transform="translate(837.1 1032.0) rotate(-90)" font-size="15.5" text-anchor="middle">Conc(pg/ml)</text></g>
<g id="CCL9"><path d="M1067.7 1050.7V1047.8M1064.0 1047.8H1071.4" stroke="#111" stroke-width="1.2" fill="none"/><rect x="1061.3" y="1050.7" width="12.9" height="38.3" fill="#353a3e" stroke="#111" stroke-width="1.15"/><path d="M1080.6 1005.3V996.4M1076.9 996.4H1084.3" stroke="#111" stroke-width="1.2" fill="none"/><rect x="1074.2" y="1005.3" width="12.9" height="83.7" fill="#64676b" stroke="#111" stroke-width="1.15"/><rect x="1087.0" y="1087.7" width="12.9" height="1.3" fill="#37ad5b" stroke="#111" stroke-width="1.15"/><path d="M1106.3 1086.0V1085.4M1102.6 1085.4H1110.0" stroke="#111" stroke-width="1.2" fill="none"/><rect x="1099.9" y="1086.0" width="12.9" height="3.0" fill="#63b85b" stroke="#111" stroke-width="1.15"/><rect x="1112.8" y="1088.0" width="12.9" height="1.0" fill="#8c4798" stroke="#111" stroke-width="1.15"/><rect x="1125.6" y="1088.3" width="12.9" height="0.7" fill="#b0659f" stroke="#111" stroke-width="1.15"/><path d="M1145.0 1066.1V1046.1M1141.3 1046.1H1148.7" stroke="#111" stroke-width="1.2" fill="none"/><rect x="1138.5" y="1066.1" width="12.9" height="22.9" fill="#ed4c55" stroke="#111" stroke-width="1.15"/><path d="M1157.8 1039.7V1035.4M1154.1 1035.4H1161.5" stroke="#111" stroke-width="1.2" fill="none"/><rect x="1151.4" y="1039.7" width="12.9" height="49.3" fill="#e57678" stroke="#111" stroke-width="1.15"/><path d="M1170.7 1041.6V1038.3M1167.0 1038.3H1174.4" stroke="#111" stroke-width="1.2" fill="none"/><rect x="1164.3" y="1041.6" width="12.9" height="47.4" fill="#4566ac" stroke="#111" stroke-width="1.15"/><path d="M1183.6 1086.7V1086.2M1179.9 1086.2H1187.3" stroke="#111" stroke-width="1.2" fill="none"/><rect x="1177.1" y="1086.7" width="12.9" height="2.3" fill="#7281b9" stroke="#111" stroke-width="1.15"/><path d="M1055.0 989.4V1089.0M1051.0 1089.0H1198.3" stroke="#111" stroke-width="1.3" fill="none"/><text x="1051.7" y="993.4" font-size="10" text-anchor="end">600</text><text x="1051.7" y="1018.1" font-size="10" text-anchor="end">450</text><text x="1051.7" y="1042.9" font-size="10" text-anchor="end">300</text><text x="1051.7" y="1067.7" font-size="10" text-anchor="end">150</text><text x="1051.7" y="1092.4" font-size="10" text-anchor="end">0</text><path d="M1051.0 990.0H1055.0M1051.0 1014.8H1055.0M1051.0 1039.5H1055.0M1051.0 1064.2H1055.0M1067.7 1089.0v3.2M1080.6 1089.0v3.2M1093.5 1089.0v3.2M1106.3 1089.0v3.2M1119.2 1089.0v3.2M1132.1 1089.0v3.2M1145.0 1089.0v3.2M1157.8 1089.0v3.2M1170.7 1089.0v3.2M1183.6 1089.0v3.2" stroke="#111" stroke-width="1.1" fill="none"/><text x="1067.7" y="1100.3" font-size="8.7" fill="#4d4d4f" text-anchor="middle">1</text><text x="1080.6" y="1100.3" font-size="8.7" fill="#4d4d4f" text-anchor="middle">3</text><path d="M1062.4 1102.4H1082.7" stroke="#58595b" stroke-width="0.9"/><text transform="translate(1080.0 1110.3) rotate(-45)" font-size="13.3" text-anchor="end">AB1</text><text x="1093.5" y="1100.3" font-size="8.7" fill="#4d4d4f" text-anchor="middle">1</text><text x="1106.3" y="1100.3" font-size="8.7" fill="#4d4d4f" text-anchor="middle">3</text><path d="M1088.1 1102.4H1108.5" stroke="#58595b" stroke-width="0.9"/><text transform="translate(1105.7 1110.3) rotate(-45)" font-size="13.3" text-anchor="end">4T1</text><text x="1119.2" y="1100.3" font-size="8.7" fill="#4d4d4f" text-anchor="middle">1</text><text x="1132.1" y="1100.3" font-size="8.7" fill="#4d4d4f" text-anchor="middle">3</text><path d="M1113.9 1102.4H1134.2" stroke="#58595b" stroke-width="0.9"/><text transform="translate(1131.4 1110.3) rotate(-45)" font-size="13.3" text-anchor="end">CTL</text><text x="1145.0" y="1100.3" font-size="8.7" fill="#4d4d4f" text-anchor="middle">1</text><text x="1157.8" y="1100.3" font-size="8.7" fill="#4d4d4f" text-anchor="middle">3</text><path d="M1139.6 1102.4H1160.0" stroke="#58595b" stroke-width="0.9"/><text transform="translate(1157.2 1110.3) rotate(-45)" font-size="13.3" text-anchor="end">AB1+CTL</text><text x="1170.7" y="1100.3" font-size="8.7" fill="#4d4d4f" text-anchor="middle">1</text><text x="1183.6" y="1100.3" font-size="8.7" fill="#4d4d4f" text-anchor="middle">3</text><path d="M1165.4 1102.4H1185.7" stroke="#58595b" stroke-width="0.9"/><text transform="translate(1182.9 1110.3) rotate(-45)" font-size="13.3" text-anchor="end">4T1+CTL</text><text x="1177.0" y="1000.6" font-size="15.6" text-anchor="end">CCL9</text><text transform="translate(1028.8 1038.0) rotate(-90)" font-size="15.5" text-anchor="middle">Conc(pg/ml)</text></g>
<g id="CXCL1"><rect x="57.9" y="1305.5" width="12.9" height="0.8" fill="#111" stroke="#111" stroke-width="1.15"/><rect x="70.8" y="1305.3" width="12.9" height="1.0" fill="#111" stroke="#111" stroke-width="1.15"/><rect x="83.7" y="1305.1" width="12.9" height="1.2" fill="#111" stroke="#111" stroke-width="1.15"/><path d="M103.0 1304.2V1303.6M99.3 1303.6H106.8" stroke="#111" stroke-width="1.2" fill="none"/><rect x="96.6" y="1304.2" width="12.9" height="2.1" fill="#111" stroke="#111" stroke-width="1.15"/><path d="M141.8 1271.9V1246.0M138.1 1246.0H145.4" stroke="#111" stroke-width="1.2" fill="none"/><rect x="135.3" y="1271.9" width="12.9" height="34.4" fill="#ed4c55" stroke="#111" stroke-width="1.15"/><path d="M154.6 1236.3V1225.7M150.9 1225.7H158.3" stroke="#111" stroke-width="1.2" fill="none"/><rect x="148.2" y="1236.3" width="12.9" height="70.0" fill="#e57678" stroke="#111" stroke-width="1.15"/><path d="M167.5 1250.3V1235.4M163.8 1235.4H171.2" stroke="#111" stroke-width="1.2" fill="none"/><rect x="161.1" y="1250.3" width="12.9" height="56.0" fill="#4566ac" stroke="#111" stroke-width="1.15"/><path d="M180.4 1295.7V1294.1M176.8 1294.1H184.1" stroke="#111" stroke-width="1.2" fill="none"/><rect x="174.0" y="1295.7" width="12.9" height="10.6" fill="#7281b9" stroke="#111" stroke-width="1.15"/><path d="M52.9 1202.6V1306.3M48.9 1306.3H194.3" stroke="#111" stroke-width="1.3" fill="none"/><text x="48.8" y="1206.6" font-size="10" text-anchor="end">25000</text><text x="48.8" y="1227.2" font-size="10" text-anchor="end">20000</text><text x="48.8" y="1247.8" font-size="10" text-anchor="end">15000</text><text x="48.8" y="1268.5" font-size="10" text-anchor="end">10000</text><text x="48.8" y="1289.1" font-size="10" text-anchor="end">5000</text><text x="48.8" y="1309.7" font-size="10" text-anchor="end">0</text><path d="M48.9 1203.2H52.9M48.9 1223.8H52.9M48.9 1244.4H52.9M48.9 1265.1H52.9M48.9 1285.7H52.9M64.3 1306.3v3.2M77.2 1306.3v3.2M90.2 1306.3v3.2M103.0 1306.3v3.2M116.0 1306.3v3.2M128.8 1306.3v3.2M141.8 1306.3v3.2M154.6 1306.3v3.2M167.5 1306.3v3.2M180.4 1306.3v3.2" stroke="#111" stroke-width="1.1" fill="none"/><text x="64.3" y="1317.6" font-size="8.7" fill="#4d4d4f" text-anchor="middle">1</text><text x="77.2" y="1317.6" font-size="8.7" fill="#4d4d4f" text-anchor="middle">3</text><path d="M59.0 1319.7H79.4" stroke="#58595b" stroke-width="0.9"/><text transform="translate(76.6 1327.6) rotate(-45)" font-size="13.3" text-anchor="end">AB1</text><text x="90.2" y="1317.6" font-size="8.7" fill="#4d4d4f" text-anchor="middle">1</text><text x="103.1" y="1317.6" font-size="8.7" fill="#4d4d4f" text-anchor="middle">3</text><path d="M84.8 1319.7H105.2" stroke="#58595b" stroke-width="0.9"/><text transform="translate(102.4 1327.6) rotate(-45)" font-size="13.3" text-anchor="end">4T1</text><text x="116.0" y="1317.6" font-size="8.7" fill="#4d4d4f" text-anchor="middle">1</text><text x="128.8" y="1317.6" font-size="8.7" fill="#4d4d4f" text-anchor="middle">3</text><path d="M110.6 1319.7H131.0" stroke="#58595b" stroke-width="0.9"/><text transform="translate(128.2 1327.6) rotate(-45)" font-size="13.3" text-anchor="end">CTL</text><text x="141.8" y="1317.6" font-size="8.7" fill="#4d4d4f" text-anchor="middle">1</text><text x="154.7" y="1317.6" font-size="8.7" fill="#4d4d4f" text-anchor="middle">3</text><path d="M136.4 1319.7H156.8" stroke="#58595b" stroke-width="0.9"/><text transform="translate(154.0 1327.6) rotate(-45)" font-size="13.3" text-anchor="end">AB1+CTL</text><text x="167.5" y="1317.6" font-size="8.7" fill="#4d4d4f" text-anchor="middle">1</text><text x="180.4" y="1317.6" font-size="8.7" fill="#4d4d4f" text-anchor="middle">3</text><path d="M162.2 1319.7H182.6" stroke="#58595b" stroke-width="0.9"/><text transform="translate(179.8 1327.6) rotate(-45)" font-size="13.3" text-anchor="end">4T1+CTL</text><text x="60.7" y="1217.3" font-size="15.6" text-anchor="start">CXCL1</text><text transform="translate(17.8 1249.0) rotate(-90)" font-size="15.5" text-anchor="middle">Conc(pg/ml)</text></g>
<g id="CXCL2"><path d="M267.5 1305.3V1304.7M263.8 1304.7H271.2" stroke="#111" stroke-width="1.2" fill="none"/><rect x="261.0" y="1305.3" width="13.0" height="3.0" fill="#353a3e" stroke="#111" stroke-width="1.15"/><path d="M280.5 1305.0V1304.0M276.8 1304.0H284.2" stroke="#111" stroke-width="1.2" fill="none"/><rect x="274.0" y="1305.0" width="13.0" height="3.3" fill="#64676b" stroke="#111" stroke-width="1.15"/><rect x="300.0" y="1308.0" width="13.0" height="0.3" fill="#63b85b" stroke="#111" stroke-width="1.15"/><path d="M345.5 1278.0V1249.9M341.8 1249.9H349.2" stroke="#111" stroke-width="1.2" fill="none"/><rect x="339.0" y="1278.0" width="13.0" height="30.3" fill="#ed4c55" stroke="#111" stroke-width="1.15"/><rect x="352.0" y="1221.6" width="13.0" height="86.7" fill="#e57678" stroke="#111" stroke-width="1.15"/><rect x="365.0" y="1221.6" width="13.0" height="86.7" fill="#4566ac" stroke="#111" stroke-width="1.15"/><path d="M384.5 1307.0V1306.3M380.8 1306.3H388.2" stroke="#111" stroke-width="1.2" fill="none"/><rect x="378.0" y="1307.0" width="13.0" height="1.3" fill="#7281b9" stroke="#111" stroke-width="1.15"/><path d="M254.5 1208.7V1308.3M250.5 1308.3H398.3" stroke="#111" stroke-width="1.3" fill="none"/><text x="251.2" y="1212.7" font-size="10" text-anchor="end">3000</text><text x="251.2" y="1232.5" font-size="10" text-anchor="end">2400</text><text x="251.2" y="1252.3" font-size="10" text-anchor="end">1800</text><text x="251.2" y="1272.1" font-size="10" text-anchor="end">1200</text><text x="251.2" y="1291.9" font-size="10" text-anchor="end">600</text><text x="251.2" y="1311.7" font-size="10" text-anchor="end">0</text><path d="M250.5 1209.3H254.5M250.5 1229.1H254.5M250.5 1248.9H254.5M250.5 1268.7H254.5M250.5 1288.5H254.5M267.5 1308.3v3.2M280.5 1308.3v3.2M293.5 1308.3v3.2M306.5 1308.3v3.2M319.5 1308.3v3.2M332.5 1308.3v3.2M345.5 1308.3v3.2M358.5 1308.3v3.2M371.5 1308.3v3.2M384.5 1308.3v3.2" stroke="#111" stroke-width="1.1" fill="none"/><text x="267.5" y="1319.6" font-size="8.7" fill="#4d4d4f" text-anchor="middle">1</text><text x="280.5" y="1319.6" font-size="8.7" fill="#4d4d4f" text-anchor="middle">3</text><path d="M262.1 1321.7H282.7" stroke="#58595b" stroke-width="0.9"/><text transform="translate(279.8 1329.6) rotate(-45)" font-size="13.3" text-anchor="end">AB1</text><text x="293.5" y="1319.6" font-size="8.7" fill="#4d4d4f" text-anchor="middle">1</text><text x="306.5" y="1319.6" font-size="8.7" fill="#4d4d4f" text-anchor="middle">3</text><path d="M288.1 1321.7H308.7" stroke="#58595b" stroke-width="0.9"/><text transform="translate(305.8 1329.6) rotate(-45)" font-size="13.3" text-anchor="end">4T1</text><text x="319.5" y="1319.6" font-size="8.7" fill="#4d4d4f" text-anchor="middle">1</text><text x="332.5" y="1319.6" font-size="8.7" fill="#4d4d4f" text-anchor="middle">3</text><path d="M314.1 1321.7H334.7" stroke="#58595b" stroke-width="0.9"/><text transform="translate(331.8 1329.6) rotate(-45)" font-size="13.3" text-anchor="end">CTL</text><text x="345.5" y="1319.6" font-size="8.7" fill="#4d4d4f" text-anchor="middle">1</text><text x="358.5" y="1319.6" font-size="8.7" fill="#4d4d4f" text-anchor="middle">3</text><path d="M340.1 1321.7H360.7" stroke="#58595b" stroke-width="0.9"/><text transform="translate(357.8 1329.6) rotate(-45)" font-size="13.3" text-anchor="end">AB1+CTL</text><text x="371.5" y="1319.6" font-size="8.7" fill="#4d4d4f" text-anchor="middle">1</text><text x="384.5" y="1319.6" font-size="8.7" fill="#4d4d4f" text-anchor="middle">3</text><path d="M366.1 1321.7H386.7" stroke="#58595b" stroke-width="0.9"/><text transform="translate(383.8 1329.6) rotate(-45)" font-size="13.3" text-anchor="end">4T1+CTL</text><text x="260.0" y="1220.6" font-size="15.6" text-anchor="start">CXCL2</text><text transform="translate(222.8 1257.5) rotate(-90)" font-size="15.5" text-anchor="middle">Conc(pg/ml)</text></g>
<g id="CXCL9"><path d="M542.2 1239.3V1230.7M538.5 1230.7H545.9" stroke="#111" stroke-width="1.2" fill="none"/><rect x="535.7" y="1239.3" width="13.1" height="68.0" fill="#ed4c55" stroke="#111" stroke-width="1.15"/><path d="M555.3 1233.2V1229.7M551.6 1229.7H559.0" stroke="#111" stroke-width="1.2" fill="none"/><rect x="548.8" y="1233.2" width="13.1" height="74.1" fill="#e57678" stroke="#111" stroke-width="1.15"/><path d="M568.4 1241.6V1234.6M564.7 1234.6H572.1" stroke="#111" stroke-width="1.2" fill="none"/><rect x="561.8" y="1241.6" width="13.1" height="65.7" fill="#4566ac" stroke="#111" stroke-width="1.15"/><path d="M581.5 1241.2V1235.6M577.8 1235.6H585.2" stroke="#111" stroke-width="1.2" fill="none"/><rect x="574.9" y="1241.2" width="13.1" height="66.1" fill="#7281b9" stroke="#111" stroke-width="1.15"/><path d="M450.3 1207.7V1307.3M446.3 1307.3H595.0" stroke="#111" stroke-width="1.3" fill="none"/><text x="448.9" y="1211.7" font-size="10" text-anchor="end">250</text><text x="448.9" y="1231.5" font-size="10" text-anchor="end">200</text><text x="448.9" y="1251.3" font-size="10" text-anchor="end">150</text><text x="448.9" y="1271.1" font-size="10" text-anchor="end">100</text><text x="448.9" y="1290.9" font-size="10" text-anchor="end">50</text><text x="448.9" y="1310.7" font-size="10" text-anchor="end">0</text><path d="M446.3 1208.3H450.3M446.3 1228.1H450.3M446.3 1247.9H450.3M446.3 1267.7H450.3M446.3 1287.5H450.3M463.7 1307.3v3.2M476.8 1307.3v3.2M489.9 1307.3v3.2M503.0 1307.3v3.2M516.1 1307.3v3.2M529.1 1307.3v3.2M542.2 1307.3v3.2M555.3 1307.3v3.2M568.4 1307.3v3.2M581.5 1307.3v3.2" stroke="#111" stroke-width="1.1" fill="none"/><text x="463.7" y="1318.6" font-size="8.7" fill="#4d4d4f" text-anchor="middle">1</text><text x="476.8" y="1318.6" font-size="8.7" fill="#4d4d4f" text-anchor="middle">3</text><path d="M458.3 1320.7H479.1" stroke="#58595b" stroke-width="0.9"/><text transform="translate(476.1 1328.6) rotate(-45)" font-size="13.3" text-anchor="end">AB1</text><text x="489.9" y="1318.6" font-size="8.7" fill="#4d4d4f" text-anchor="middle">1</text><text x="503.0" y="1318.6" font-size="8.7" fill="#4d4d4f" text-anchor="middle">3</text><path d="M484.5 1320.7H505.2" stroke="#58595b" stroke-width="0.9"/><text transform="translate(502.2 1328.6) rotate(-45)" font-size="13.3" text-anchor="end">4T1</text><text x="516.1" y="1318.6" font-size="8.7" fill="#4d4d4f" text-anchor="middle">1</text><text x="529.1" y="1318.6" font-size="8.7" fill="#4d4d4f" text-anchor="middle">3</text><path d="M510.6 1320.7H531.4" stroke="#58595b" stroke-width="0.9"/><text transform="translate(528.4 1328.6) rotate(-45)" font-size="13.3" text-anchor="end">CTL</text><text x="542.2" y="1318.6" font-size="8.7" fill="#4d4d4f" text-anchor="middle">1</text><text x="555.3" y="1318.6" font-size="8.7" fill="#4d4d4f" text-anchor="middle">3</text><path d="M536.8 1320.7H557.5" stroke="#58595b" stroke-width="0.9"/><text transform="translate(554.6 1328.6) rotate(-45)" font-size="13.3" text-anchor="end">AB1+CTL</text><text x="568.4" y="1318.6" font-size="8.7" fill="#4d4d4f" text-anchor="middle">1</text><text x="581.5" y="1318.6" font-size="8.7" fill="#4d4d4f" text-anchor="middle">3</text><path d="M562.9 1320.7H583.7" stroke="#58595b" stroke-width="0.9"/><text transform="translate(580.7 1328.6) rotate(-45)" font-size="13.3" text-anchor="end">4T1+CTL</text><text x="458.3" y="1222.3" font-size="15.6" text-anchor="start">CXCL9</text><text transform="translate(426.5 1257.0) rotate(-90)" font-size="15.5" text-anchor="middle">Conc(pg/ml)</text></g>
<g id="CXCL10"><rect x="664.3" y="1308.4" width="13.0" height="0.4" fill="#353a3e" stroke="#111" stroke-width="1.15"/><rect x="677.3" y="1308.2" width="13.0" height="0.6" fill="#64676b" stroke="#111" stroke-width="1.15"/><rect x="690.3" y="1308.4" width="13.0" height="0.4" fill="#37ad5b" stroke="#111" stroke-width="1.15"/><path d="M709.8 1307.2V1306.6M706.1 1306.6H713.5" stroke="#111" stroke-width="1.2" fill="none"/><rect x="703.3" y="1307.2" width="13.0" height="1.6" fill="#63b85b" stroke="#111" stroke-width="1.15"/><path d="M748.8 1250.3V1234.3M745.1 1234.3H752.5" stroke="#111" stroke-width="1.2" fill="none"/><rect x="742.3" y="1250.3" width="13.0" height="58.5" fill="#ed4c55" stroke="#111" stroke-width="1.15"/><path d="M761.8 1272.2V1270.2M758.1 1270.2H765.5" stroke="#111" stroke-width="1.2" fill="none"/><rect x="755.3" y="1272.2" width="13.0" height="36.6" fill="#e57678" stroke="#111" stroke-width="1.15"/><path d="M774.8 1239.9V1230.6M771.1 1230.6H778.5" stroke="#111" stroke-width="1.2" fill="none"/><rect x="768.3" y="1239.9" width="13.0" height="68.9" fill="#4566ac" stroke="#111" stroke-width="1.15"/><path d="M787.8 1294.2V1292.2M784.1 1292.2H791.5" stroke="#111" stroke-width="1.2" fill="none"/><rect x="781.3" y="1294.2" width="13.0" height="14.6" fill="#7281b9" stroke="#111" stroke-width="1.15"/><path d="M658.0 1209.4V1308.8M654.0 1308.8H801.7" stroke="#111" stroke-width="1.3" fill="none"/><text x="654.5" y="1213.4" font-size="10" text-anchor="end">5000</text><text x="654.5" y="1233.2" font-size="10" text-anchor="end">4000</text><text x="654.5" y="1252.9" font-size="10" text-anchor="end">3000</text><text x="654.5" y="1272.7" font-size="10" text-anchor="end">2000</text><text x="654.5" y="1292.4" font-size="10" text-anchor="end">1000</text><text x="654.5" y="1312.2" font-size="10" text-anchor="end">0</text><path d="M654.0 1210.0H658.0M654.0 1229.8H658.0M654.0 1249.5H658.0M654.0 1269.3H658.0M654.0 1289.0H658.0M670.8 1308.8v3.2M683.8 1308.8v3.2M696.8 1308.8v3.2M709.8 1308.8v3.2M722.8 1308.8v3.2M735.8 1308.8v3.2M748.8 1308.8v3.2M761.8 1308.8v3.2M774.8 1308.8v3.2M787.8 1308.8v3.2" stroke="#111" stroke-width="1.1" fill="none"/><text x="670.8" y="1320.1" font-size="8.7" fill="#4d4d4f" text-anchor="middle">1</text><text x="683.8" y="1320.1" font-size="8.7" fill="#4d4d4f" text-anchor="middle">3</text><path d="M665.4 1322.2H686.0" stroke="#58595b" stroke-width="0.9"/><text transform="translate(683.1 1330.1) rotate(-45)" font-size="13.3" text-anchor="end">AB1</text><text x="696.8" y="1320.1" font-size="8.7" fill="#4d4d4f" text-anchor="middle">1</text><text x="709.8" y="1320.1" font-size="8.7" fill="#4d4d4f" text-anchor="middle">3</text><path d="M691.4 1322.2H712.0" stroke="#58595b" stroke-width="0.9"/><text transform="translate(709.1 1330.1) rotate(-45)" font-size="13.3" text-anchor="end">4T1</text><text x="722.8" y="1320.1" font-size="8.7" fill="#4d4d4f" text-anchor="middle">1</text><text x="735.8" y="1320.1" font-size="8.7" fill="#4d4d4f" text-anchor="middle">3</text><path d="M717.4 1322.2H738.0" stroke="#58595b" stroke-width="0.9"/><text transform="translate(735.1 1330.1) rotate(-45)" font-size="13.3" text-anchor="end">CTL</text><text x="748.8" y="1320.1" font-size="8.7" fill="#4d4d4f" text-anchor="middle">1</text><text x="761.8" y="1320.1" font-size="8.7" fill="#4d4d4f" text-anchor="middle">3</text><path d="M743.4 1322.2H764.0" stroke="#58595b" stroke-width="0.9"/><text transform="translate(761.1 1330.1) rotate(-45)" font-size="13.3" text-anchor="end">AB1+CTL</text><text x="774.8" y="1320.1" font-size="8.7" fill="#4d4d4f" text-anchor="middle">1</text><text x="787.8" y="1320.1" font-size="8.7" fill="#4d4d4f" text-anchor="middle">3</text><path d="M769.4 1322.2H790.0" stroke="#58595b" stroke-width="0.9"/><text transform="translate(787.1 1330.1) rotate(-45)" font-size="13.3" text-anchor="end">4T1+CTL</text><text x="665.0" y="1222.3" font-size="15.6" text-anchor="start">CXCL10</text><text transform="translate(626.5 1257.0) rotate(-90)" font-size="15.5" text-anchor="middle">Conc(pg/ml)</text></g>
<g id="CXCL11"><rect x="861.5" y="1307.0" width="12.9" height="0.5" fill="#353a3e" stroke="#111" stroke-width="1.15"/><rect x="874.4" y="1306.7" width="12.9" height="0.8" fill="#64676b" stroke="#111" stroke-width="1.15"/><rect x="887.3" y="1307.2" width="12.9" height="0.3" fill="#37ad5b" stroke="#111" stroke-width="1.15"/><rect x="900.2" y="1307.2" width="12.9" height="0.3" fill="#63b85b" stroke="#111" stroke-width="1.15"/><path d="M945.4 1222.5V1221.2M941.6 1221.2H949.1" stroke="#111" stroke-width="1.2" fill="none"/><rect x="938.9" y="1222.5" width="12.9" height="85.0" fill="#ed4c55" stroke="#111" stroke-width="1.15"/><path d="M958.2 1278.5V1276.5M954.5 1276.5H962.0" stroke="#111" stroke-width="1.2" fill="none"/><rect x="951.8" y="1278.5" width="12.9" height="29.0" fill="#e57678" stroke="#111" stroke-width="1.15"/><path d="M971.2 1265.5V1262.5M967.5 1262.5H974.9" stroke="#111" stroke-width="1.2" fill="none"/><rect x="964.7" y="1265.5" width="12.9" height="42.0" fill="#4566ac" stroke="#111" stroke-width="1.15"/><path d="M984.1 1263.2V1258.5M980.4 1258.5H987.8" stroke="#111" stroke-width="1.2" fill="none"/><rect x="977.6" y="1263.2" width="12.9" height="44.3" fill="#7281b9" stroke="#111" stroke-width="1.15"/><path d="M855.0 1205.6V1307.5M851.0 1307.5H998.3" stroke="#111" stroke-width="1.3" fill="none"/><text x="851.3" y="1209.6" font-size="10" text-anchor="end">2000</text><text x="851.3" y="1234.9" font-size="10" text-anchor="end">1500</text><text x="851.3" y="1260.2" font-size="10" text-anchor="end">1000</text><text x="851.3" y="1285.6" font-size="10" text-anchor="end">500</text><text x="851.3" y="1310.9" font-size="10" text-anchor="end">0</text><path d="M851.0 1206.2H855.0M851.0 1231.5H855.0M851.0 1256.8H855.0M851.0 1282.2H855.0M868.0 1307.5v3.2M880.9 1307.5v3.2M893.8 1307.5v3.2M906.7 1307.5v3.2M919.6 1307.5v3.2M932.5 1307.5v3.2M945.4 1307.5v3.2M958.2 1307.5v3.2M971.2 1307.5v3.2M984.1 1307.5v3.2" stroke="#111" stroke-width="1.1" fill="none"/><text x="868.0" y="1318.8" font-size="8.7" fill="#4d4d4f" text-anchor="middle">1</text><text x="880.9" y="1318.8" font-size="8.7" fill="#4d4d4f" text-anchor="middle">3</text><path d="M862.6 1320.9H883.0" stroke="#58595b" stroke-width="0.9"/><text transform="translate(880.2 1328.8) rotate(-45)" font-size="13.3" text-anchor="end">AB1</text><text x="893.8" y="1318.8" font-size="8.7" fill="#4d4d4f" text-anchor="middle">1</text><text x="906.6" y="1318.8" font-size="8.7" fill="#4d4d4f" text-anchor="middle">3</text><path d="M888.4 1320.9H908.8" stroke="#58595b" stroke-width="0.9"/><text transform="translate(906.0 1328.8) rotate(-45)" font-size="13.3" text-anchor="end">4T1</text><text x="919.6" y="1318.8" font-size="8.7" fill="#4d4d4f" text-anchor="middle">1</text><text x="932.5" y="1318.8" font-size="8.7" fill="#4d4d4f" text-anchor="middle">3</text><path d="M914.2 1320.9H934.6" stroke="#58595b" stroke-width="0.9"/><text transform="translate(931.8 1328.8) rotate(-45)" font-size="13.3" text-anchor="end">CTL</text><text x="945.4" y="1318.8" font-size="8.7" fill="#4d4d4f" text-anchor="middle">1</text><text x="958.2" y="1318.8" font-size="8.7" fill="#4d4d4f" text-anchor="middle">3</text><path d="M940.0 1320.9H960.4" stroke="#58595b" stroke-width="0.9"/><text transform="translate(957.6 1328.8) rotate(-45)" font-size="13.3" text-anchor="end">AB1+CTL</text><text x="971.2" y="1318.8" font-size="8.7" fill="#4d4d4f" text-anchor="middle">1</text><text x="984.1" y="1318.8" font-size="8.7" fill="#4d4d4f" text-anchor="middle">3</text><path d="M965.8 1320.9H986.2" stroke="#58595b" stroke-width="0.9"/><text transform="translate(983.4 1328.8) rotate(-45)" font-size="13.3" text-anchor="end">4T1+CTL</text><text x="862.7" y="1220.6" font-size="15.6" text-anchor="start">CXCL11</text><text transform="translate(823.1 1256.5) rotate(-90)" font-size="15.5" text-anchor="middle">Conc(pg/ml)</text></g>
<g id="CXCL12"><path d="M1068.8 1294.8V1294.2M1065.1 1294.2H1072.5" stroke="#111" stroke-width="1.2" fill="none"/><rect x="1062.3" y="1294.8" width="13.0" height="13.5" fill="#353a3e" stroke="#111" stroke-width="1.15"/><path d="M1081.8 1215.2V1214.0M1078.1 1214.0H1085.5" stroke="#111" stroke-width="1.2" fill="none"/><rect x="1075.3" y="1215.2" width="13.0" height="93.1" fill="#64676b" stroke="#111" stroke-width="1.15"/><path d="M1094.8 1306.0V1303.6M1091.1 1303.6H1098.5" stroke="#111" stroke-width="1.2" fill="none"/><rect x="1088.3" y="1306.0" width="13.0" height="2.3" fill="#37ad5b" stroke="#111" stroke-width="1.15"/><path d="M1146.8 1298.9V1297.9M1143.1 1297.9H1150.5" stroke="#111" stroke-width="1.2" fill="none"/><rect x="1140.3" y="1298.9" width="13.0" height="9.4" fill="#ed4c55" stroke="#111" stroke-width="1.15"/><rect x="1153.3" y="1301.3" width="13.0" height="7.0" fill="#e57678" stroke="#111" stroke-width="1.15"/><path d="M1172.8 1298.3V1297.7M1169.1 1297.7H1176.5" stroke="#111" stroke-width="1.2" fill="none"/><rect x="1166.3" y="1298.3" width="13.0" height="10.0" fill="#4566ac" stroke="#111" stroke-width="1.15"/><path d="M1185.8 1303.9V1301.6M1182.1 1301.6H1189.5" stroke="#111" stroke-width="1.2" fill="none"/><rect x="1179.3" y="1303.9" width="13.0" height="4.4" fill="#7281b9" stroke="#111" stroke-width="1.15"/><path d="M1056.2 1205.6V1308.3M1052.2 1308.3H1200.0" stroke="#111" stroke-width="1.3" fill="none"/><text x="1052.9" y="1209.6" font-size="10" text-anchor="end">250</text><text x="1052.9" y="1230.0" font-size="10" text-anchor="end">200</text><text x="1052.9" y="1250.4" font-size="10" text-anchor="end">150</text><text x="1052.9" y="1270.9" font-size="10" text-anchor="end">100</text><text x="1052.9" y="1291.3" font-size="10" text-anchor="end">50</text><text x="1052.9" y="1311.7" font-size="10" text-anchor="end">0</text><path d="M1052.2 1206.2H1056.2M1052.2 1226.6H1056.2M1052.2 1247.0H1056.2M1052.2 1267.5H1056.2M1052.2 1287.9H1056.2M1068.8 1308.3v3.2M1081.8 1308.3v3.2M1094.8 1308.3v3.2M1107.8 1308.3v3.2M1120.8 1308.3v3.2M1133.8 1308.3v3.2M1146.8 1308.3v3.2M1159.8 1308.3v3.2M1172.8 1308.3v3.2M1185.8 1308.3v3.2" stroke="#111" stroke-width="1.1" fill="none"/><text x="1068.8" y="1319.6" font-size="8.7" fill="#4d4d4f" text-anchor="middle">1</text><text x="1081.8" y="1319.6" font-size="8.7" fill="#4d4d4f" text-anchor="middle">3</text><path d="M1063.4 1321.7H1084.0" stroke="#58595b" stroke-width="0.9"/><text transform="translate(1081.1 1329.6) rotate(-45)" font-size="13.3" text-anchor="end">AB1</text><text x="1094.8" y="1319.6" font-size="8.7" fill="#4d4d4f" text-anchor="middle">1</text><text x="1107.8" y="1319.6" font-size="8.7" fill="#4d4d4f" text-anchor="middle">3</text><path d="M1089.4 1321.7H1110.0" stroke="#58595b" stroke-width="0.9"/><text transform="translate(1107.1 1329.6) rotate(-45)" font-size="13.3" text-anchor="end">4T1</text><text x="1120.8" y="1319.6" font-size="8.7" fill="#4d4d4f" text-anchor="middle">1</text><text x="1133.8" y="1319.6" font-size="8.7" fill="#4d4d4f" text-anchor="middle">3</text><path d="M1115.4 1321.7H1136.0" stroke="#58595b" stroke-width="0.9"/><text transform="translate(1133.1 1329.6) rotate(-45)" font-size="13.3" text-anchor="end">CTL</text><text x="1146.8" y="1319.6" font-size="8.7" fill="#4d4d4f" text-anchor="middle">1</text><text x="1159.8" y="1319.6" font-size="8.7" fill="#4d4d4f" text-anchor="middle">3</text><path d="M1141.4 1321.7H1162.0" stroke="#58595b" stroke-width="0.9"/><text transform="translate(1159.1 1329.6) rotate(-45)" font-size="13.3" text-anchor="end">AB1+CTL</text><text x="1172.8" y="1319.6" font-size="8.7" fill="#4d4d4f" text-anchor="middle">1</text><text x="1185.8" y="1319.6" font-size="8.7" fill="#4d4d4f" text-anchor="middle">3</text><path d="M1167.4 1321.7H1188.0" stroke="#58595b" stroke-width="0.9"/><text transform="translate(1185.1 1329.6) rotate(-45)" font-size="13.3" text-anchor="end">4T1+CTL</text><text x="1195.0" y="1219.9" font-size="15.6" text-anchor="end">CXCL12</text><text transform="translate(1030.5 1256.5) rotate(-90)" font-size="15.5" text-anchor="middle">Conc(pg/ml)</text></g>
<g id="XCL1"><rect x="55.0" y="1485.3" width="12.8" height="1.0" fill="#353a3e" stroke="#111" stroke-width="1.15"/><rect x="67.8" y="1485.3" width="12.8" height="1.0" fill="#64676b" stroke="#111" stroke-width="1.15"/><rect x="80.7" y="1486.0" width="12.8" height="0.3" fill="#37ad5b" stroke="#111" stroke-width="1.15"/><rect x="93.5" y="1486.0" width="12.8" height="0.3" fill="#63b85b" stroke="#111" stroke-width="1.15"/><rect x="106.3" y="1486.0" width="12.8" height="0.3" fill="#8c4798" stroke="#111" stroke-width="1.15"/><path d="M138.4 1437.3V1422.7M134.7 1422.7H142.1" stroke="#111" stroke-width="1.2" fill="none"/><rect x="132.0" y="1437.3" width="12.8" height="49.0" fill="#ed4c55" stroke="#111" stroke-width="1.15"/><path d="M151.2 1450.4V1446.6M147.5 1446.6H154.9" stroke="#111" stroke-width="1.2" fill="none"/><rect x="144.8" y="1450.4" width="12.8" height="35.9" fill="#e57678" stroke="#111" stroke-width="1.15"/><path d="M164.1 1411.3V1404.3M160.4 1404.3H167.8" stroke="#111" stroke-width="1.2" fill="none"/><rect x="157.6" y="1411.3" width="12.8" height="75.0" fill="#4566ac" stroke="#111" stroke-width="1.15"/><path d="M176.9 1473.3V1470.3M173.2 1470.3H180.6" stroke="#111" stroke-width="1.2" fill="none"/><rect x="170.5" y="1473.3" width="12.8" height="13.0" fill="#7281b9" stroke="#111" stroke-width="1.15"/><path d="M47.0 1386.4V1486.3M43.0 1486.3H190.7" stroke="#111" stroke-width="1.3" fill="none"/><text x="45.0" y="1390.4" font-size="10" text-anchor="end">1500</text><text x="45.0" y="1410.3" font-size="10" text-anchor="end">1200</text><text x="45.0" y="1430.1" font-size="10" text-anchor="end">900</text><text x="45.0" y="1450.0" font-size="10" text-anchor="end">600</text><text x="45.0" y="1469.8" font-size="10" text-anchor="end">300</text><text x="45.0" y="1489.7" font-size="10" text-anchor="end">0</text><path d="M43.0 1387.0H47.0M43.0 1406.9H47.0M43.0 1426.7H47.0M43.0 1446.6H47.0M43.0 1466.4H47.0M61.4 1486.3v3.2M74.2 1486.3v3.2M87.1 1486.3v3.2M99.9 1486.3v3.2M112.7 1486.3v3.2M125.6 1486.3v3.2M138.4 1486.3v3.2M151.2 1486.3v3.2M164.1 1486.3v3.2M176.9 1486.3v3.2" stroke="#111" stroke-width="1.1" fill="none"/><text x="61.4" y="1497.6" font-size="8.7" fill="#4d4d4f" text-anchor="middle">1</text><text x="74.2" y="1497.6" font-size="8.7" fill="#4d4d4f" text-anchor="middle">3</text><path d="M56.1 1499.7H76.4" stroke="#58595b" stroke-width="0.9"/><text transform="translate(73.6 1507.6) rotate(-45)" font-size="13.3" text-anchor="end">AB1</text><text x="87.1" y="1497.6" font-size="8.7" fill="#4d4d4f" text-anchor="middle">1</text><text x="99.9" y="1497.6" font-size="8.7" fill="#4d4d4f" text-anchor="middle">3</text><path d="M81.8 1499.7H102.0" stroke="#58595b" stroke-width="0.9"/><text transform="translate(99.3 1507.6) rotate(-45)" font-size="13.3" text-anchor="end">4T1</text><text x="112.7" y="1497.6" font-size="8.7" fill="#4d4d4f" text-anchor="middle">1</text><text x="125.6" y="1497.6" font-size="8.7" fill="#4d4d4f" text-anchor="middle">3</text><path d="M107.4 1499.7H127.7" stroke="#58595b" stroke-width="0.9"/><text transform="translate(124.9 1507.6) rotate(-45)" font-size="13.3" text-anchor="end">CTL</text><text x="138.4" y="1497.6" font-size="8.7" fill="#4d4d4f" text-anchor="middle">1</text><text x="151.2" y="1497.6" font-size="8.7" fill="#4d4d4f" text-anchor="middle">3</text><path d="M133.1 1499.7H153.3" stroke="#58595b" stroke-width="0.9"/><text transform="translate(150.6 1507.6) rotate(-45)" font-size="13.3" text-anchor="end">AB1+CTL</text><text x="164.1" y="1497.6" font-size="8.7" fill="#4d4d4f" text-anchor="middle">1</text><text x="176.9" y="1497.6" font-size="8.7" fill="#4d4d4f" text-anchor="middle">3</text><path d="M158.7 1499.7H179.0" stroke="#58595b" stroke-width="0.9"/><text transform="translate(176.3 1507.6) rotate(-45)" font-size="13.3" text-anchor="end">4T1+CTL</text><text x="57.3" y="1396.3" font-size="15.6" text-anchor="start">XCL1</text><text transform="translate(17.1 1434.0) rotate(-90)" font-size="15.5" text-anchor="middle">Conc(pg/ml)</text></g>
<g id="CX3CL1"><path d="M258.7 1439.3V1437.7M255.0 1437.7H262.4" stroke="#111" stroke-width="1.2" fill="none"/><rect x="252.3" y="1439.3" width="12.8" height="47.0" fill="#353a3e" stroke="#111" stroke-width="1.15"/><path d="M271.5 1410.0V1408.3M267.8 1408.3H275.2" stroke="#111" stroke-width="1.2" fill="none"/><rect x="265.1" y="1410.0" width="12.8" height="76.3" fill="#64676b" stroke="#111" stroke-width="1.15"/><path d="M284.4 1463.3V1458.7M280.7 1458.7H288.1" stroke="#111" stroke-width="1.2" fill="none"/><rect x="278.0" y="1463.3" width="12.8" height="23.0" fill="#37ad5b" stroke="#111" stroke-width="1.15"/><path d="M297.2 1443.3V1440.0M293.5 1440.0H300.9" stroke="#111" stroke-width="1.2" fill="none"/><rect x="290.8" y="1443.3" width="12.8" height="43.0" fill="#63b85b" stroke="#111" stroke-width="1.15"/><path d="M335.7 1441.3V1436.7M332.0 1436.7H339.4" stroke="#111" stroke-width="1.2" fill="none"/><rect x="329.3" y="1441.3" width="12.8" height="45.0" fill="#ed4c55" stroke="#111" stroke-width="1.15"/><path d="M348.5 1454.7V1452.6M344.8 1452.6H352.2" stroke="#111" stroke-width="1.2" fill="none"/><rect x="342.1" y="1454.7" width="12.8" height="31.6" fill="#e57678" stroke="#111" stroke-width="1.15"/><path d="M361.4 1453.6V1451.8M357.7 1451.8H365.1" stroke="#111" stroke-width="1.2" fill="none"/><rect x="354.9" y="1453.6" width="12.8" height="32.7" fill="#4566ac" stroke="#111" stroke-width="1.15"/><path d="M374.2 1450.3V1448.6M370.5 1448.6H377.9" stroke="#111" stroke-width="1.2" fill="none"/><rect x="367.8" y="1450.3" width="12.8" height="36.0" fill="#7281b9" stroke="#111" stroke-width="1.15"/><path d="M246.0 1384.1V1486.3M242.0 1486.3H390.0" stroke="#111" stroke-width="1.3" fill="none"/><text x="242.8" y="1388.1" font-size="10" text-anchor="end">250</text><text x="242.8" y="1408.4" font-size="10" text-anchor="end">200</text><text x="242.8" y="1428.7" font-size="10" text-anchor="end">150</text><text x="242.8" y="1449.1" font-size="10" text-anchor="end">100</text><text x="242.8" y="1469.4" font-size="10" text-anchor="end">50</text><text x="242.8" y="1489.7" font-size="10" text-anchor="end">0</text><path d="M242.0 1384.7H246.0M242.0 1405.0H246.0M242.0 1425.3H246.0M242.0 1445.7H246.0M242.0 1466.0H246.0M258.7 1486.3v3.2M271.5 1486.3v3.2M284.4 1486.3v3.2M297.2 1486.3v3.2M310.0 1486.3v3.2M322.9 1486.3v3.2M335.7 1486.3v3.2M348.5 1486.3v3.2M361.4 1486.3v3.2M374.2 1486.3v3.2" stroke="#111" stroke-width="1.1" fill="none"/><text x="258.7" y="1497.6" font-size="8.7" fill="#4d4d4f" text-anchor="middle">1</text><text x="271.5" y="1497.6" font-size="8.7" fill="#4d4d4f" text-anchor="middle">3</text><path d="M253.4 1499.7H273.7" stroke="#58595b" stroke-width="0.9"/><text transform="translate(270.9 1507.6) rotate(-45)" font-size="13.3" text-anchor="end">AB1</text><text x="284.4" y="1497.6" font-size="8.7" fill="#4d4d4f" text-anchor="middle">1</text><text x="297.2" y="1497.6" font-size="8.7" fill="#4d4d4f" text-anchor="middle">3</text><path d="M279.1 1499.7H299.3" stroke="#58595b" stroke-width="0.9"/><text transform="translate(296.6 1507.6) rotate(-45)" font-size="13.3" text-anchor="end">4T1</text><text x="310.0" y="1497.6" font-size="8.7" fill="#4d4d4f" text-anchor="middle">1</text><text x="322.9" y="1497.6" font-size="8.7" fill="#4d4d4f" text-anchor="middle">3</text><path d="M304.7 1499.7H325.0" stroke="#58595b" stroke-width="0.9"/><text transform="translate(322.2 1507.6) rotate(-45)" font-size="13.3" text-anchor="end">CTL</text><text x="335.7" y="1497.6" font-size="8.7" fill="#4d4d4f" text-anchor="middle">1</text><text x="348.5" y="1497.6" font-size="8.7" fill="#4d4d4f" text-anchor="middle">3</text><path d="M330.4 1499.7H350.6" stroke="#58595b" stroke-width="0.9"/><text transform="translate(347.9 1507.6) rotate(-45)" font-size="13.3" text-anchor="end">AB1+CTL</text><text x="361.4" y="1497.6" font-size="8.7" fill="#4d4d4f" text-anchor="middle">1</text><text x="374.2" y="1497.6" font-size="8.7" fill="#4d4d4f" text-anchor="middle">3</text><path d="M356.0 1499.7H376.3" stroke="#58595b" stroke-width="0.9"/><text transform="translate(373.6 1507.6) rotate(-45)" font-size="13.3" text-anchor="end">4T1+CTL</text><text x="377.0" y="1400.9" font-size="15.6" text-anchor="end">CX3CL1</text><text transform="translate(220.5 1434.5) rotate(-90)" font-size="15.5" text-anchor="middle">Conc(pg/ml)</text></g>
<path d="M45.3 971.3h4M458.3 972h4" stroke="#222" stroke-width="1.2"/>
</svg></body></html>
